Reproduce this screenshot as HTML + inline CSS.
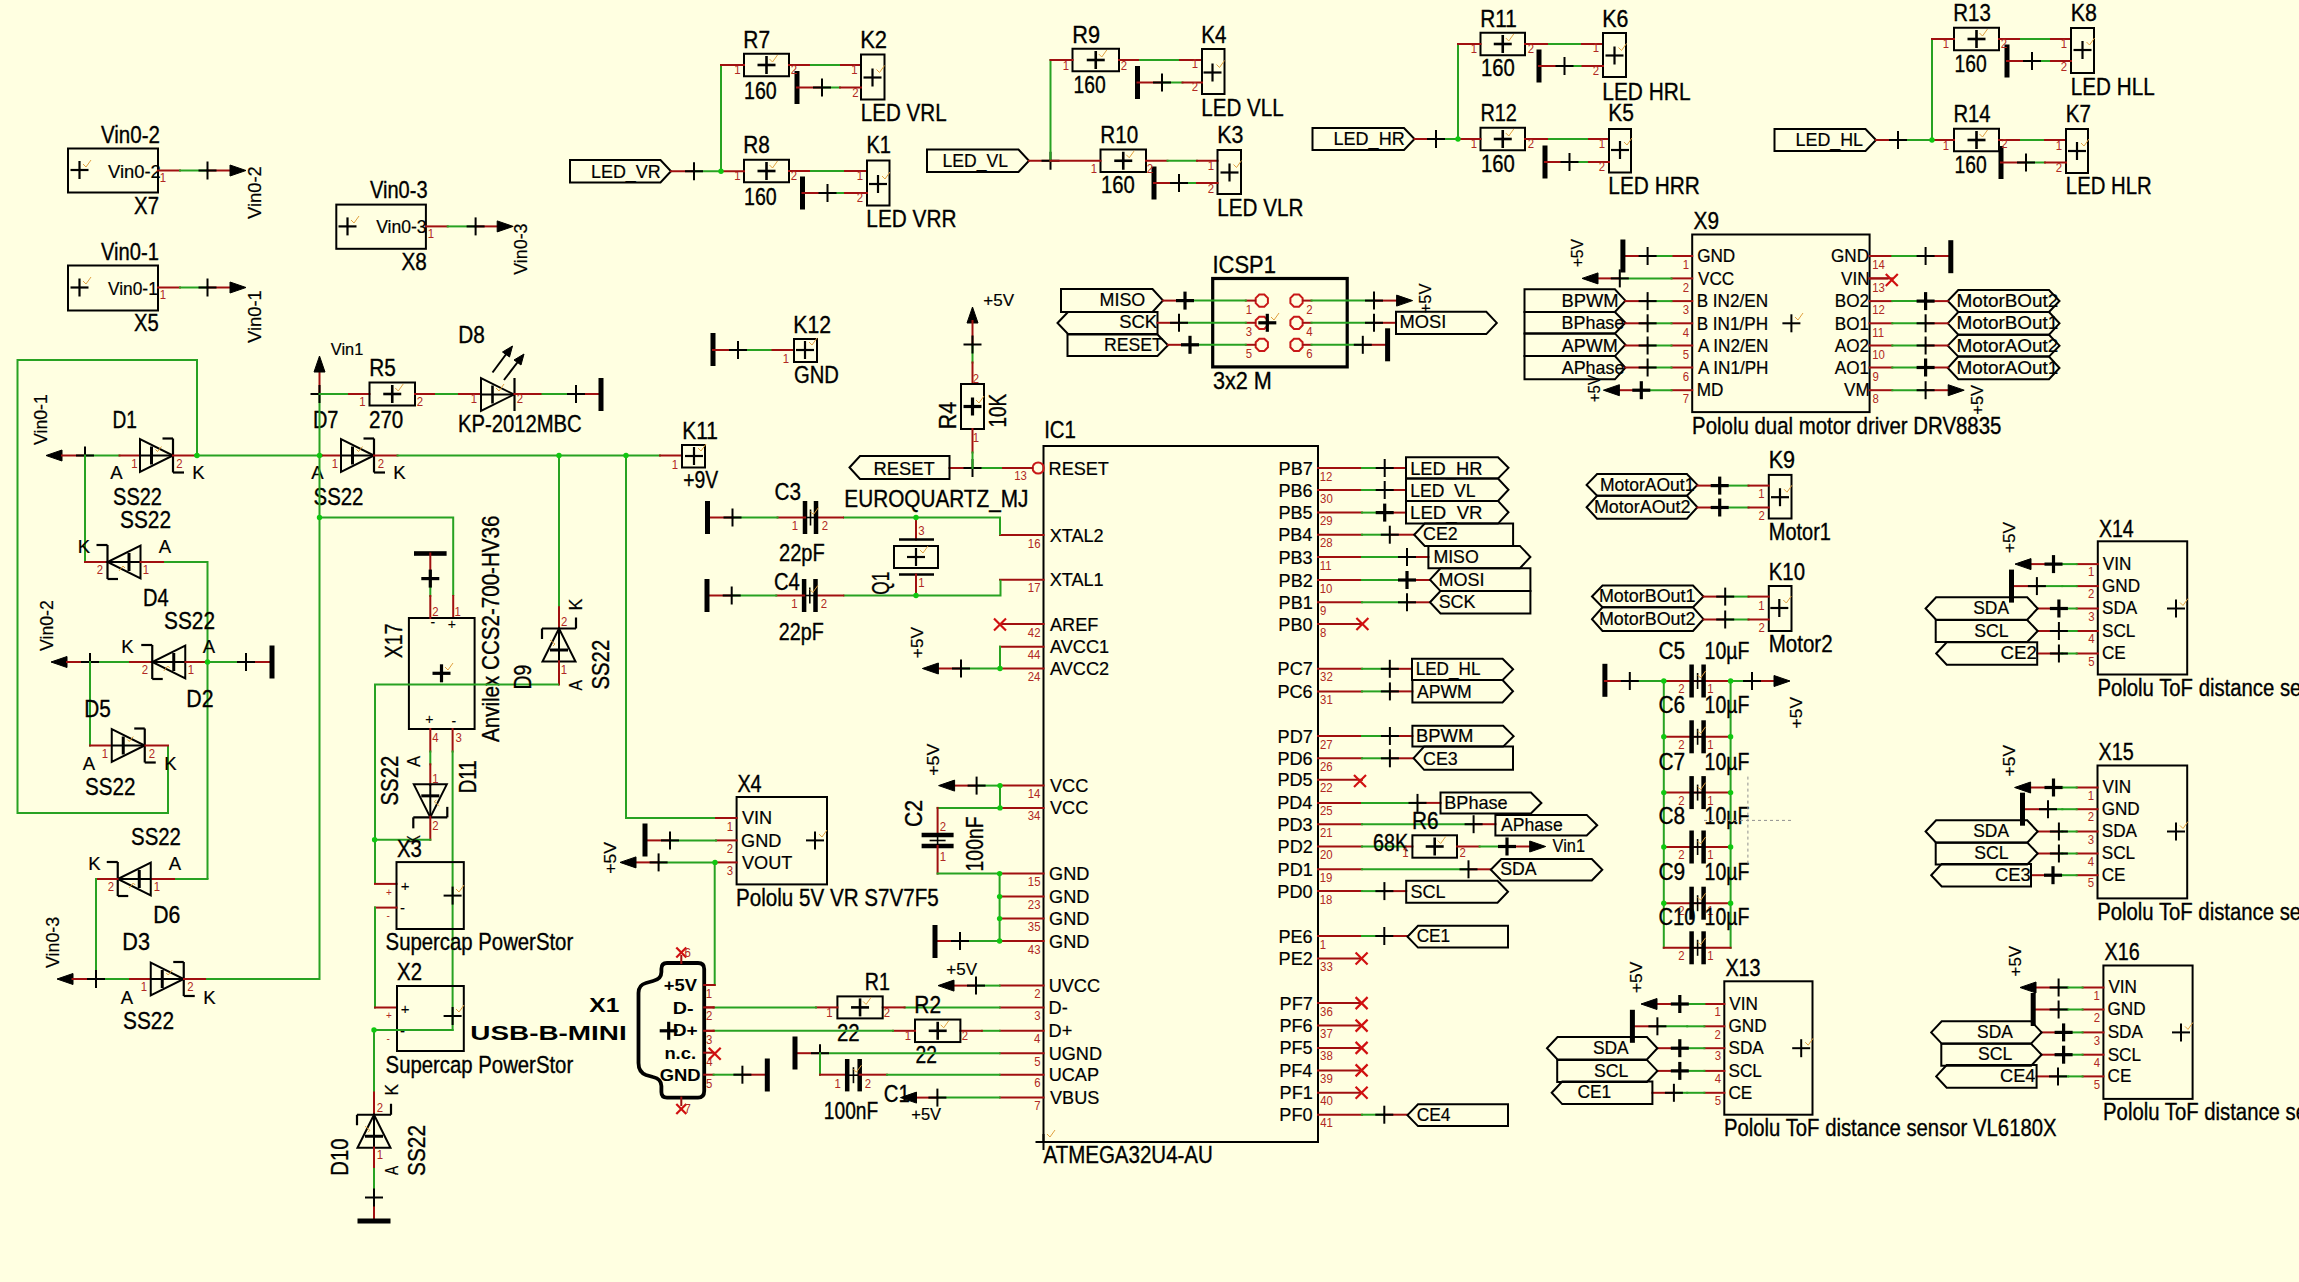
<!DOCTYPE html>
<html><head><meta charset="utf-8"><style>
html,body{margin:0;padding:0;background:#FFFFE1;}
svg{display:block;font-family:"Liberation Sans",sans-serif;}
</style></head><body>
<svg width="2299" height="1282" viewBox="0 0 2299 1282">
<rect x="0" y="0" width="2299" height="1282" fill="#FFFFE1"/>
<rect x="68" y="148.5" width="90" height="44" stroke="#000" stroke-width="2" fill="none"/>
<line x1="70.5" y1="170" x2="88.5" y2="170" stroke="#000" stroke-width="2.2" stroke-linecap="butt"/>
<line x1="79.5" y1="161" x2="79.5" y2="179" stroke="#000" stroke-width="2.2" stroke-linecap="butt"/>
<polyline points="83,164 86,167 91,160" stroke="#E0A040" stroke-width="1" fill="none" stroke-linejoin="miter"/>
<text transform="translate(101,143) scale(0.8737,1)" font-size="23.5" fill="#000" stroke="#000" stroke-width="0.35">Vin0-2</text>
<text transform="translate(108,177.5) scale(1.0226,1)" font-size="18" fill="#000" stroke="#000" stroke-width="0.2">Vin0-2</text>
<text transform="translate(134.09,214) scale(0.8658,1)" font-size="23.5" fill="#000" stroke="#000" stroke-width="0.35">X7</text>
<line x1="158" y1="170.5" x2="180" y2="170.5" stroke="#A01010" stroke-width="2" stroke-linecap="square"/>
<line x1="180" y1="170.5" x2="207.5" y2="170.5" stroke="#28A222" stroke-width="2" stroke-linecap="square"/>
<line x1="207.5" y1="170.5" x2="231" y2="170.5" stroke="#A01010" stroke-width="2" stroke-linecap="square"/>
<line x1="198.5" y1="170.5" x2="216.5" y2="170.5" stroke="#000" stroke-width="2" stroke-linecap="butt"/>
<line x1="207.5" y1="161.5" x2="207.5" y2="179.5" stroke="#000" stroke-width="2" stroke-linecap="butt"/>
<polygon points="246,170.5 230,165 230,176" stroke="#000" stroke-width="1" fill="#000" stroke-linejoin="miter"/>
<text transform="translate(159.67,182.2) scale(0.9500,1)" font-size="12" fill="#B02822">1</text>
<text transform="translate(261,219) rotate(-90) scale(1.0226,1)" font-size="18" fill="#000" stroke="#000" stroke-width="0.2">Vin0-2</text>
<rect x="68" y="265.5" width="90" height="45" stroke="#000" stroke-width="2" fill="none"/>
<line x1="70.5" y1="287.5" x2="88.5" y2="287.5" stroke="#000" stroke-width="2.2" stroke-linecap="butt"/>
<line x1="79.5" y1="278.5" x2="79.5" y2="296.5" stroke="#000" stroke-width="2.2" stroke-linecap="butt"/>
<polyline points="83,281 86,284 91,277" stroke="#E0A040" stroke-width="1" fill="none" stroke-linejoin="miter"/>
<text transform="translate(101,260) scale(0.8586,1)" font-size="23.5" fill="#000" stroke="#000" stroke-width="0.35">Vin0-1</text>
<text transform="translate(108,294.5) scale(0.9636,1)" font-size="18" fill="#000" stroke="#000" stroke-width="0.2">Vin0-1</text>
<text transform="translate(134.09,331) scale(0.8621,1)" font-size="23.5" fill="#000" stroke="#000" stroke-width="0.35">X5</text>
<line x1="158" y1="287.5" x2="180" y2="287.5" stroke="#A01010" stroke-width="2" stroke-linecap="square"/>
<line x1="180" y1="287.5" x2="207.5" y2="287.5" stroke="#28A222" stroke-width="2" stroke-linecap="square"/>
<line x1="207.5" y1="287.5" x2="231" y2="287.5" stroke="#A01010" stroke-width="2" stroke-linecap="square"/>
<line x1="198.5" y1="287.5" x2="216.5" y2="287.5" stroke="#000" stroke-width="2" stroke-linecap="butt"/>
<line x1="207.5" y1="278.5" x2="207.5" y2="296.5" stroke="#000" stroke-width="2" stroke-linecap="butt"/>
<polygon points="246,287.5 230,282 230,293" stroke="#000" stroke-width="1" fill="#000" stroke-linejoin="miter"/>
<text transform="translate(159.67,299.2) scale(0.9500,1)" font-size="12" fill="#B02822">1</text>
<text transform="translate(261,343) rotate(-90) scale(1.0226,1)" font-size="18" fill="#000" stroke="#000" stroke-width="0.2">Vin0-1</text>
<rect x="336.3" y="204.6" width="89.6" height="44.2" stroke="#000" stroke-width="2" fill="none"/>
<line x1="338.5" y1="226.4" x2="356.5" y2="226.4" stroke="#000" stroke-width="2.2" stroke-linecap="butt"/>
<line x1="347.5" y1="217.4" x2="347.5" y2="235.4" stroke="#000" stroke-width="2.2" stroke-linecap="butt"/>
<polyline points="351,220 354,223 359,216" stroke="#E0A040" stroke-width="1" fill="none" stroke-linejoin="miter"/>
<text transform="translate(370,198.3) scale(0.8526,1)" font-size="23.5" fill="#000" stroke="#000" stroke-width="0.35">Vin0-3</text>
<text transform="translate(376.2,233.2) scale(0.9757,1)" font-size="18" fill="#000" stroke="#000" stroke-width="0.2">Vin0-3</text>
<text transform="translate(401.49,269.8) scale(0.8804,1)" font-size="23.5" fill="#000" stroke="#000" stroke-width="0.35">X8</text>
<line x1="426" y1="226.4" x2="447.7" y2="226.4" stroke="#A01010" stroke-width="2" stroke-linecap="square"/>
<line x1="447.7" y1="226.4" x2="475.6" y2="226.4" stroke="#28A222" stroke-width="2" stroke-linecap="square"/>
<line x1="475.6" y1="226.4" x2="498" y2="226.4" stroke="#A01010" stroke-width="2" stroke-linecap="square"/>
<line x1="466.6" y1="226.4" x2="484.6" y2="226.4" stroke="#000" stroke-width="2" stroke-linecap="butt"/>
<line x1="475.6" y1="217.4" x2="475.6" y2="235.4" stroke="#000" stroke-width="2" stroke-linecap="butt"/>
<polygon points="513.2,226.4 497.2,220.9 497.2,231.9" stroke="#000" stroke-width="1" fill="#000" stroke-linejoin="miter"/>
<text transform="translate(427.67,238.2) scale(0.9500,1)" font-size="12" fill="#B02822">1</text>
<text transform="translate(526.9,274.7) rotate(-90) scale(0.9914,1)" font-size="18" fill="#000" stroke="#000" stroke-width="0.2">Vin0-3</text>
<polyline points="168,745.5 168,813 17.5,813 17.5,360 197,360 197,455.5" stroke="#28A222" stroke-width="2" fill="none" stroke-linejoin="miter"/>
<polygon points="46,455.5 62,450 62,461" stroke="#000" stroke-width="1" fill="#000" stroke-linejoin="miter"/>
<line x1="62" y1="455.5" x2="85" y2="455.5" stroke="#A01010" stroke-width="2" stroke-linecap="square"/>
<line x1="85" y1="455.5" x2="119.5" y2="455.5" stroke="#28A222" stroke-width="2" stroke-linecap="square"/>
<line x1="119.5" y1="455.5" x2="140" y2="455.5" stroke="#A01010" stroke-width="2" stroke-linecap="square"/>
<g transform="translate(156.5,455.5) rotate(0)"><polygon points="-16.5,-16.5 -16.5,16.5 16.5,0" fill="none" stroke="#000" stroke-width="2" stroke-linejoin="miter"/><line x1="16.5" y1="-17.0" x2="16.5" y2="17.0" stroke="#000" stroke-width="2.2"/><polyline points="6.0,-17.0 16.5,-17.0" stroke="#000" stroke-width="2.2" fill="none"/><polyline points="16.5,17.0 27.5,17.0" stroke="#000" stroke-width="2.2" fill="none"/><line x1="-16.5" y1="0" x2="16.5" y2="0" stroke="#000" stroke-width="2"/><line x1="-5" y1="-9" x2="-5" y2="9" stroke="#000" stroke-width="3"/><polyline points="-1,-6 1,-4 5,-9" stroke="#E0A040" stroke-width="1" fill="none"/></g>
<line x1="173" y1="455.5" x2="195" y2="455.5" stroke="#A01010" stroke-width="2" stroke-linecap="square"/>
<line x1="195" y1="455.5" x2="322" y2="455.5" stroke="#28A222" stroke-width="2" stroke-linecap="square"/>
<line x1="322" y1="455.5" x2="341" y2="455.5" stroke="#A01010" stroke-width="2" stroke-linecap="square"/>
<g transform="translate(357.5,455.5) rotate(0)"><polygon points="-16.5,-16.5 -16.5,16.5 16.5,0" fill="none" stroke="#000" stroke-width="2" stroke-linejoin="miter"/><line x1="16.5" y1="-17.0" x2="16.5" y2="17.0" stroke="#000" stroke-width="2.2"/><polyline points="6.0,-17.0 16.5,-17.0" stroke="#000" stroke-width="2.2" fill="none"/><polyline points="16.5,17.0 27.5,17.0" stroke="#000" stroke-width="2.2" fill="none"/><line x1="-16.5" y1="0" x2="16.5" y2="0" stroke="#000" stroke-width="2"/><line x1="-5" y1="-9" x2="-5" y2="9" stroke="#000" stroke-width="3"/><polyline points="-1,-6 1,-4 5,-9" stroke="#E0A040" stroke-width="1" fill="none"/></g>
<line x1="374" y1="455.5" x2="397.5" y2="455.5" stroke="#A01010" stroke-width="2" stroke-linecap="square"/>
<line x1="397.5" y1="455.5" x2="660" y2="455.5" stroke="#28A222" stroke-width="2" stroke-linecap="square"/>
<line x1="660" y1="455.5" x2="682" y2="455.5" stroke="#A01010" stroke-width="2" stroke-linecap="square"/>
<line x1="76" y1="455.5" x2="94" y2="455.5" stroke="#000" stroke-width="2" stroke-linecap="butt"/>
<line x1="85" y1="446.5" x2="85" y2="464.5" stroke="#000" stroke-width="2" stroke-linecap="butt"/>
<text transform="translate(47,445) rotate(-90) scale(0.9833,1)" font-size="18" fill="#000" stroke="#000" stroke-width="0.2">Vin0-1</text>
<text transform="translate(112.47,427.5) scale(0.8141,1)" font-size="23.5" fill="#000" stroke="#000" stroke-width="0.35">D1</text>
<text transform="translate(113.1,505) scale(0.8493,1)" font-size="23.5" fill="#000" stroke="#000" stroke-width="0.35">SS22</text>
<text transform="translate(110.35,479) scale(1.0000,1)" font-size="18.5" fill="#000" stroke="#000" stroke-width="0.2">A</text>
<text transform="translate(192.16,478.5) scale(1.0000,1)" font-size="18.5" fill="#000" stroke="#000" stroke-width="0.2">K</text>
<text transform="translate(131.17,467.7) scale(0.9500,1)" font-size="12" fill="#B02822">1</text>
<text transform="translate(176.31,467.7) scale(0.9500,1)" font-size="12" fill="#B02822">2</text>
<text transform="translate(312.9,427.5) scale(0.8511,1)" font-size="23.5" fill="#000" stroke="#000" stroke-width="0.35">D7</text>
<text transform="translate(313.58,505) scale(0.8673,1)" font-size="23.5" fill="#000" stroke="#000" stroke-width="0.35">SS22</text>
<text transform="translate(311.35,479) scale(1.0000,1)" font-size="18.5" fill="#000" stroke="#000" stroke-width="0.2">A</text>
<text transform="translate(393.15,478.5) scale(1.0000,1)" font-size="18.5" fill="#000" stroke="#000" stroke-width="0.2">K</text>
<text transform="translate(331.67,467.7) scale(0.9500,1)" font-size="12" fill="#B02822">1</text>
<text transform="translate(377.81,467.7) scale(0.9500,1)" font-size="12" fill="#B02822">2</text>
<line x1="85" y1="455.5" x2="85" y2="562" stroke="#28A222" stroke-width="2" stroke-linecap="square"/>
<line x1="85" y1="562" x2="107.5" y2="562" stroke="#A01010" stroke-width="2" stroke-linecap="square"/>
<g transform="translate(124,562) rotate(180)"><polygon points="-16.5,-16.5 -16.5,16.5 16.5,0" fill="none" stroke="#000" stroke-width="2" stroke-linejoin="miter"/><line x1="16.5" y1="-17.0" x2="16.5" y2="17.0" stroke="#000" stroke-width="2.2"/><polyline points="6.0,-17.0 16.5,-17.0" stroke="#000" stroke-width="2.2" fill="none"/><polyline points="16.5,17.0 27.5,17.0" stroke="#000" stroke-width="2.2" fill="none"/><line x1="-16.5" y1="0" x2="16.5" y2="0" stroke="#000" stroke-width="2"/><line x1="-5" y1="-9" x2="-5" y2="9" stroke="#000" stroke-width="3"/><polyline points="-1,-6 1,-4 5,-9" stroke="#E0A040" stroke-width="1" fill="none"/></g>
<line x1="140.5" y1="562" x2="164" y2="562" stroke="#A01010" stroke-width="2" stroke-linecap="square"/>
<polyline points="164,562 207.5,562 207.5,879" stroke="#28A222" stroke-width="2" fill="none" stroke-linejoin="miter"/>
<text transform="translate(120.06,527.5) scale(0.8854,1)" font-size="23.5" fill="#000" stroke="#000" stroke-width="0.35">SS22</text>
<text transform="translate(77.66,552.5) scale(1.0000,1)" font-size="18.5" fill="#000" stroke="#000" stroke-width="0.2">K</text>
<text transform="translate(158.85,552.5) scale(1.0000,1)" font-size="18.5" fill="#000" stroke="#000" stroke-width="0.2">A</text>
<text transform="translate(142.89,606) scale(0.8547,1)" font-size="23.5" fill="#000" stroke="#000" stroke-width="0.35">D4</text>
<text transform="translate(164.06,629) scale(0.8854,1)" font-size="23.5" fill="#000" stroke="#000" stroke-width="0.35">SS22</text>
<text transform="translate(96.81,573.7) scale(0.9500,1)" font-size="12" fill="#B02822">2</text>
<text transform="translate(142.67,573.7) scale(0.9500,1)" font-size="12" fill="#B02822">1</text>
<polygon points="51,662 67,656.5 67,667.5" stroke="#000" stroke-width="1" fill="#000" stroke-linejoin="miter"/>
<line x1="67" y1="662" x2="90" y2="662" stroke="#A01010" stroke-width="2" stroke-linecap="square"/>
<line x1="90" y1="662" x2="130" y2="662" stroke="#28A222" stroke-width="2" stroke-linecap="square"/>
<line x1="130" y1="662" x2="152" y2="662" stroke="#A01010" stroke-width="2" stroke-linecap="square"/>
<g transform="translate(168.75,662) rotate(180)"><polygon points="-16.5,-16.5 -16.5,16.5 16.5,0" fill="none" stroke="#000" stroke-width="2" stroke-linejoin="miter"/><line x1="16.5" y1="-17.0" x2="16.5" y2="17.0" stroke="#000" stroke-width="2.2"/><polyline points="6.0,-17.0 16.5,-17.0" stroke="#000" stroke-width="2.2" fill="none"/><polyline points="16.5,17.0 27.5,17.0" stroke="#000" stroke-width="2.2" fill="none"/><line x1="-16.5" y1="0" x2="16.5" y2="0" stroke="#000" stroke-width="2"/><line x1="-5" y1="-9" x2="-5" y2="9" stroke="#000" stroke-width="3"/><polyline points="-1,-6 1,-4 5,-9" stroke="#E0A040" stroke-width="1" fill="none"/></g>
<line x1="185.5" y1="662" x2="207.5" y2="662" stroke="#A01010" stroke-width="2" stroke-linecap="square"/>
<line x1="207.5" y1="662" x2="246" y2="662" stroke="#28A222" stroke-width="2" stroke-linecap="square"/>
<line x1="246" y1="662" x2="270" y2="662" stroke="#A01010" stroke-width="2" stroke-linecap="square"/>
<line x1="81" y1="662" x2="99" y2="662" stroke="#000" stroke-width="2" stroke-linecap="butt"/>
<line x1="90" y1="653" x2="90" y2="671" stroke="#000" stroke-width="2" stroke-linecap="butt"/>
<line x1="237" y1="662" x2="255" y2="662" stroke="#000" stroke-width="2" stroke-linecap="butt"/>
<line x1="246" y1="653" x2="246" y2="671" stroke="#000" stroke-width="2" stroke-linecap="butt"/>
<rect x="269.5" y="645.5" width="5" height="33" fill="#000"/>
<text transform="translate(52.5,651) rotate(-90) scale(0.9833,1)" font-size="18" fill="#000" stroke="#000" stroke-width="0.2">Vin0-2</text>
<text transform="translate(121.16,652.5) scale(1.0000,1)" font-size="18.5" fill="#000" stroke="#000" stroke-width="0.2">K</text>
<text transform="translate(202.85,652.5) scale(1.0000,1)" font-size="18.5" fill="#000" stroke="#000" stroke-width="0.2">A</text>
<text transform="translate(186.3,707) scale(0.9066,1)" font-size="23.5" fill="#000" stroke="#000" stroke-width="0.35">D2</text>
<text transform="translate(141.81,673.7) scale(0.9500,1)" font-size="12" fill="#B02822">2</text>
<text transform="translate(187.67,673.7) scale(0.9500,1)" font-size="12" fill="#B02822">1</text>
<line x1="90" y1="662" x2="90" y2="745.5" stroke="#28A222" stroke-width="2" stroke-linecap="square"/>
<line x1="90" y1="745.5" x2="111" y2="745.5" stroke="#A01010" stroke-width="2" stroke-linecap="square"/>
<g transform="translate(128.25,745.5) rotate(0)"><polygon points="-16.5,-16.5 -16.5,16.5 16.5,0" fill="none" stroke="#000" stroke-width="2" stroke-linejoin="miter"/><line x1="16.5" y1="-17.0" x2="16.5" y2="17.0" stroke="#000" stroke-width="2.2"/><polyline points="6.0,-17.0 16.5,-17.0" stroke="#000" stroke-width="2.2" fill="none"/><polyline points="16.5,17.0 27.5,17.0" stroke="#000" stroke-width="2.2" fill="none"/><line x1="-16.5" y1="0" x2="16.5" y2="0" stroke="#000" stroke-width="2"/><line x1="-5" y1="-9" x2="-5" y2="9" stroke="#000" stroke-width="3"/><polyline points="-1,-6 1,-4 5,-9" stroke="#E0A040" stroke-width="1" fill="none"/></g>
<line x1="145.5" y1="745.5" x2="168" y2="745.5" stroke="#A01010" stroke-width="2" stroke-linecap="square"/>
<text transform="translate(84.34,717) scale(0.8842,1)" font-size="23.5" fill="#000" stroke="#000" stroke-width="0.35">D5</text>
<text transform="translate(82.85,769.5) scale(1.0000,1)" font-size="18.5" fill="#000" stroke="#000" stroke-width="0.2">A</text>
<text transform="translate(164.16,769.5) scale(1.0000,1)" font-size="18.5" fill="#000" stroke="#000" stroke-width="0.2">K</text>
<text transform="translate(85.07,795) scale(0.8764,1)" font-size="23.5" fill="#000" stroke="#000" stroke-width="0.35">SS22</text>
<text transform="translate(101.67,757.7) scale(0.9500,1)" font-size="12" fill="#B02822">1</text>
<text transform="translate(148.81,757.7) scale(0.9500,1)" font-size="12" fill="#B02822">2</text>
<line x1="207.5" y1="879" x2="174" y2="879" stroke="#28A222" stroke-width="2" stroke-linecap="square"/>
<line x1="174" y1="879" x2="151" y2="879" stroke="#A01010" stroke-width="2" stroke-linecap="square"/>
<g transform="translate(134.25,879) rotate(180)"><polygon points="-16.5,-16.5 -16.5,16.5 16.5,0" fill="none" stroke="#000" stroke-width="2" stroke-linejoin="miter"/><line x1="16.5" y1="-17.0" x2="16.5" y2="17.0" stroke="#000" stroke-width="2.2"/><polyline points="6.0,-17.0 16.5,-17.0" stroke="#000" stroke-width="2.2" fill="none"/><polyline points="16.5,17.0 27.5,17.0" stroke="#000" stroke-width="2.2" fill="none"/><line x1="-16.5" y1="0" x2="16.5" y2="0" stroke="#000" stroke-width="2"/><line x1="-5" y1="-9" x2="-5" y2="9" stroke="#000" stroke-width="3"/><polyline points="-1,-6 1,-4 5,-9" stroke="#E0A040" stroke-width="1" fill="none"/></g>
<line x1="117.5" y1="879" x2="96" y2="879" stroke="#A01010" stroke-width="2" stroke-linecap="square"/>
<line x1="96" y1="879" x2="96" y2="979" stroke="#28A222" stroke-width="2" stroke-linecap="square"/>
<text transform="translate(131.08,845) scale(0.8673,1)" font-size="23.5" fill="#000" stroke="#000" stroke-width="0.35">SS22</text>
<text transform="translate(88.16,869.5) scale(1.0000,1)" font-size="18.5" fill="#000" stroke="#000" stroke-width="0.2">K</text>
<text transform="translate(168.85,869.5) scale(1.0000,1)" font-size="18.5" fill="#000" stroke="#000" stroke-width="0.2">A</text>
<text transform="translate(153.3,923) scale(0.9026,1)" font-size="23.5" fill="#000" stroke="#000" stroke-width="0.35">D6</text>
<text transform="translate(107.81,890.7) scale(0.9500,1)" font-size="12" fill="#B02822">2</text>
<text transform="translate(153.67,890.7) scale(0.9500,1)" font-size="12" fill="#B02822">1</text>
<polygon points="57,979 73,973.5 73,984.5" stroke="#000" stroke-width="1" fill="#000" stroke-linejoin="miter"/>
<line x1="72.5" y1="979" x2="96" y2="979" stroke="#A01010" stroke-width="2" stroke-linecap="square"/>
<line x1="96" y1="979" x2="130" y2="979" stroke="#28A222" stroke-width="2" stroke-linecap="square"/>
<line x1="130" y1="979" x2="150.5" y2="979" stroke="#A01010" stroke-width="2" stroke-linecap="square"/>
<g transform="translate(167.25,979) rotate(0)"><polygon points="-16.5,-16.5 -16.5,16.5 16.5,0" fill="none" stroke="#000" stroke-width="2" stroke-linejoin="miter"/><line x1="16.5" y1="-17.0" x2="16.5" y2="17.0" stroke="#000" stroke-width="2.2"/><polyline points="6.0,-17.0 16.5,-17.0" stroke="#000" stroke-width="2.2" fill="none"/><polyline points="16.5,17.0 27.5,17.0" stroke="#000" stroke-width="2.2" fill="none"/><line x1="-16.5" y1="0" x2="16.5" y2="0" stroke="#000" stroke-width="2"/><line x1="-5" y1="-9" x2="-5" y2="9" stroke="#000" stroke-width="3"/><polyline points="-1,-6 1,-4 5,-9" stroke="#E0A040" stroke-width="1" fill="none"/></g>
<line x1="184" y1="979" x2="206" y2="979" stroke="#A01010" stroke-width="2" stroke-linecap="square"/>
<polyline points="206,979 319.5,979 319.5,394" stroke="#28A222" stroke-width="2" fill="none" stroke-linejoin="miter"/>
<line x1="87" y1="979" x2="105" y2="979" stroke="#000" stroke-width="2" stroke-linecap="butt"/>
<line x1="96" y1="970" x2="96" y2="988" stroke="#000" stroke-width="2" stroke-linecap="butt"/>
<text transform="translate(59,968) rotate(-90) scale(0.9914,1)" font-size="18" fill="#000" stroke="#000" stroke-width="0.2">Vin0-3</text>
<text transform="translate(122.27,950) scale(0.9211,1)" font-size="23.5" fill="#000" stroke="#000" stroke-width="0.35">D3</text>
<text transform="translate(120.85,1004) scale(1.0000,1)" font-size="18.5" fill="#000" stroke="#000" stroke-width="0.2">A</text>
<text transform="translate(203.16,1004) scale(1.0000,1)" font-size="18.5" fill="#000" stroke="#000" stroke-width="0.2">K</text>
<text transform="translate(123.06,1029) scale(0.8854,1)" font-size="23.5" fill="#000" stroke="#000" stroke-width="0.35">SS22</text>
<text transform="translate(140.67,991.2) scale(0.9500,1)" font-size="12" fill="#B02822">1</text>
<text transform="translate(187.31,991.2) scale(0.9500,1)" font-size="12" fill="#B02822">2</text>
<line x1="319.5" y1="394" x2="319.5" y2="371" stroke="#A01010" stroke-width="2" stroke-linecap="square"/>
<polygon points="319.5,356 314,372 325,372" stroke="#000" stroke-width="1" fill="#000" stroke-linejoin="miter"/>
<line x1="310.5" y1="394" x2="328.5" y2="394" stroke="#000" stroke-width="2" stroke-linecap="butt"/>
<line x1="319.5" y1="385" x2="319.5" y2="403" stroke="#000" stroke-width="2" stroke-linecap="butt"/>
<text transform="translate(330.75,355) scale(0.9944,1)" font-size="16.5" fill="#000" stroke="#000" stroke-width="0.2">Vin1</text>
<line x1="319.5" y1="394" x2="349" y2="394" stroke="#28A222" stroke-width="2" stroke-linecap="square"/>
<line x1="349" y1="394" x2="369.5" y2="394" stroke="#A01010" stroke-width="2" stroke-linecap="square"/>
<rect x="369.5" y="382.5" width="45.5" height="23" stroke="#000" stroke-width="2" fill="none"/>
<line x1="383.25" y1="394" x2="401.25" y2="394" stroke="#000" stroke-width="2.6" stroke-linecap="butt"/>
<line x1="392.25" y1="385" x2="392.25" y2="403" stroke="#000" stroke-width="2.6" stroke-linecap="butt"/>
<polyline points="395.25,388 398.25,391 403.25,384" stroke="#E0A040" stroke-width="1" fill="none" stroke-linejoin="miter"/>
<line x1="415" y1="394" x2="436" y2="394" stroke="#A01010" stroke-width="2" stroke-linecap="square"/>
<line x1="436" y1="394" x2="459" y2="394" stroke="#28A222" stroke-width="2" stroke-linecap="square"/>
<line x1="459" y1="394" x2="481" y2="394" stroke="#A01010" stroke-width="2" stroke-linecap="square"/>
<text transform="translate(369.34,376) scale(0.8842,1)" font-size="23.5" fill="#000" stroke="#000" stroke-width="0.35">R5</text>
<text transform="translate(368.97,427.5) scale(0.8753,1)" font-size="23.5" fill="#000" stroke="#000" stroke-width="0.35">270</text>
<text transform="translate(359.17,406.2) scale(0.9500,1)" font-size="12" fill="#B02822">1</text>
<text transform="translate(416.81,406.2) scale(0.9500,1)" font-size="12" fill="#B02822">2</text>
<polygon points="481,378 481,411 514,394.5" stroke="#000" stroke-width="2" fill="none" stroke-linejoin="miter"/>
<line x1="514.5" y1="378" x2="514.5" y2="411" stroke="#000" stroke-width="2.2" stroke-linecap="butt"/>
<line x1="481" y1="394.5" x2="514" y2="394.5" stroke="#000" stroke-width="2" stroke-linecap="butt"/>
<line x1="492.5" y1="385.5" x2="492.5" y2="403.5" stroke="#000" stroke-width="2.6" stroke-linecap="butt"/>
<polyline points="496,388 499,391 504,384" stroke="#E0A040" stroke-width="1" fill="none" stroke-linejoin="miter"/>
<line x1="492.5" y1="372.5" x2="507" y2="353" stroke="#000" stroke-width="2" stroke-linecap="butt"/>
<polygon points="512.5,346 502.5,352 509.5,357" stroke="#000" stroke-width="1" fill="#000" stroke-linejoin="miter"/>
<line x1="504" y1="380" x2="518.5" y2="361" stroke="#000" stroke-width="2" stroke-linecap="butt"/>
<polygon points="524,354 514,360 521,365" stroke="#000" stroke-width="1" fill="#000" stroke-linejoin="miter"/>
<line x1="514.5" y1="394" x2="542.5" y2="394" stroke="#A01010" stroke-width="2" stroke-linecap="square"/>
<line x1="542.5" y1="394" x2="576" y2="394" stroke="#28A222" stroke-width="2" stroke-linecap="square"/>
<line x1="576" y1="394" x2="599" y2="394" stroke="#A01010" stroke-width="2" stroke-linecap="square"/>
<line x1="567" y1="394" x2="585" y2="394" stroke="#000" stroke-width="2" stroke-linecap="butt"/>
<line x1="576" y1="385" x2="576" y2="403" stroke="#000" stroke-width="2" stroke-linecap="butt"/>
<rect x="598.5" y="378" width="5" height="33" fill="#000"/>
<text transform="translate(458.34,343) scale(0.8842,1)" font-size="23.5" fill="#000" stroke="#000" stroke-width="0.35">D8</text>
<text transform="translate(457.88,432) scale(0.8624,1)" font-size="23.5" fill="#000" stroke="#000" stroke-width="0.35">KP-2012MBC</text>
<text transform="translate(470.67,402.7) scale(0.9500,1)" font-size="12" fill="#B02822">1</text>
<text transform="translate(516.81,402.7) scale(0.9500,1)" font-size="12" fill="#B02822">2</text>
<polyline points="319.5,517.5 453.2,517.5 453.2,596" stroke="#28A222" stroke-width="2" fill="none" stroke-linejoin="miter"/>
<line x1="453.2" y1="596" x2="453.2" y2="618" stroke="#A01010" stroke-width="2" stroke-linecap="square"/>
<polygon points="570,160 660.5,160 671,171.25 660.5,182.5 570,182.5" stroke="#000" stroke-width="2" fill="none" stroke-linejoin="miter"/>
<text transform="translate(591.07,178) scale(0.9947,1)" font-size="18" fill="#000" stroke="#000" stroke-width="0.2">LED_VR</text>
<line x1="671" y1="171.25" x2="694" y2="171.25" stroke="#A01010" stroke-width="2" stroke-linecap="square"/>
<line x1="694" y1="171.25" x2="721" y2="171.25" stroke="#28A222" stroke-width="2" stroke-linecap="square"/>
<line x1="685" y1="171.25" x2="703" y2="171.25" stroke="#000" stroke-width="2" stroke-linecap="butt"/>
<line x1="694" y1="162.25" x2="694" y2="180.25" stroke="#000" stroke-width="2" stroke-linecap="butt"/>
<rect x="744" y="53.75" width="45" height="22.5" stroke="#000" stroke-width="2" fill="none"/>
<line x1="757.5" y1="65" x2="775.5" y2="65" stroke="#000" stroke-width="2.6" stroke-linecap="butt"/>
<line x1="766.5" y1="56" x2="766.5" y2="74" stroke="#000" stroke-width="2.6" stroke-linecap="butt"/>
<polyline points="769.5,59 772.5,62 777.5,55" stroke="#E0A040" stroke-width="1" fill="none" stroke-linejoin="miter"/>
<line x1="789" y1="65" x2="811" y2="65" stroke="#A01010" stroke-width="2" stroke-linecap="square"/>
<line x1="811" y1="65" x2="841" y2="65" stroke="#28A222" stroke-width="2" stroke-linecap="square"/>
<line x1="841" y1="65" x2="861" y2="65" stroke="#A01010" stroke-width="2" stroke-linecap="square"/>
<rect x="861" y="54.5" width="23.5" height="45" stroke="#000" stroke-width="2" fill="none"/>
<line x1="863.5" y1="77.5" x2="881.5" y2="77.5" stroke="#000" stroke-width="2.2" stroke-linecap="butt"/>
<line x1="872.5" y1="68.5" x2="872.5" y2="86.5" stroke="#000" stroke-width="2.2" stroke-linecap="butt"/>
<polyline points="876.5,69.5 879.5,72.5 884.5,65.5" stroke="#E0A040" stroke-width="1" fill="none" stroke-linejoin="miter"/>
<rect x="794.5" y="71" width="5" height="33" fill="#000"/>
<line x1="797" y1="87.5" x2="822" y2="87.5" stroke="#A01010" stroke-width="2" stroke-linecap="square"/>
<line x1="822" y1="87.5" x2="840" y2="87.5" stroke="#28A222" stroke-width="2" stroke-linecap="square"/>
<line x1="840" y1="87.5" x2="861" y2="87.5" stroke="#A01010" stroke-width="2" stroke-linecap="square"/>
<line x1="813" y1="87.5" x2="831" y2="87.5" stroke="#000" stroke-width="2" stroke-linecap="butt"/>
<line x1="822" y1="78.5" x2="822" y2="96.5" stroke="#000" stroke-width="2" stroke-linecap="butt"/>
<text transform="translate(743.33,47.5) scale(0.8881,1)" font-size="23.5" fill="#000" stroke="#000" stroke-width="0.35">R7</text>
<text transform="translate(744.03,99) scale(0.8346,1)" font-size="23.5" fill="#000" stroke="#000" stroke-width="0.35">160</text>
<text transform="translate(860.25,47.5) scale(0.9327,1)" font-size="23.5" fill="#000" stroke="#000" stroke-width="0.35">K2</text>
<text transform="translate(860.85,121) scale(0.8762,1)" font-size="23.5" fill="#000" stroke="#000" stroke-width="0.35">LED VRL</text>
<text transform="translate(734.17,74.2) scale(0.9500,1)" font-size="12" fill="#B02822">1</text>
<text transform="translate(790.81,74.2) scale(0.9500,1)" font-size="12" fill="#B02822">2</text>
<text transform="translate(851.17,74.2) scale(0.9500,1)" font-size="12" fill="#B02822">1</text>
<text transform="translate(852.31,96.7) scale(0.9500,1)" font-size="12" fill="#B02822">2</text>
<rect x="744" y="159.75" width="45" height="22.5" stroke="#000" stroke-width="2" fill="none"/>
<line x1="757.5" y1="171" x2="775.5" y2="171" stroke="#000" stroke-width="2.6" stroke-linecap="butt"/>
<line x1="766.5" y1="162" x2="766.5" y2="180" stroke="#000" stroke-width="2.6" stroke-linecap="butt"/>
<polyline points="769.5,165 772.5,168 777.5,161" stroke="#E0A040" stroke-width="1" fill="none" stroke-linejoin="miter"/>
<line x1="789" y1="171" x2="811" y2="171" stroke="#A01010" stroke-width="2" stroke-linecap="square"/>
<line x1="811" y1="171" x2="845" y2="171" stroke="#28A222" stroke-width="2" stroke-linecap="square"/>
<line x1="845" y1="171" x2="867" y2="171" stroke="#A01010" stroke-width="2" stroke-linecap="square"/>
<rect x="867" y="160.5" width="22.5" height="45" stroke="#000" stroke-width="2" fill="none"/>
<line x1="869" y1="184" x2="887" y2="184" stroke="#000" stroke-width="2.2" stroke-linecap="butt"/>
<line x1="878" y1="175" x2="878" y2="193" stroke="#000" stroke-width="2.2" stroke-linecap="butt"/>
<polyline points="882,176 885,179 890,172" stroke="#E0A040" stroke-width="1" fill="none" stroke-linejoin="miter"/>
<rect x="800" y="176.5" width="5" height="33" fill="#000"/>
<line x1="802.5" y1="193" x2="827.5" y2="193" stroke="#A01010" stroke-width="2" stroke-linecap="square"/>
<line x1="827.5" y1="193" x2="845" y2="193" stroke="#28A222" stroke-width="2" stroke-linecap="square"/>
<line x1="845" y1="193" x2="867" y2="193" stroke="#A01010" stroke-width="2" stroke-linecap="square"/>
<line x1="818.5" y1="193" x2="836.5" y2="193" stroke="#000" stroke-width="2" stroke-linecap="butt"/>
<line x1="827.5" y1="184" x2="827.5" y2="202" stroke="#000" stroke-width="2" stroke-linecap="butt"/>
<text transform="translate(743.34,153) scale(0.8842,1)" font-size="23.5" fill="#000" stroke="#000" stroke-width="0.35">R8</text>
<text transform="translate(744.03,205) scale(0.8346,1)" font-size="23.5" fill="#000" stroke="#000" stroke-width="0.35">160</text>
<text transform="translate(866.39,153) scale(0.8549,1)" font-size="23.5" fill="#000" stroke="#000" stroke-width="0.35">K1</text>
<text transform="translate(866.34,227) scale(0.8844,1)" font-size="23.5" fill="#000" stroke="#000" stroke-width="0.35">LED VRR</text>
<text transform="translate(734.17,180.2) scale(0.9500,1)" font-size="12" fill="#B02822">1</text>
<text transform="translate(790.81,180.2) scale(0.9500,1)" font-size="12" fill="#B02822">2</text>
<text transform="translate(856.67,180.2) scale(0.9500,1)" font-size="12" fill="#B02822">1</text>
<text transform="translate(856.81,202.2) scale(0.9500,1)" font-size="12" fill="#B02822">2</text>
<line x1="721" y1="171.25" x2="721" y2="65" stroke="#28A222" stroke-width="2" stroke-linecap="square"/>
<line x1="721" y1="65" x2="744" y2="65" stroke="#A01010" stroke-width="2" stroke-linecap="square"/>
<line x1="721" y1="171.25" x2="744" y2="171.25" stroke="#A01010" stroke-width="2" stroke-linecap="square"/>
<polygon points="927,149.5 1018.5,149.5 1029,160.75 1018.5,172 927,172" stroke="#000" stroke-width="2" fill="none" stroke-linejoin="miter"/>
<text transform="translate(942.59,167) scale(0.9759,1)" font-size="18" fill="#000" stroke="#000" stroke-width="0.2">LED_VL</text>
<line x1="1029" y1="160.75" x2="1050.5" y2="160.75" stroke="#A01010" stroke-width="2" stroke-linecap="square"/>
<line x1="1050.5" y1="160.75" x2="1050.5" y2="160.75" stroke="#28A222" stroke-width="2" stroke-linecap="square"/>
<line x1="1041.5" y1="160.75" x2="1059.5" y2="160.75" stroke="#000" stroke-width="2" stroke-linecap="butt"/>
<line x1="1050.5" y1="151.75" x2="1050.5" y2="169.75" stroke="#000" stroke-width="2" stroke-linecap="butt"/>
<rect x="1072.5" y="48.75" width="46.5" height="22.5" stroke="#000" stroke-width="2" fill="none"/>
<line x1="1086.75" y1="60" x2="1104.75" y2="60" stroke="#000" stroke-width="2.6" stroke-linecap="butt"/>
<line x1="1095.75" y1="51" x2="1095.75" y2="69" stroke="#000" stroke-width="2.6" stroke-linecap="butt"/>
<polyline points="1098.75,54 1101.75,57 1106.75,50" stroke="#E0A040" stroke-width="1" fill="none" stroke-linejoin="miter"/>
<line x1="1119" y1="60" x2="1140" y2="60" stroke="#A01010" stroke-width="2" stroke-linecap="square"/>
<line x1="1140" y1="60" x2="1180" y2="60" stroke="#28A222" stroke-width="2" stroke-linecap="square"/>
<line x1="1180" y1="60" x2="1202" y2="60" stroke="#A01010" stroke-width="2" stroke-linecap="square"/>
<rect x="1202" y="49" width="22.5" height="45" stroke="#000" stroke-width="2" fill="none"/>
<line x1="1203.5" y1="72.5" x2="1221.5" y2="72.5" stroke="#000" stroke-width="2.2" stroke-linecap="butt"/>
<line x1="1212.5" y1="63.5" x2="1212.5" y2="81.5" stroke="#000" stroke-width="2.2" stroke-linecap="butt"/>
<polyline points="1216.5,64.5 1219.5,67.5 1224.5,60.5" stroke="#E0A040" stroke-width="1" fill="none" stroke-linejoin="miter"/>
<rect x="1135" y="66" width="5" height="33" fill="#000"/>
<line x1="1137.5" y1="82.5" x2="1162" y2="82.5" stroke="#A01010" stroke-width="2" stroke-linecap="square"/>
<line x1="1162" y1="82.5" x2="1182.5" y2="82.5" stroke="#28A222" stroke-width="2" stroke-linecap="square"/>
<line x1="1182.5" y1="82.5" x2="1202" y2="82.5" stroke="#A01010" stroke-width="2" stroke-linecap="square"/>
<line x1="1153" y1="82.5" x2="1171" y2="82.5" stroke="#000" stroke-width="2" stroke-linecap="butt"/>
<line x1="1162" y1="73.5" x2="1162" y2="91.5" stroke="#000" stroke-width="2" stroke-linecap="butt"/>
<text transform="translate(1072.26,42.5) scale(0.9251,1)" font-size="23.5" fill="#000" stroke="#000" stroke-width="0.35">R9</text>
<text transform="translate(1073.55,93) scale(0.8210,1)" font-size="23.5" fill="#000" stroke="#000" stroke-width="0.35">160</text>
<text transform="translate(1201.35,42.5) scale(0.8778,1)" font-size="23.5" fill="#000" stroke="#000" stroke-width="0.35">K4</text>
<text transform="translate(1201.35,115.5) scale(0.8751,1)" font-size="23.5" fill="#000" stroke="#000" stroke-width="0.35">LED VLL</text>
<text transform="translate(1062.67,69.7) scale(0.9500,1)" font-size="12" fill="#B02822">1</text>
<text transform="translate(1120.81,69.7) scale(0.9500,1)" font-size="12" fill="#B02822">2</text>
<text transform="translate(1191.67,68.2) scale(0.9500,1)" font-size="12" fill="#B02822">1</text>
<text transform="translate(1191.81,91.2) scale(0.9500,1)" font-size="12" fill="#B02822">2</text>
<rect x="1100.5" y="149.5" width="45.5" height="22.5" stroke="#000" stroke-width="2" fill="none"/>
<line x1="1114.25" y1="160.75" x2="1132.25" y2="160.75" stroke="#000" stroke-width="2.6" stroke-linecap="butt"/>
<line x1="1123.25" y1="151.75" x2="1123.25" y2="169.75" stroke="#000" stroke-width="2.6" stroke-linecap="butt"/>
<polyline points="1126.25,154.75 1129.25,157.75 1134.25,150.75" stroke="#E0A040" stroke-width="1" fill="none" stroke-linejoin="miter"/>
<line x1="1146" y1="160.75" x2="1167.5" y2="160.75" stroke="#A01010" stroke-width="2" stroke-linecap="square"/>
<line x1="1167.5" y1="160.75" x2="1197" y2="160.75" stroke="#28A222" stroke-width="2" stroke-linecap="square"/>
<line x1="1197" y1="160.75" x2="1217.5" y2="160.75" stroke="#A01010" stroke-width="2" stroke-linecap="square"/>
<rect x="1217.5" y="150" width="23.5" height="44" stroke="#000" stroke-width="2" fill="none"/>
<line x1="1220.5" y1="172.5" x2="1238.5" y2="172.5" stroke="#000" stroke-width="2.2" stroke-linecap="butt"/>
<line x1="1229.5" y1="163.5" x2="1229.5" y2="181.5" stroke="#000" stroke-width="2.2" stroke-linecap="butt"/>
<polyline points="1233.5,164.5 1236.5,167.5 1241.5,160.5" stroke="#E0A040" stroke-width="1" fill="none" stroke-linejoin="miter"/>
<rect x="1151.5" y="166.5" width="5" height="33" fill="#000"/>
<line x1="1154" y1="183" x2="1179" y2="183" stroke="#A01010" stroke-width="2" stroke-linecap="square"/>
<line x1="1179" y1="183" x2="1197" y2="183" stroke="#28A222" stroke-width="2" stroke-linecap="square"/>
<line x1="1197" y1="183" x2="1217.5" y2="183" stroke="#A01010" stroke-width="2" stroke-linecap="square"/>
<line x1="1170" y1="183" x2="1188" y2="183" stroke="#000" stroke-width="2" stroke-linecap="butt"/>
<line x1="1179" y1="174" x2="1179" y2="192" stroke="#000" stroke-width="2" stroke-linecap="butt"/>
<text transform="translate(1100.35,143) scale(0.8783,1)" font-size="23.5" fill="#000" stroke="#000" stroke-width="0.35">R10</text>
<text transform="translate(1100.98,193) scale(0.8620,1)" font-size="23.5" fill="#000" stroke="#000" stroke-width="0.35">160</text>
<text transform="translate(1217.29,143) scale(0.9091,1)" font-size="23.5" fill="#000" stroke="#000" stroke-width="0.35">K3</text>
<text transform="translate(1217.35,216) scale(0.8784,1)" font-size="23.5" fill="#000" stroke="#000" stroke-width="0.35">LED VLR</text>
<text transform="translate(1090.67,172.7) scale(0.9500,1)" font-size="12" fill="#B02822">1</text>
<text transform="translate(1146.81,172.7) scale(0.9500,1)" font-size="12" fill="#B02822">2</text>
<text transform="translate(1207.67,170.2) scale(0.9500,1)" font-size="12" fill="#B02822">1</text>
<text transform="translate(1207.81,193.2) scale(0.9500,1)" font-size="12" fill="#B02822">2</text>
<line x1="1050.5" y1="160.75" x2="1050.5" y2="60" stroke="#28A222" stroke-width="2" stroke-linecap="square"/>
<line x1="1050.5" y1="60" x2="1072.5" y2="60" stroke="#A01010" stroke-width="2" stroke-linecap="square"/>
<line x1="1050.5" y1="160.75" x2="1100.5" y2="160.75" stroke="#A01010" stroke-width="2" stroke-linecap="square"/>
<polygon points="1312.5,128 1404,128 1414.5,139 1404,150 1312.5,150" stroke="#000" stroke-width="2" fill="none" stroke-linejoin="miter"/>
<text transform="translate(1333.56,145) scale(1.0022,1)" font-size="18" fill="#000" stroke="#000" stroke-width="0.2">LED_HR</text>
<line x1="1414.5" y1="139" x2="1436" y2="139" stroke="#A01010" stroke-width="2" stroke-linecap="square"/>
<line x1="1436" y1="139" x2="1458" y2="139" stroke="#28A222" stroke-width="2" stroke-linecap="square"/>
<line x1="1427" y1="139" x2="1445" y2="139" stroke="#000" stroke-width="2" stroke-linecap="butt"/>
<line x1="1436" y1="130" x2="1436" y2="148" stroke="#000" stroke-width="2" stroke-linecap="butt"/>
<rect x="1480.5" y="32.75" width="44.5" height="22.5" stroke="#000" stroke-width="2" fill="none"/>
<line x1="1493.75" y1="44" x2="1511.75" y2="44" stroke="#000" stroke-width="2.6" stroke-linecap="butt"/>
<line x1="1502.75" y1="35" x2="1502.75" y2="53" stroke="#000" stroke-width="2.6" stroke-linecap="butt"/>
<polyline points="1505.75,38 1508.75,41 1513.75,34" stroke="#E0A040" stroke-width="1" fill="none" stroke-linejoin="miter"/>
<line x1="1525" y1="44" x2="1549" y2="44" stroke="#A01010" stroke-width="2" stroke-linecap="square"/>
<line x1="1549" y1="44" x2="1582" y2="44" stroke="#28A222" stroke-width="2" stroke-linecap="square"/>
<line x1="1582" y1="44" x2="1603" y2="44" stroke="#A01010" stroke-width="2" stroke-linecap="square"/>
<rect x="1603" y="33" width="23" height="44" stroke="#000" stroke-width="2" fill="none"/>
<line x1="1605.5" y1="55.5" x2="1623.5" y2="55.5" stroke="#000" stroke-width="2.2" stroke-linecap="butt"/>
<line x1="1614.5" y1="46.5" x2="1614.5" y2="64.5" stroke="#000" stroke-width="2.2" stroke-linecap="butt"/>
<polyline points="1618.5,47.5 1621.5,50.5 1626.5,43.5" stroke="#E0A040" stroke-width="1" fill="none" stroke-linejoin="miter"/>
<rect x="1536.5" y="49.5" width="5" height="33" fill="#000"/>
<line x1="1539" y1="66" x2="1564.5" y2="66" stroke="#A01010" stroke-width="2" stroke-linecap="square"/>
<line x1="1564.5" y1="66" x2="1582.5" y2="66" stroke="#28A222" stroke-width="2" stroke-linecap="square"/>
<line x1="1582.5" y1="66" x2="1603" y2="66" stroke="#A01010" stroke-width="2" stroke-linecap="square"/>
<line x1="1555.5" y1="66" x2="1573.5" y2="66" stroke="#000" stroke-width="2" stroke-linecap="butt"/>
<line x1="1564.5" y1="57" x2="1564.5" y2="75" stroke="#000" stroke-width="2" stroke-linecap="butt"/>
<text transform="translate(1480.34,27) scale(0.8849,1)" font-size="23.5" fill="#000" stroke="#000" stroke-width="0.35">R11</text>
<text transform="translate(1480.98,75.5) scale(0.8620,1)" font-size="23.5" fill="#000" stroke="#000" stroke-width="0.35">160</text>
<text transform="translate(1602.29,27) scale(0.9091,1)" font-size="23.5" fill="#000" stroke="#000" stroke-width="0.35">K6</text>
<text transform="translate(1602.33,100) scale(0.8893,1)" font-size="23.5" fill="#000" stroke="#000" stroke-width="0.35">LED HRL</text>
<text transform="translate(1470.67,53.2) scale(0.9500,1)" font-size="12" fill="#B02822">1</text>
<text transform="translate(1527.81,53.2) scale(0.9500,1)" font-size="12" fill="#B02822">2</text>
<text transform="translate(1592.67,51.7) scale(0.9500,1)" font-size="12" fill="#B02822">1</text>
<text transform="translate(1592.81,75.2) scale(0.9500,1)" font-size="12" fill="#B02822">2</text>
<rect x="1480.5" y="127.75" width="44.5" height="22.5" stroke="#000" stroke-width="2" fill="none"/>
<line x1="1493.75" y1="139" x2="1511.75" y2="139" stroke="#000" stroke-width="2.6" stroke-linecap="butt"/>
<line x1="1502.75" y1="130" x2="1502.75" y2="148" stroke="#000" stroke-width="2.6" stroke-linecap="butt"/>
<polyline points="1505.75,133 1508.75,136 1513.75,129" stroke="#E0A040" stroke-width="1" fill="none" stroke-linejoin="miter"/>
<line x1="1525" y1="139" x2="1549" y2="139" stroke="#A01010" stroke-width="2" stroke-linecap="square"/>
<line x1="1549" y1="139" x2="1589" y2="139" stroke="#28A222" stroke-width="2" stroke-linecap="square"/>
<line x1="1589" y1="139" x2="1609" y2="139" stroke="#A01010" stroke-width="2" stroke-linecap="square"/>
<rect x="1609" y="129" width="22" height="43.5" stroke="#000" stroke-width="2" fill="none"/>
<line x1="1611" y1="150" x2="1629" y2="150" stroke="#000" stroke-width="2.2" stroke-linecap="butt"/>
<line x1="1620" y1="141" x2="1620" y2="159" stroke="#000" stroke-width="2.2" stroke-linecap="butt"/>
<polyline points="1624,142 1627,145 1632,138" stroke="#E0A040" stroke-width="1" fill="none" stroke-linejoin="miter"/>
<rect x="1542.5" y="145.5" width="5" height="33" fill="#000"/>
<line x1="1545" y1="162" x2="1569.5" y2="162" stroke="#A01010" stroke-width="2" stroke-linecap="square"/>
<line x1="1569.5" y1="162" x2="1589" y2="162" stroke="#28A222" stroke-width="2" stroke-linecap="square"/>
<line x1="1589" y1="162" x2="1609" y2="162" stroke="#A01010" stroke-width="2" stroke-linecap="square"/>
<line x1="1560.5" y1="162" x2="1578.5" y2="162" stroke="#000" stroke-width="2" stroke-linecap="butt"/>
<line x1="1569.5" y1="153" x2="1569.5" y2="171" stroke="#000" stroke-width="2" stroke-linecap="butt"/>
<text transform="translate(1480.41,121) scale(0.8461,1)" font-size="23.5" fill="#000" stroke="#000" stroke-width="0.35">R12</text>
<text transform="translate(1480.98,172) scale(0.8620,1)" font-size="23.5" fill="#000" stroke="#000" stroke-width="0.35">160</text>
<text transform="translate(1608.33,121) scale(0.8897,1)" font-size="23.5" fill="#000" stroke="#000" stroke-width="0.35">K5</text>
<text transform="translate(1608.33,194) scale(0.8869,1)" font-size="23.5" fill="#000" stroke="#000" stroke-width="0.35">LED HRR</text>
<text transform="translate(1470.67,148.2) scale(0.9500,1)" font-size="12" fill="#B02822">1</text>
<text transform="translate(1527.81,148.2) scale(0.9500,1)" font-size="12" fill="#B02822">2</text>
<text transform="translate(1598.67,148.2) scale(0.9500,1)" font-size="12" fill="#B02822">1</text>
<text transform="translate(1598.81,170.7) scale(0.9500,1)" font-size="12" fill="#B02822">2</text>
<line x1="1458" y1="139" x2="1458" y2="44" stroke="#28A222" stroke-width="2" stroke-linecap="square"/>
<line x1="1458" y1="44" x2="1480.5" y2="44" stroke="#A01010" stroke-width="2" stroke-linecap="square"/>
<line x1="1458" y1="139" x2="1480.5" y2="139" stroke="#A01010" stroke-width="2" stroke-linecap="square"/>
<polygon points="1774.5,129 1865.5,129 1876,140 1865.5,151 1774.5,151" stroke="#000" stroke-width="2" fill="none" stroke-linejoin="miter"/>
<text transform="translate(1795.57,146) scale(0.9915,1)" font-size="18" fill="#000" stroke="#000" stroke-width="0.2">LED_HL</text>
<line x1="1876" y1="140" x2="1898" y2="140" stroke="#A01010" stroke-width="2" stroke-linecap="square"/>
<line x1="1898" y1="140" x2="1932" y2="140" stroke="#28A222" stroke-width="2" stroke-linecap="square"/>
<line x1="1889" y1="140" x2="1907" y2="140" stroke="#000" stroke-width="2" stroke-linecap="butt"/>
<line x1="1898" y1="131" x2="1898" y2="149" stroke="#000" stroke-width="2" stroke-linecap="butt"/>
<rect x="1954" y="27.75" width="45" height="22.5" stroke="#000" stroke-width="2" fill="none"/>
<line x1="1967.5" y1="39" x2="1985.5" y2="39" stroke="#000" stroke-width="2.6" stroke-linecap="butt"/>
<line x1="1976.5" y1="30" x2="1976.5" y2="48" stroke="#000" stroke-width="2.6" stroke-linecap="butt"/>
<polyline points="1979.5,33 1982.5,36 1987.5,29" stroke="#E0A040" stroke-width="1" fill="none" stroke-linejoin="miter"/>
<line x1="1999" y1="39" x2="2021" y2="39" stroke="#A01010" stroke-width="2" stroke-linecap="square"/>
<line x1="2021" y1="39" x2="2051" y2="39" stroke="#28A222" stroke-width="2" stroke-linecap="square"/>
<line x1="2051" y1="39" x2="2071" y2="39" stroke="#A01010" stroke-width="2" stroke-linecap="square"/>
<rect x="2071" y="28" width="23" height="45" stroke="#000" stroke-width="2" fill="none"/>
<line x1="2073.5" y1="50" x2="2091.5" y2="50" stroke="#000" stroke-width="2.2" stroke-linecap="butt"/>
<line x1="2082.5" y1="41" x2="2082.5" y2="59" stroke="#000" stroke-width="2.2" stroke-linecap="butt"/>
<polyline points="2086.5,42 2089.5,45 2094.5,38" stroke="#E0A040" stroke-width="1" fill="none" stroke-linejoin="miter"/>
<rect x="2004.5" y="44.5" width="5" height="33" fill="#000"/>
<line x1="2007" y1="61" x2="2032" y2="61" stroke="#A01010" stroke-width="2" stroke-linecap="square"/>
<line x1="2032" y1="61" x2="2051" y2="61" stroke="#28A222" stroke-width="2" stroke-linecap="square"/>
<line x1="2051" y1="61" x2="2071" y2="61" stroke="#A01010" stroke-width="2" stroke-linecap="square"/>
<line x1="2023" y1="61" x2="2041" y2="61" stroke="#000" stroke-width="2" stroke-linecap="butt"/>
<line x1="2032" y1="52" x2="2032" y2="70" stroke="#000" stroke-width="2" stroke-linecap="butt"/>
<text transform="translate(1953.37,21) scale(0.8684,1)" font-size="23.5" fill="#000" stroke="#000" stroke-width="0.35">R13</text>
<text transform="translate(1954.55,72) scale(0.8210,1)" font-size="23.5" fill="#000" stroke="#000" stroke-width="0.35">160</text>
<text transform="translate(2070.79,21) scale(0.9091,1)" font-size="23.5" fill="#000" stroke="#000" stroke-width="0.35">K8</text>
<text transform="translate(2070.85,94.5) scale(0.8791,1)" font-size="23.5" fill="#000" stroke="#000" stroke-width="0.35">LED HLL</text>
<text transform="translate(1942.67,48.2) scale(0.9500,1)" font-size="12" fill="#B02822">1</text>
<text transform="translate(2000.81,48.2) scale(0.9500,1)" font-size="12" fill="#B02822">2</text>
<text transform="translate(2060.67,48.2) scale(0.9500,1)" font-size="12" fill="#B02822">1</text>
<text transform="translate(2060.81,70.7) scale(0.9500,1)" font-size="12" fill="#B02822">2</text>
<rect x="1954" y="128.75" width="45" height="22.5" stroke="#000" stroke-width="2" fill="none"/>
<line x1="1967.5" y1="140" x2="1985.5" y2="140" stroke="#000" stroke-width="2.6" stroke-linecap="butt"/>
<line x1="1976.5" y1="131" x2="1976.5" y2="149" stroke="#000" stroke-width="2.6" stroke-linecap="butt"/>
<polyline points="1979.5,134 1982.5,137 1987.5,130" stroke="#E0A040" stroke-width="1" fill="none" stroke-linejoin="miter"/>
<line x1="1999" y1="140" x2="2021" y2="140" stroke="#A01010" stroke-width="2" stroke-linecap="square"/>
<line x1="2021" y1="140" x2="2045" y2="140" stroke="#28A222" stroke-width="2" stroke-linecap="square"/>
<line x1="2045" y1="140" x2="2066" y2="140" stroke="#A01010" stroke-width="2" stroke-linecap="square"/>
<rect x="2066" y="129" width="22" height="44" stroke="#000" stroke-width="2" fill="none"/>
<line x1="2068" y1="151" x2="2086" y2="151" stroke="#000" stroke-width="2.2" stroke-linecap="butt"/>
<line x1="2077" y1="142" x2="2077" y2="160" stroke="#000" stroke-width="2.2" stroke-linecap="butt"/>
<polyline points="2081,143 2084,146 2089,139" stroke="#E0A040" stroke-width="1" fill="none" stroke-linejoin="miter"/>
<rect x="1998.5" y="146" width="5" height="33" fill="#000"/>
<line x1="2001" y1="162.5" x2="2026" y2="162.5" stroke="#A01010" stroke-width="2" stroke-linecap="square"/>
<line x1="2026" y1="162.5" x2="2045" y2="162.5" stroke="#28A222" stroke-width="2" stroke-linecap="square"/>
<line x1="2045" y1="162.5" x2="2066" y2="162.5" stroke="#A01010" stroke-width="2" stroke-linecap="square"/>
<line x1="2017" y1="162.5" x2="2035" y2="162.5" stroke="#000" stroke-width="2" stroke-linecap="butt"/>
<line x1="2026" y1="153.5" x2="2026" y2="171.5" stroke="#000" stroke-width="2" stroke-linecap="butt"/>
<text transform="translate(1953.38,122) scale(0.8609,1)" font-size="23.5" fill="#000" stroke="#000" stroke-width="0.35">R14</text>
<text transform="translate(1954.55,172.5) scale(0.8210,1)" font-size="23.5" fill="#000" stroke="#000" stroke-width="0.35">160</text>
<text transform="translate(2065.86,122) scale(0.8744,1)" font-size="23.5" fill="#000" stroke="#000" stroke-width="0.35">K7</text>
<text transform="translate(2065.87,194) scale(0.8666,1)" font-size="23.5" fill="#000" stroke="#000" stroke-width="0.35">LED HLR</text>
<text transform="translate(1942.67,149.7) scale(0.9500,1)" font-size="12" fill="#B02822">1</text>
<text transform="translate(2001.31,148.2) scale(0.9500,1)" font-size="12" fill="#B02822">2</text>
<text transform="translate(2055.67,149.7) scale(0.9500,1)" font-size="12" fill="#B02822">1</text>
<text transform="translate(2055.81,171.7) scale(0.9500,1)" font-size="12" fill="#B02822">2</text>
<line x1="1932" y1="140" x2="1932" y2="39" stroke="#28A222" stroke-width="2" stroke-linecap="square"/>
<line x1="1932" y1="39" x2="1954" y2="39" stroke="#A01010" stroke-width="2" stroke-linecap="square"/>
<line x1="1932" y1="140" x2="1954" y2="140" stroke="#A01010" stroke-width="2" stroke-linecap="square"/>
<text transform="translate(1212.52,272.5) scale(0.9345,1)" font-size="23.5" fill="#000" stroke="#000" stroke-width="0.35">ICSP1</text>
<rect x="1212.7" y="278.5" width="134.5" height="88.4" stroke="#000" stroke-width="3.2" fill="none"/>
<polygon points="1267.9,303.13 1264.33,306.7 1259.27,306.7 1255.7,303.13 1255.7,298.07 1259.27,294.5 1264.33,294.5 1267.9,298.07" stroke="#C81818" stroke-width="2" fill="none" stroke-linejoin="miter"/>
<polygon points="1267.9,325.33 1264.33,328.9 1259.27,328.9 1255.7,325.33 1255.7,320.27 1259.27,316.7 1264.33,316.7 1267.9,320.27" stroke="#C81818" stroke-width="2" fill="none" stroke-linejoin="miter"/>
<polygon points="1267.9,347.33 1264.33,350.9 1259.27,350.9 1255.7,347.33 1255.7,342.27 1259.27,338.7 1264.33,338.7 1267.9,342.27" stroke="#C81818" stroke-width="2" fill="none" stroke-linejoin="miter"/>
<polygon points="1302.6,303.13 1299.03,306.7 1293.97,306.7 1290.4,303.13 1290.4,298.07 1293.97,294.5 1299.03,294.5 1302.6,298.07" stroke="#C81818" stroke-width="2" fill="none" stroke-linejoin="miter"/>
<polygon points="1302.6,325.33 1299.03,328.9 1293.97,328.9 1290.4,325.33 1290.4,320.27 1293.97,316.7 1299.03,316.7 1302.6,320.27" stroke="#C81818" stroke-width="2" fill="none" stroke-linejoin="miter"/>
<polygon points="1302.6,347.33 1299.03,350.9 1293.97,350.9 1290.4,347.33 1290.4,342.27 1293.97,338.7 1299.03,338.7 1302.6,342.27" stroke="#C81818" stroke-width="2" fill="none" stroke-linejoin="miter"/>
<line x1="1245.8" y1="300.6" x2="1255" y2="300.6" stroke="#A01010" stroke-width="2" stroke-linecap="square"/>
<line x1="1303.3" y1="300.6" x2="1311.5" y2="300.6" stroke="#A01010" stroke-width="2" stroke-linecap="square"/>
<text transform="translate(1245.67,313.8) scale(0.9500,1)" font-size="12" fill="#B02822">1</text>
<text transform="translate(1306.31,313.8) scale(0.9500,1)" font-size="12" fill="#B02822">2</text>
<line x1="1245.8" y1="322.8" x2="1255" y2="322.8" stroke="#A01010" stroke-width="2" stroke-linecap="square"/>
<line x1="1303.3" y1="322.8" x2="1311.5" y2="322.8" stroke="#A01010" stroke-width="2" stroke-linecap="square"/>
<text transform="translate(1245.87,336) scale(0.9500,1)" font-size="12" fill="#B02822">3</text>
<text transform="translate(1306.37,336) scale(0.9500,1)" font-size="12" fill="#B02822">4</text>
<line x1="1245.8" y1="344.8" x2="1255" y2="344.8" stroke="#A01010" stroke-width="2" stroke-linecap="square"/>
<line x1="1303.3" y1="344.8" x2="1311.5" y2="344.8" stroke="#A01010" stroke-width="2" stroke-linecap="square"/>
<text transform="translate(1245.84,358) scale(0.9500,1)" font-size="12" fill="#B02822">5</text>
<text transform="translate(1306.28,358) scale(0.9500,1)" font-size="12" fill="#B02822">6</text>
<line x1="1258.3" y1="322.8" x2="1276.3" y2="322.8" stroke="#000" stroke-width="3.2" stroke-linecap="butt"/>
<line x1="1267.3" y1="313.8" x2="1267.3" y2="331.8" stroke="#000" stroke-width="3.2" stroke-linecap="butt"/>
<polyline points="1271,317 1274,320 1279,313" stroke="#E0A040" stroke-width="1" fill="none" stroke-linejoin="miter"/>
<polygon points="1061,289 1152.5,289 1163,300.5 1152.5,312 1061,312" stroke="#000" stroke-width="2" fill="none" stroke-linejoin="miter"/>
<text transform="translate(1099.57,306) scale(0.9945,1)" font-size="18" fill="#000" stroke="#000" stroke-width="0.2">MISO</text>
<line x1="1163" y1="300.6" x2="1185" y2="300.6" stroke="#A01010" stroke-width="2" stroke-linecap="square"/>
<line x1="1185" y1="300.6" x2="1245.8" y2="300.6" stroke="#28A222" stroke-width="2" stroke-linecap="square"/>
<line x1="1176" y1="300.6" x2="1194" y2="300.6" stroke="#000" stroke-width="3.2" stroke-linecap="butt"/>
<line x1="1185" y1="291.6" x2="1185" y2="309.6" stroke="#000" stroke-width="3.2" stroke-linecap="butt"/>
<polygon points="1057.5,323 1068,312 1157.5,312 1157.5,334 1068,334" stroke="#000" stroke-width="2" fill="none" stroke-linejoin="miter"/>
<text transform="translate(1119.17,328) scale(1.0252,1)" font-size="18" fill="#000" stroke="#000" stroke-width="0.2">SCK</text>
<line x1="1157.5" y1="322.8" x2="1179" y2="322.8" stroke="#A01010" stroke-width="2" stroke-linecap="square"/>
<line x1="1179" y1="322.8" x2="1245.8" y2="322.8" stroke="#28A222" stroke-width="2" stroke-linecap="square"/>
<line x1="1170" y1="322.8" x2="1188" y2="322.8" stroke="#000" stroke-width="2" stroke-linecap="butt"/>
<line x1="1179" y1="313.8" x2="1179" y2="331.8" stroke="#000" stroke-width="2" stroke-linecap="butt"/>
<polygon points="1067.5,334.5 1157.5,334.5 1168,345.25 1157.5,356 1067.5,356" stroke="#000" stroke-width="2" fill="none" stroke-linejoin="miter"/>
<text transform="translate(1104.09,351) scale(0.9789,1)" font-size="18" fill="#000" stroke="#000" stroke-width="0.2">RESET</text>
<line x1="1168" y1="344.8" x2="1190" y2="344.8" stroke="#A01010" stroke-width="2" stroke-linecap="square"/>
<line x1="1190" y1="344.8" x2="1245.8" y2="344.8" stroke="#28A222" stroke-width="2" stroke-linecap="square"/>
<line x1="1181" y1="344.8" x2="1199" y2="344.8" stroke="#000" stroke-width="3.2" stroke-linecap="butt"/>
<line x1="1190" y1="335.8" x2="1190" y2="353.8" stroke="#000" stroke-width="3.2" stroke-linecap="butt"/>
<line x1="1311.5" y1="300.6" x2="1374" y2="300.6" stroke="#28A222" stroke-width="2" stroke-linecap="square"/>
<line x1="1374" y1="300.6" x2="1397" y2="300.6" stroke="#A01010" stroke-width="2" stroke-linecap="square"/>
<line x1="1365" y1="300.6" x2="1383" y2="300.6" stroke="#000" stroke-width="2" stroke-linecap="butt"/>
<line x1="1374" y1="291.6" x2="1374" y2="309.6" stroke="#000" stroke-width="2" stroke-linecap="butt"/>
<polygon points="1412.6,300.6 1396.6,295.1 1396.6,306.1" stroke="#000" stroke-width="1" fill="#000" stroke-linejoin="miter"/>
<text transform="translate(1431,313.35) rotate(-90) scale(0.9759,1)" font-size="17" fill="#000" stroke="#000" stroke-width="0.2">+5V</text>
<line x1="1311.5" y1="322.8" x2="1374" y2="322.8" stroke="#28A222" stroke-width="2" stroke-linecap="square"/>
<line x1="1374" y1="322.8" x2="1396" y2="322.8" stroke="#A01010" stroke-width="2" stroke-linecap="square"/>
<line x1="1365" y1="322.8" x2="1383" y2="322.8" stroke="#000" stroke-width="2" stroke-linecap="butt"/>
<line x1="1374" y1="313.8" x2="1374" y2="331.8" stroke="#000" stroke-width="2" stroke-linecap="butt"/>
<polygon points="1396,311.7 1486.3,311.7 1496.8,322.9 1486.3,334.1 1396,334.1" stroke="#000" stroke-width="2" fill="none" stroke-linejoin="miter"/>
<text transform="translate(1399.43,328.3) scale(1.0181,1)" font-size="18" fill="#000" stroke="#000" stroke-width="0.2">MOSI</text>
<line x1="1311.5" y1="344.8" x2="1362.8" y2="344.8" stroke="#28A222" stroke-width="2" stroke-linecap="square"/>
<line x1="1362.8" y1="344.8" x2="1386" y2="344.8" stroke="#A01010" stroke-width="2" stroke-linecap="square"/>
<line x1="1353.8" y1="344.8" x2="1371.8" y2="344.8" stroke="#000" stroke-width="2" stroke-linecap="butt"/>
<line x1="1362.8" y1="335.8" x2="1362.8" y2="353.8" stroke="#000" stroke-width="2" stroke-linecap="butt"/>
<rect x="1385.1" y="328.3" width="5" height="33" fill="#000"/>
<text transform="translate(1212.94,389) scale(0.9212,1)" font-size="23.5" fill="#000" stroke="#000" stroke-width="0.35">3x2 M</text>
<text transform="translate(1693.58,229) scale(0.8842,1)" font-size="23.5" fill="#000" stroke="#000" stroke-width="0.35">X9</text>
<rect x="1692.2" y="234.5" width="177.4" height="177.6" stroke="#000" stroke-width="2" fill="none"/>
<text transform="translate(1697.14,262.2) scale(0.9800,1)" font-size="17.5" fill="#000" stroke="#000" stroke-width="0.2">GND</text>
<text transform="translate(1831,262.2) scale(0.9800,1)" font-size="17.5" fill="#000" stroke="#000" stroke-width="0.2">GND</text>
<line x1="1692.2" y1="256" x2="1671.5" y2="256" stroke="#A01010" stroke-width="2" stroke-linecap="square"/>
<line x1="1869.6" y1="256" x2="1892.3" y2="256" stroke="#A01010" stroke-width="2" stroke-linecap="square"/>
<text transform="translate(1682.67,269.2) scale(0.9500,1)" font-size="12" fill="#B02822">1</text>
<text transform="translate(1872.14,269.2) scale(0.9500,1)" font-size="12" fill="#B02822">14</text>
<text transform="translate(1698,284.6) scale(0.9800,1)" font-size="17.5" fill="#000" stroke="#000" stroke-width="0.2">VCC</text>
<text transform="translate(1841.03,284.6) scale(0.9800,1)" font-size="17.5" fill="#000" stroke="#000" stroke-width="0.2">VIN</text>
<line x1="1692.2" y1="278.4" x2="1671.5" y2="278.4" stroke="#A01010" stroke-width="2" stroke-linecap="square"/>
<line x1="1869.6" y1="278.4" x2="1892.3" y2="278.4" stroke="#A01010" stroke-width="2" stroke-linecap="square"/>
<text transform="translate(1682.81,291.6) scale(0.9500,1)" font-size="12" fill="#B02822">2</text>
<text transform="translate(1872.14,291.6) scale(0.9500,1)" font-size="12" fill="#B02822">13</text>
<text transform="translate(1696.63,307.3) scale(0.9800,1)" font-size="17.5" fill="#000" stroke="#000" stroke-width="0.2">B IN2/EN</text>
<text transform="translate(1834.77,307.3) scale(0.9800,1)" font-size="17.5" fill="#000" stroke="#000" stroke-width="0.2">BO2</text>
<line x1="1692.2" y1="301.1" x2="1671.5" y2="301.1" stroke="#A01010" stroke-width="2" stroke-linecap="square"/>
<line x1="1869.6" y1="301.1" x2="1892.3" y2="301.1" stroke="#A01010" stroke-width="2" stroke-linecap="square"/>
<text transform="translate(1682.87,314.3) scale(0.9500,1)" font-size="12" fill="#B02822">3</text>
<text transform="translate(1872.14,314.3) scale(0.9500,1)" font-size="12" fill="#B02822">12</text>
<text transform="translate(1696.63,329.5) scale(0.9800,1)" font-size="17.5" fill="#000" stroke="#000" stroke-width="0.2">B IN1/PH</text>
<text transform="translate(1834.77,329.5) scale(0.9800,1)" font-size="17.5" fill="#000" stroke="#000" stroke-width="0.2">BO1</text>
<line x1="1692.2" y1="323.3" x2="1671.5" y2="323.3" stroke="#A01010" stroke-width="2" stroke-linecap="square"/>
<line x1="1869.6" y1="323.3" x2="1892.3" y2="323.3" stroke="#A01010" stroke-width="2" stroke-linecap="square"/>
<text transform="translate(1682.87,336.5) scale(0.9500,1)" font-size="12" fill="#B02822">4</text>
<text transform="translate(1872.14,336.5) scale(0.9500,1)" font-size="12" fill="#B02822">11</text>
<text transform="translate(1698,351.7) scale(0.9800,1)" font-size="17.5" fill="#000" stroke="#000" stroke-width="0.2">A IN2/EN</text>
<text transform="translate(1834.77,351.7) scale(0.9800,1)" font-size="17.5" fill="#000" stroke="#000" stroke-width="0.2">AO2</text>
<line x1="1692.2" y1="345.5" x2="1671.5" y2="345.5" stroke="#A01010" stroke-width="2" stroke-linecap="square"/>
<line x1="1869.6" y1="345.5" x2="1892.3" y2="345.5" stroke="#A01010" stroke-width="2" stroke-linecap="square"/>
<text transform="translate(1682.84,358.7) scale(0.9500,1)" font-size="12" fill="#B02822">5</text>
<text transform="translate(1872.14,358.7) scale(0.9500,1)" font-size="12" fill="#B02822">10</text>
<text transform="translate(1698,373.7) scale(0.9800,1)" font-size="17.5" fill="#000" stroke="#000" stroke-width="0.2">A IN1/PH</text>
<text transform="translate(1834.77,373.7) scale(0.9800,1)" font-size="17.5" fill="#000" stroke="#000" stroke-width="0.2">AO1</text>
<line x1="1692.2" y1="367.5" x2="1671.5" y2="367.5" stroke="#A01010" stroke-width="2" stroke-linecap="square"/>
<line x1="1869.6" y1="367.5" x2="1892.3" y2="367.5" stroke="#A01010" stroke-width="2" stroke-linecap="square"/>
<text transform="translate(1682.78,380.7) scale(0.9500,1)" font-size="12" fill="#B02822">6</text>
<text transform="translate(1872.49,380.7) scale(0.9500,1)" font-size="12" fill="#B02822">9</text>
<text transform="translate(1696.63,396.4) scale(0.9800,1)" font-size="17.5" fill="#000" stroke="#000" stroke-width="0.2">MD</text>
<text transform="translate(1843.95,396.4) scale(0.9800,1)" font-size="17.5" fill="#000" stroke="#000" stroke-width="0.2">VM</text>
<line x1="1692.2" y1="390.2" x2="1671.5" y2="390.2" stroke="#A01010" stroke-width="2" stroke-linecap="square"/>
<line x1="1869.6" y1="390.2" x2="1892.3" y2="390.2" stroke="#A01010" stroke-width="2" stroke-linecap="square"/>
<text transform="translate(1682.81,403.4) scale(0.9500,1)" font-size="12" fill="#B02822">7</text>
<text transform="translate(1872.54,403.4) scale(0.9500,1)" font-size="12" fill="#B02822">8</text>
<line x1="1671.5" y1="256" x2="1647.6" y2="256" stroke="#28A222" stroke-width="2" stroke-linecap="square"/>
<line x1="1647.6" y1="256" x2="1623" y2="256" stroke="#A01010" stroke-width="2" stroke-linecap="square"/>
<line x1="1638.6" y1="256" x2="1656.6" y2="256" stroke="#000" stroke-width="2" stroke-linecap="butt"/>
<line x1="1647.6" y1="247" x2="1647.6" y2="265" stroke="#000" stroke-width="2" stroke-linecap="butt"/>
<rect x="1620.4" y="239.5" width="5" height="33" fill="#000"/>
<line x1="1671.5" y1="278.4" x2="1619.8" y2="278.4" stroke="#28A222" stroke-width="2" stroke-linecap="square"/>
<line x1="1619.8" y1="278.4" x2="1597" y2="278.4" stroke="#A01010" stroke-width="2" stroke-linecap="square"/>
<line x1="1610.8" y1="278.4" x2="1628.8" y2="278.4" stroke="#000" stroke-width="2" stroke-linecap="butt"/>
<line x1="1619.8" y1="269.4" x2="1619.8" y2="287.4" stroke="#000" stroke-width="2" stroke-linecap="butt"/>
<polygon points="1582,278.4 1598,272.9 1598,283.9" stroke="#000" stroke-width="1" fill="#000" stroke-linejoin="miter"/>
<text transform="translate(1583,267.31) rotate(-90) scale(0.9225,1)" font-size="17" fill="#000" stroke="#000" stroke-width="0.2">+5V</text>
<polygon points="1524.5,289.3 1614.9,289.3 1625.4,300.65 1614.9,312 1524.5,312" stroke="#000" stroke-width="2" fill="none" stroke-linejoin="miter"/>
<text transform="translate(1561.53,307.1) scale(1.0209,1)" font-size="18" fill="#000" stroke="#000" stroke-width="0.2">BPWM</text>
<line x1="1671.5" y1="301.1" x2="1647.6" y2="301.1" stroke="#28A222" stroke-width="2" stroke-linecap="square"/>
<line x1="1647.6" y1="301.1" x2="1625.4" y2="301.1" stroke="#A01010" stroke-width="2" stroke-linecap="square"/>
<line x1="1638.6" y1="301.1" x2="1656.6" y2="301.1" stroke="#000" stroke-width="2" stroke-linecap="butt"/>
<line x1="1647.6" y1="292.1" x2="1647.6" y2="310.1" stroke="#000" stroke-width="2" stroke-linecap="butt"/>
<polygon points="1524.5,312 1614.9,312 1625.4,322.7 1614.9,333.4 1524.5,333.4" stroke="#000" stroke-width="2" fill="none" stroke-linejoin="miter"/>
<text transform="translate(1561.57,329.3) scale(0.9961,1)" font-size="18" fill="#000" stroke="#000" stroke-width="0.2">BPhase</text>
<line x1="1671.5" y1="323.3" x2="1647.6" y2="323.3" stroke="#28A222" stroke-width="2" stroke-linecap="square"/>
<line x1="1647.6" y1="323.3" x2="1625.4" y2="323.3" stroke="#A01010" stroke-width="2" stroke-linecap="square"/>
<line x1="1638.6" y1="323.3" x2="1656.6" y2="323.3" stroke="#000" stroke-width="2" stroke-linecap="butt"/>
<line x1="1647.6" y1="314.3" x2="1647.6" y2="332.3" stroke="#000" stroke-width="2" stroke-linecap="butt"/>
<polygon points="1524.5,333.4 1614.9,333.4 1625.4,344.75 1614.9,356.1 1524.5,356.1" stroke="#000" stroke-width="2" fill="none" stroke-linejoin="miter"/>
<text transform="translate(1561.8,351.5) scale(1.0013,1)" font-size="18" fill="#000" stroke="#000" stroke-width="0.2">APWM</text>
<line x1="1671.5" y1="345.5" x2="1647.6" y2="345.5" stroke="#28A222" stroke-width="2" stroke-linecap="square"/>
<line x1="1647.6" y1="345.5" x2="1625.4" y2="345.5" stroke="#A01010" stroke-width="2" stroke-linecap="square"/>
<line x1="1638.6" y1="345.5" x2="1656.6" y2="345.5" stroke="#000" stroke-width="2" stroke-linecap="butt"/>
<line x1="1647.6" y1="336.5" x2="1647.6" y2="354.5" stroke="#000" stroke-width="2" stroke-linecap="butt"/>
<polygon points="1524.5,356.1 1614.9,356.1 1625.4,367.7 1614.9,379.3 1524.5,379.3" stroke="#000" stroke-width="2" fill="none" stroke-linejoin="miter"/>
<text transform="translate(1561.8,373.5) scale(0.9923,1)" font-size="18" fill="#000" stroke="#000" stroke-width="0.2">APhase</text>
<line x1="1671.5" y1="367.5" x2="1647.6" y2="367.5" stroke="#28A222" stroke-width="2" stroke-linecap="square"/>
<line x1="1647.6" y1="367.5" x2="1625.4" y2="367.5" stroke="#A01010" stroke-width="2" stroke-linecap="square"/>
<line x1="1638.6" y1="367.5" x2="1656.6" y2="367.5" stroke="#000" stroke-width="2" stroke-linecap="butt"/>
<line x1="1647.6" y1="358.5" x2="1647.6" y2="376.5" stroke="#000" stroke-width="2" stroke-linecap="butt"/>
<line x1="1671.5" y1="390.2" x2="1641.3" y2="390.2" stroke="#28A222" stroke-width="2" stroke-linecap="square"/>
<line x1="1641.3" y1="390.2" x2="1618.6" y2="390.2" stroke="#A01010" stroke-width="2" stroke-linecap="square"/>
<line x1="1632.3" y1="390.2" x2="1650.3" y2="390.2" stroke="#000" stroke-width="3.2" stroke-linecap="butt"/>
<line x1="1641.3" y1="381.2" x2="1641.3" y2="399.2" stroke="#000" stroke-width="3.2" stroke-linecap="butt"/>
<polygon points="1603.4,390.2 1619.4,384.7 1619.4,395.7" stroke="#000" stroke-width="1" fill="#000" stroke-linejoin="miter"/>
<text transform="translate(1599.6,402.18) rotate(-90) scale(0.8857,1)" font-size="17" fill="#000" stroke="#000" stroke-width="0.2">+5V</text>
<line x1="1892.3" y1="256" x2="1925.6" y2="256" stroke="#28A222" stroke-width="2" stroke-linecap="square"/>
<line x1="1925.6" y1="256" x2="1950.8" y2="256" stroke="#A01010" stroke-width="2" stroke-linecap="square"/>
<line x1="1916.6" y1="256" x2="1934.6" y2="256" stroke="#000" stroke-width="2" stroke-linecap="butt"/>
<line x1="1925.6" y1="247" x2="1925.6" y2="265" stroke="#000" stroke-width="2" stroke-linecap="butt"/>
<rect x="1948.3" y="240.2" width="5" height="33" fill="#000"/>
<line x1="1869.6" y1="278.4" x2="1887" y2="278.4" stroke="#A01010" stroke-width="2" stroke-linecap="square"/>
<line x1="1885.8" y1="274" x2="1897.8" y2="286" stroke="#D01010" stroke-width="2.2" stroke-linecap="butt"/>
<line x1="1885.8" y1="286" x2="1897.8" y2="274" stroke="#D01010" stroke-width="2.2" stroke-linecap="butt"/>
<polygon points="1947.8,301 1958.3,290 2049,290 2059.5,301 2049,312 1958.3,312" stroke="#000" stroke-width="2" fill="none" stroke-linejoin="miter"/>
<text transform="translate(1956.39,307.1) scale(1.0510,1)" font-size="18" fill="#000" stroke="#000" stroke-width="0.2">MotorBOut2</text>
<line x1="1892.3" y1="301.1" x2="1925.6" y2="301.1" stroke="#28A222" stroke-width="2" stroke-linecap="square"/>
<line x1="1925.6" y1="301.1" x2="1947.8" y2="301.1" stroke="#A01010" stroke-width="2" stroke-linecap="square"/>
<line x1="1916.6" y1="301.1" x2="1934.6" y2="301.1" stroke="#000" stroke-width="3.2" stroke-linecap="butt"/>
<line x1="1925.6" y1="292.1" x2="1925.6" y2="310.1" stroke="#000" stroke-width="3.2" stroke-linecap="butt"/>
<polygon points="1947.8,323.35 1958.3,312 2049,312 2059.5,323.35 2049,334.7 1958.3,334.7" stroke="#000" stroke-width="2" fill="none" stroke-linejoin="miter"/>
<text transform="translate(1956.39,329.3) scale(1.0510,1)" font-size="18" fill="#000" stroke="#000" stroke-width="0.2">MotorBOut1</text>
<line x1="1892.3" y1="323.3" x2="1925.6" y2="323.3" stroke="#28A222" stroke-width="2" stroke-linecap="square"/>
<line x1="1925.6" y1="323.3" x2="1947.8" y2="323.3" stroke="#A01010" stroke-width="2" stroke-linecap="square"/>
<line x1="1916.6" y1="323.3" x2="1934.6" y2="323.3" stroke="#000" stroke-width="2" stroke-linecap="butt"/>
<line x1="1925.6" y1="314.3" x2="1925.6" y2="332.3" stroke="#000" stroke-width="2" stroke-linecap="butt"/>
<polygon points="1947.8,345.65 1958.3,334.7 2049,334.7 2059.5,345.65 2049,356.6 1958.3,356.6" stroke="#000" stroke-width="2" fill="none" stroke-linejoin="miter"/>
<text transform="translate(1956.39,351.5) scale(1.0510,1)" font-size="18" fill="#000" stroke="#000" stroke-width="0.2">MotorAOut2</text>
<line x1="1892.3" y1="345.5" x2="1925.6" y2="345.5" stroke="#28A222" stroke-width="2" stroke-linecap="square"/>
<line x1="1925.6" y1="345.5" x2="1947.8" y2="345.5" stroke="#A01010" stroke-width="2" stroke-linecap="square"/>
<line x1="1916.6" y1="345.5" x2="1934.6" y2="345.5" stroke="#000" stroke-width="2" stroke-linecap="butt"/>
<line x1="1925.6" y1="336.5" x2="1925.6" y2="354.5" stroke="#000" stroke-width="2" stroke-linecap="butt"/>
<polygon points="1947.8,367.95 1958.3,356.6 2049,356.6 2059.5,367.95 2049,379.3 1958.3,379.3" stroke="#000" stroke-width="2" fill="none" stroke-linejoin="miter"/>
<text transform="translate(1956.39,373.5) scale(1.0510,1)" font-size="18" fill="#000" stroke="#000" stroke-width="0.2">MotorAOut1</text>
<line x1="1892.3" y1="367.5" x2="1925.6" y2="367.5" stroke="#28A222" stroke-width="2" stroke-linecap="square"/>
<line x1="1925.6" y1="367.5" x2="1947.8" y2="367.5" stroke="#A01010" stroke-width="2" stroke-linecap="square"/>
<line x1="1916.6" y1="367.5" x2="1934.6" y2="367.5" stroke="#000" stroke-width="3.2" stroke-linecap="butt"/>
<line x1="1925.6" y1="358.5" x2="1925.6" y2="376.5" stroke="#000" stroke-width="3.2" stroke-linecap="butt"/>
<line x1="1892.3" y1="390.2" x2="1925.6" y2="390.2" stroke="#28A222" stroke-width="2" stroke-linecap="square"/>
<line x1="1925.6" y1="390.2" x2="1949" y2="390.2" stroke="#A01010" stroke-width="2" stroke-linecap="square"/>
<line x1="1916.6" y1="390.2" x2="1934.6" y2="390.2" stroke="#000" stroke-width="2" stroke-linecap="butt"/>
<line x1="1925.6" y1="381.2" x2="1925.6" y2="399.2" stroke="#000" stroke-width="2" stroke-linecap="butt"/>
<polygon points="1964.2,390.2 1948.2,384.7 1948.2,395.7" stroke="#000" stroke-width="1" fill="#000" stroke-linejoin="miter"/>
<text transform="translate(1983,414.74) rotate(-90) scale(0.9693,1)" font-size="17" fill="#000" stroke="#000" stroke-width="0.2">+5V</text>
<line x1="1782.4" y1="323.3" x2="1800.4" y2="323.3" stroke="#000" stroke-width="2" stroke-linecap="butt"/>
<line x1="1791.4" y1="314.3" x2="1791.4" y2="332.3" stroke="#000" stroke-width="2" stroke-linecap="butt"/>
<polyline points="1795,317 1798,320 1803,313" stroke="#E0A040" stroke-width="1" fill="none" stroke-linejoin="miter"/>
<text transform="translate(1692.07,434.2) scale(0.8692,1)" font-size="23.5" fill="#000" stroke="#000" stroke-width="0.35">Pololu dual motor driver DRV8835</text>
<rect x="1768.8" y="474.9" width="22.7" height="43.6" stroke="#000" stroke-width="2" fill="none"/>
<line x1="1771" y1="497.2" x2="1789" y2="497.2" stroke="#000" stroke-width="2.2" stroke-linecap="butt"/>
<line x1="1780" y1="488.2" x2="1780" y2="506.2" stroke="#000" stroke-width="2.2" stroke-linecap="butt"/>
<polyline points="1784,489.2 1787,492.2 1792,485.2" stroke="#E0A040" stroke-width="1" fill="none" stroke-linejoin="miter"/>
<text transform="translate(1768.68,468) scale(0.9171,1)" font-size="23.5" fill="#000" stroke="#000" stroke-width="0.35">K9</text>
<text transform="translate(1768.8,539.8) scale(0.8496,1)" font-size="23.5" fill="#000" stroke="#000" stroke-width="0.35">Motor1</text>
<polygon points="1586.6,484.9 1597.1,474 1686.9,474 1697.4,484.9 1686.9,495.8 1597.1,495.8" stroke="#000" stroke-width="2" fill="none" stroke-linejoin="miter"/>
<text transform="translate(1600,490.9) scale(0.9739,1)" font-size="18" fill="#000" stroke="#000" stroke-width="0.2">MotorAOut1</text>
<polygon points="1586.6,507.25 1597.1,495.8 1686.9,495.8 1697.4,507.25 1686.9,518.7 1597.1,518.7" stroke="#000" stroke-width="2" fill="none" stroke-linejoin="miter"/>
<text transform="translate(1593.97,513.25) scale(0.9950,1)" font-size="18" fill="#000" stroke="#000" stroke-width="0.2">MotorAOut2</text>
<line x1="1697.4" y1="485.6" x2="1719.7" y2="485.6" stroke="#A01010" stroke-width="2" stroke-linecap="square"/>
<line x1="1719.7" y1="485.6" x2="1748.5" y2="485.6" stroke="#28A222" stroke-width="2" stroke-linecap="square"/>
<line x1="1748.5" y1="485.6" x2="1768.8" y2="485.6" stroke="#A01010" stroke-width="2" stroke-linecap="square"/>
<line x1="1710.7" y1="485.6" x2="1728.7" y2="485.6" stroke="#000" stroke-width="3.2" stroke-linecap="butt"/>
<line x1="1719.7" y1="476.6" x2="1719.7" y2="494.6" stroke="#000" stroke-width="3.2" stroke-linecap="butt"/>
<line x1="1697.4" y1="507.5" x2="1719.7" y2="507.5" stroke="#A01010" stroke-width="2" stroke-linecap="square"/>
<line x1="1719.7" y1="507.5" x2="1748.5" y2="507.5" stroke="#28A222" stroke-width="2" stroke-linecap="square"/>
<line x1="1748.5" y1="507.5" x2="1768.8" y2="507.5" stroke="#A01010" stroke-width="2" stroke-linecap="square"/>
<line x1="1710.7" y1="507.5" x2="1728.7" y2="507.5" stroke="#000" stroke-width="3.2" stroke-linecap="butt"/>
<line x1="1719.7" y1="498.5" x2="1719.7" y2="516.5" stroke="#000" stroke-width="3.2" stroke-linecap="butt"/>
<text transform="translate(1758.37,498) scale(0.9500,1)" font-size="12" fill="#B02822">1</text>
<text transform="translate(1758.51,520.2) scale(0.9500,1)" font-size="12" fill="#B02822">2</text>
<rect x="1768.8" y="586" width="22.7" height="45" stroke="#000" stroke-width="2" fill="none"/>
<line x1="1770.3" y1="608" x2="1788.3" y2="608" stroke="#000" stroke-width="2.2" stroke-linecap="butt"/>
<line x1="1779.3" y1="599" x2="1779.3" y2="617" stroke="#000" stroke-width="2.2" stroke-linecap="butt"/>
<polyline points="1783.3,600 1786.3,603 1791.3,596" stroke="#E0A040" stroke-width="1" fill="none" stroke-linejoin="miter"/>
<text transform="translate(1768.77,580) scale(0.8664,1)" font-size="23.5" fill="#000" stroke="#000" stroke-width="0.35">K10</text>
<text transform="translate(1768.76,652) scale(0.8739,1)" font-size="23.5" fill="#000" stroke="#000" stroke-width="0.35">Motor2</text>
<polygon points="1592,596.45 1602.5,585.6 1693,585.6 1703.5,596.45 1693,607.3 1602.5,607.3" stroke="#000" stroke-width="2" fill="none" stroke-linejoin="miter"/>
<text transform="translate(1598.97,602.45) scale(0.9950,1)" font-size="18" fill="#000" stroke="#000" stroke-width="0.2">MotorBOut1</text>
<polygon points="1592,619.15 1602.5,607.3 1693,607.3 1703.5,619.15 1693,631 1602.5,631" stroke="#000" stroke-width="2" fill="none" stroke-linejoin="miter"/>
<text transform="translate(1598.97,625.15) scale(0.9950,1)" font-size="18" fill="#000" stroke="#000" stroke-width="0.2">MotorBOut2</text>
<line x1="1703.5" y1="596.6" x2="1725.2" y2="596.6" stroke="#A01010" stroke-width="2" stroke-linecap="square"/>
<line x1="1725.2" y1="596.6" x2="1748.5" y2="596.6" stroke="#28A222" stroke-width="2" stroke-linecap="square"/>
<line x1="1748.5" y1="596.6" x2="1768.8" y2="596.6" stroke="#A01010" stroke-width="2" stroke-linecap="square"/>
<line x1="1716.2" y1="596.6" x2="1734.2" y2="596.6" stroke="#000" stroke-width="2" stroke-linecap="butt"/>
<line x1="1725.2" y1="587.6" x2="1725.2" y2="605.6" stroke="#000" stroke-width="2" stroke-linecap="butt"/>
<line x1="1703.5" y1="619.5" x2="1725.2" y2="619.5" stroke="#A01010" stroke-width="2" stroke-linecap="square"/>
<line x1="1725.2" y1="619.5" x2="1748.5" y2="619.5" stroke="#28A222" stroke-width="2" stroke-linecap="square"/>
<line x1="1748.5" y1="619.5" x2="1768.8" y2="619.5" stroke="#A01010" stroke-width="2" stroke-linecap="square"/>
<line x1="1716.2" y1="619.5" x2="1734.2" y2="619.5" stroke="#000" stroke-width="2" stroke-linecap="butt"/>
<line x1="1725.2" y1="610.5" x2="1725.2" y2="628.5" stroke="#000" stroke-width="2" stroke-linecap="butt"/>
<text transform="translate(1758.37,609.5) scale(0.9500,1)" font-size="12" fill="#B02822">1</text>
<text transform="translate(1758.51,631.8) scale(0.9500,1)" font-size="12" fill="#B02822">2</text>
<rect x="1602.4" y="663.8" width="5" height="33" fill="#000"/>
<line x1="1605" y1="681" x2="1629.8" y2="681" stroke="#A01010" stroke-width="2" stroke-linecap="square"/>
<line x1="1629.8" y1="681" x2="1663.3" y2="681" stroke="#28A222" stroke-width="2" stroke-linecap="square"/>
<line x1="1663.3" y1="681" x2="1730.2" y2="681" stroke="#A01010" stroke-width="2" stroke-linecap="square"/>
<line x1="1730.2" y1="681" x2="1752" y2="681" stroke="#28A222" stroke-width="2" stroke-linecap="square"/>
<line x1="1752" y1="681" x2="1774" y2="681" stroke="#A01010" stroke-width="2" stroke-linecap="square"/>
<line x1="1620.8" y1="681" x2="1638.8" y2="681" stroke="#000" stroke-width="2" stroke-linecap="butt"/>
<line x1="1629.8" y1="672" x2="1629.8" y2="690" stroke="#000" stroke-width="2" stroke-linecap="butt"/>
<line x1="1743" y1="681" x2="1761" y2="681" stroke="#000" stroke-width="2" stroke-linecap="butt"/>
<line x1="1752" y1="672" x2="1752" y2="690" stroke="#000" stroke-width="2" stroke-linecap="butt"/>
<polygon points="1790,681 1774,675.5 1774,686.5" stroke="#000" stroke-width="1" fill="#000" stroke-linejoin="miter"/>
<text transform="translate(1802,728.38) rotate(-90) scale(1.0227,1)" font-size="17" fill="#000" stroke="#000" stroke-width="0.2">+5V</text>
<line x1="1663.8" y1="681" x2="1663.8" y2="947.8" stroke="#28A222" stroke-width="2" stroke-linecap="square"/>
<line x1="1730.6" y1="681" x2="1730.6" y2="947.8" stroke="#28A222" stroke-width="2" stroke-linecap="square"/>
<rect x="1689.35" y="664.5" width="4.5" height="33" fill="#000"/>
<rect x="1701.35" y="664.5" width="4.5" height="33" fill="#000"/>
<line x1="1697.6" y1="673" x2="1697.6" y2="689" stroke="#000" stroke-width="1.6" stroke-linecap="butt"/>
<line x1="1691.6" y1="681" x2="1703.6" y2="681" stroke="#000" stroke-width="1.6" stroke-linecap="butt"/>
<polyline points="1697.6,675 1700.6,678 1705.6,671" stroke="#E0A040" stroke-width="1" fill="none" stroke-linejoin="miter"/>
<text transform="translate(1678.31,693.2) scale(0.9500,1)" font-size="12" fill="#B02822">2</text>
<text transform="translate(1707.37,693.2) scale(0.9500,1)" font-size="12" fill="#B02822">1</text>
<text transform="translate(1658.46,658.7) scale(0.8870,1)" font-size="23.5" fill="#000" stroke="#000" stroke-width="0.35">C5</text>
<text transform="translate(1704.54,658.7) scale(0.8297,1)" font-size="23.5" fill="#000" stroke="#000" stroke-width="0.35">10µF</text>
<line x1="1663.8" y1="736.8" x2="1730.6" y2="736.8" stroke="#A01010" stroke-width="2" stroke-linecap="square"/>
<rect x="1689.35" y="720.3" width="4.5" height="33" fill="#000"/>
<rect x="1701.35" y="720.3" width="4.5" height="33" fill="#000"/>
<line x1="1697.6" y1="728.8" x2="1697.6" y2="744.8" stroke="#000" stroke-width="1.6" stroke-linecap="butt"/>
<line x1="1691.6" y1="736.8" x2="1703.6" y2="736.8" stroke="#000" stroke-width="1.6" stroke-linecap="butt"/>
<polyline points="1697.6,730.8 1700.6,733.8 1705.6,726.8" stroke="#E0A040" stroke-width="1" fill="none" stroke-linejoin="miter"/>
<text transform="translate(1678.31,749) scale(0.9500,1)" font-size="12" fill="#B02822">2</text>
<text transform="translate(1707.37,749) scale(0.9500,1)" font-size="12" fill="#B02822">1</text>
<text transform="translate(1658.46,713) scale(0.8870,1)" font-size="23.5" fill="#000" stroke="#000" stroke-width="0.35">C6</text>
<text transform="translate(1704.54,713) scale(0.8297,1)" font-size="23.5" fill="#000" stroke="#000" stroke-width="0.35">10µF</text>
<line x1="1663.8" y1="792.6" x2="1730.6" y2="792.6" stroke="#A01010" stroke-width="2" stroke-linecap="square"/>
<rect x="1689.35" y="776.1" width="4.5" height="33" fill="#000"/>
<rect x="1701.35" y="776.1" width="4.5" height="33" fill="#000"/>
<line x1="1697.6" y1="784.6" x2="1697.6" y2="800.6" stroke="#000" stroke-width="1.6" stroke-linecap="butt"/>
<line x1="1691.6" y1="792.6" x2="1703.6" y2="792.6" stroke="#000" stroke-width="1.6" stroke-linecap="butt"/>
<polyline points="1697.6,786.6 1700.6,789.6 1705.6,782.6" stroke="#E0A040" stroke-width="1" fill="none" stroke-linejoin="miter"/>
<text transform="translate(1678.31,804.8) scale(0.9500,1)" font-size="12" fill="#B02822">2</text>
<text transform="translate(1707.37,804.8) scale(0.9500,1)" font-size="12" fill="#B02822">1</text>
<text transform="translate(1658.45,770) scale(0.8907,1)" font-size="23.5" fill="#000" stroke="#000" stroke-width="0.35">C7</text>
<text transform="translate(1704.54,770) scale(0.8297,1)" font-size="23.5" fill="#000" stroke="#000" stroke-width="0.35">10µF</text>
<line x1="1663.8" y1="847" x2="1730.6" y2="847" stroke="#A01010" stroke-width="2" stroke-linecap="square"/>
<rect x="1689.35" y="830.5" width="4.5" height="33" fill="#000"/>
<rect x="1701.35" y="830.5" width="4.5" height="33" fill="#000"/>
<line x1="1697.6" y1="839" x2="1697.6" y2="855" stroke="#000" stroke-width="1.6" stroke-linecap="butt"/>
<line x1="1691.6" y1="847" x2="1703.6" y2="847" stroke="#000" stroke-width="1.6" stroke-linecap="butt"/>
<polyline points="1697.6,841 1700.6,844 1705.6,837" stroke="#E0A040" stroke-width="1" fill="none" stroke-linejoin="miter"/>
<text transform="translate(1678.31,859.2) scale(0.9500,1)" font-size="12" fill="#B02822">2</text>
<text transform="translate(1707.37,859.2) scale(0.9500,1)" font-size="12" fill="#B02822">1</text>
<text transform="translate(1658.46,824.4) scale(0.8870,1)" font-size="23.5" fill="#000" stroke="#000" stroke-width="0.35">C8</text>
<text transform="translate(1704.54,824.4) scale(0.8297,1)" font-size="23.5" fill="#000" stroke="#000" stroke-width="0.35">10µF</text>
<line x1="1663.8" y1="903.2" x2="1730.6" y2="903.2" stroke="#A01010" stroke-width="2" stroke-linecap="square"/>
<rect x="1689.35" y="886.7" width="4.5" height="33" fill="#000"/>
<rect x="1701.35" y="886.7" width="4.5" height="33" fill="#000"/>
<line x1="1697.6" y1="895.2" x2="1697.6" y2="911.2" stroke="#000" stroke-width="1.6" stroke-linecap="butt"/>
<line x1="1691.6" y1="903.2" x2="1703.6" y2="903.2" stroke="#000" stroke-width="1.6" stroke-linecap="butt"/>
<polyline points="1697.6,897.2 1700.6,900.2 1705.6,893.2" stroke="#E0A040" stroke-width="1" fill="none" stroke-linejoin="miter"/>
<text transform="translate(1678.31,915.4) scale(0.9500,1)" font-size="12" fill="#B02822">2</text>
<text transform="translate(1707.37,915.4) scale(0.9500,1)" font-size="12" fill="#B02822">1</text>
<text transform="translate(1658.45,880.1) scale(0.8907,1)" font-size="23.5" fill="#000" stroke="#000" stroke-width="0.35">C9</text>
<text transform="translate(1704.54,880.1) scale(0.8297,1)" font-size="23.5" fill="#000" stroke="#000" stroke-width="0.35">10µF</text>
<line x1="1663.8" y1="947.8" x2="1730.6" y2="947.8" stroke="#A01010" stroke-width="2" stroke-linecap="square"/>
<rect x="1689.35" y="931.3" width="4.5" height="33" fill="#000"/>
<rect x="1701.35" y="931.3" width="4.5" height="33" fill="#000"/>
<line x1="1697.6" y1="939.8" x2="1697.6" y2="955.8" stroke="#000" stroke-width="1.6" stroke-linecap="butt"/>
<line x1="1691.6" y1="947.8" x2="1703.6" y2="947.8" stroke="#000" stroke-width="1.6" stroke-linecap="butt"/>
<polyline points="1697.6,941.8 1700.6,944.8 1705.6,937.8" stroke="#E0A040" stroke-width="1" fill="none" stroke-linejoin="miter"/>
<text transform="translate(1678.31,960) scale(0.9500,1)" font-size="12" fill="#B02822">2</text>
<text transform="translate(1707.37,960) scale(0.9500,1)" font-size="12" fill="#B02822">1</text>
<text transform="translate(1658.49,925.2) scale(0.8584,1)" font-size="23.5" fill="#000" stroke="#000" stroke-width="0.35">C10</text>
<text transform="translate(1704.54,925.2) scale(0.8297,1)" font-size="23.5" fill="#000" stroke="#000" stroke-width="0.35">10µF</text>
<line x1="1747.9" y1="776.6" x2="1747.9" y2="865.5" stroke="#909090" stroke-width="1" stroke-dasharray="3,3"/>
<line x1="1704" y1="820.4" x2="1791.6" y2="820.4" stroke="#909090" stroke-width="1" stroke-dasharray="3,3"/>
<text transform="translate(2098.91,536.7) scale(0.8339,1)" font-size="23.5" fill="#000" stroke="#000" stroke-width="0.35">X14</text>
<rect x="2097.8" y="541.3" width="89.4" height="133.2" stroke="#000" stroke-width="2" fill="none"/>
<text transform="translate(2102.8,569.9) scale(0.9800,1)" font-size="17.5" fill="#000" stroke="#000" stroke-width="0.2">VIN</text>
<line x1="2097.8" y1="564.1" x2="2076.7" y2="564.1" stroke="#A01010" stroke-width="2" stroke-linecap="square"/>
<line x1="2076.7" y1="564.1" x2="2062.3" y2="564.1" stroke="#28A222" stroke-width="2" stroke-linecap="square"/>
<text transform="translate(2087.97,576.3) scale(0.9500,1)" font-size="12" fill="#B02822">1</text>
<text transform="translate(2101.94,591.9) scale(0.9800,1)" font-size="17.5" fill="#000" stroke="#000" stroke-width="0.2">GND</text>
<line x1="2097.8" y1="586.1" x2="2076.7" y2="586.1" stroke="#A01010" stroke-width="2" stroke-linecap="square"/>
<line x1="2076.7" y1="586.1" x2="2062.3" y2="586.1" stroke="#28A222" stroke-width="2" stroke-linecap="square"/>
<text transform="translate(2088.11,598.3) scale(0.9500,1)" font-size="12" fill="#B02822">2</text>
<text transform="translate(2102.03,614.3) scale(0.9800,1)" font-size="17.5" fill="#000" stroke="#000" stroke-width="0.2">SDA</text>
<line x1="2097.8" y1="608.5" x2="2076.7" y2="608.5" stroke="#A01010" stroke-width="2" stroke-linecap="square"/>
<line x1="2076.7" y1="608.5" x2="2062.3" y2="608.5" stroke="#28A222" stroke-width="2" stroke-linecap="square"/>
<text transform="translate(2088.17,620.7) scale(0.9500,1)" font-size="12" fill="#B02822">3</text>
<text transform="translate(2102.03,636.8) scale(0.9800,1)" font-size="17.5" fill="#000" stroke="#000" stroke-width="0.2">SCL</text>
<line x1="2097.8" y1="631" x2="2076.7" y2="631" stroke="#A01010" stroke-width="2" stroke-linecap="square"/>
<line x1="2076.7" y1="631" x2="2062.3" y2="631" stroke="#28A222" stroke-width="2" stroke-linecap="square"/>
<text transform="translate(2088.16,643.2) scale(0.9500,1)" font-size="12" fill="#B02822">4</text>
<text transform="translate(2101.94,659.3) scale(0.9800,1)" font-size="17.5" fill="#000" stroke="#000" stroke-width="0.2">CE</text>
<line x1="2097.8" y1="653.5" x2="2076.7" y2="653.5" stroke="#A01010" stroke-width="2" stroke-linecap="square"/>
<line x1="2076.7" y1="653.5" x2="2062.3" y2="653.5" stroke="#28A222" stroke-width="2" stroke-linecap="square"/>
<text transform="translate(2088.14,665.7) scale(0.9500,1)" font-size="12" fill="#B02822">5</text>
<line x1="2062.3" y1="564.1" x2="2053.5" y2="564.1" stroke="#28A222" stroke-width="2" stroke-linecap="square"/>
<line x1="2053.5" y1="564.1" x2="2031" y2="564.1" stroke="#A01010" stroke-width="2" stroke-linecap="square"/>
<line x1="2044.5" y1="564.1" x2="2062.5" y2="564.1" stroke="#000" stroke-width="3.2" stroke-linecap="butt"/>
<line x1="2053.5" y1="555.1" x2="2053.5" y2="573.1" stroke="#000" stroke-width="3.2" stroke-linecap="butt"/>
<polygon points="2015,564.1 2031,558.6 2031,569.6" stroke="#000" stroke-width="1" fill="#000" stroke-linejoin="miter"/>
<text transform="translate(2015,553.07) rotate(-90) scale(1.0127,1)" font-size="17" fill="#000" stroke="#000" stroke-width="0.2">+5V</text>
<line x1="2062.3" y1="586.1" x2="2036.9" y2="586.1" stroke="#28A222" stroke-width="2" stroke-linecap="square"/>
<line x1="2036.9" y1="586.1" x2="2011.5" y2="586.1" stroke="#A01010" stroke-width="2" stroke-linecap="square"/>
<line x1="2027.9" y1="586.1" x2="2045.9" y2="586.1" stroke="#000" stroke-width="2" stroke-linecap="butt"/>
<line x1="2036.9" y1="577.1" x2="2036.9" y2="595.1" stroke="#000" stroke-width="2" stroke-linecap="butt"/>
<rect x="2009" y="569.6" width="5" height="33" fill="#000"/>
<line x1="2062.3" y1="608.5" x2="2058.9" y2="608.5" stroke="#28A222" stroke-width="2" stroke-linecap="square"/>
<line x1="2058.9" y1="608.5" x2="2037.7" y2="608.5" stroke="#A01010" stroke-width="2" stroke-linecap="square"/>
<line x1="2049.9" y1="608.5" x2="2067.9" y2="608.5" stroke="#000" stroke-width="3.2" stroke-linecap="butt"/>
<line x1="2058.9" y1="599.5" x2="2058.9" y2="617.5" stroke="#000" stroke-width="3.2" stroke-linecap="butt"/>
<polygon points="1925.6,608.5 1936.1,597.3 2027.2,597.3 2037.7,608.5 2027.2,619.7 1936.1,619.7" stroke="#000" stroke-width="2" fill="none" stroke-linejoin="miter"/>
<text transform="translate(1973.22,614.1) scale(0.9674,1)" font-size="18" fill="#000" stroke="#000" stroke-width="0.2">SDA</text>
<line x1="2062.3" y1="631" x2="2058.9" y2="631" stroke="#28A222" stroke-width="2" stroke-linecap="square"/>
<line x1="2058.9" y1="631" x2="2037.7" y2="631" stroke="#A01010" stroke-width="2" stroke-linecap="square"/>
<line x1="2049.9" y1="631" x2="2067.9" y2="631" stroke="#000" stroke-width="2" stroke-linecap="butt"/>
<line x1="2058.9" y1="622" x2="2058.9" y2="640" stroke="#000" stroke-width="2" stroke-linecap="butt"/>
<polygon points="1935.7,620 2027.2,620 2037.7,631 2027.2,642 1935.7,642" stroke="#000" stroke-width="2" fill="none" stroke-linejoin="miter"/>
<text transform="translate(1974.21,636.6) scale(0.9804,1)" font-size="18" fill="#000" stroke="#000" stroke-width="0.2">SCL</text>
<line x1="2062.3" y1="653.5" x2="2058.9" y2="653.5" stroke="#28A222" stroke-width="2" stroke-linecap="square"/>
<line x1="2058.9" y1="653.5" x2="2037.2" y2="653.5" stroke="#A01010" stroke-width="2" stroke-linecap="square"/>
<line x1="2049.9" y1="653.5" x2="2067.9" y2="653.5" stroke="#000" stroke-width="2" stroke-linecap="butt"/>
<line x1="2058.9" y1="644.5" x2="2058.9" y2="662.5" stroke="#000" stroke-width="2" stroke-linecap="butt"/>
<polygon points="1936.2,653.5 1946.7,642.2 2037.2,642.2 2037.2,664.8 1946.7,664.8" stroke="#000" stroke-width="2" fill="none" stroke-linejoin="miter"/>
<text transform="translate(2000.46,659.1) scale(1.0390,1)" font-size="18" fill="#000" stroke="#000" stroke-width="0.2">CE2</text>
<line x1="2167" y1="608.5" x2="2185" y2="608.5" stroke="#000" stroke-width="2" stroke-linecap="butt"/>
<line x1="2176" y1="599.5" x2="2176" y2="617.5" stroke="#000" stroke-width="2" stroke-linecap="butt"/>
<polyline points="2180,602.5 2183,605.5 2188,598.5" stroke="#E0A040" stroke-width="1" fill="none" stroke-linejoin="miter"/>
<text transform="translate(2097.47,696.1) scale(0.8644,1)" font-size="23.5" fill="#000" stroke="#000" stroke-width="0.35">Pololu ToF distance sensor VL6180X</text>
<text transform="translate(2098.6,760.1) scale(0.8412,1)" font-size="23.5" fill="#000" stroke="#000" stroke-width="0.35">X15</text>
<rect x="2097.5" y="765.5" width="89.7" height="132.9" stroke="#000" stroke-width="2" fill="none"/>
<text transform="translate(2102.5,793.3) scale(0.9800,1)" font-size="17.5" fill="#000" stroke="#000" stroke-width="0.2">VIN</text>
<line x1="2097.5" y1="787.5" x2="2076.7" y2="787.5" stroke="#A01010" stroke-width="2" stroke-linecap="square"/>
<line x1="2076.7" y1="787.5" x2="2062.3" y2="787.5" stroke="#28A222" stroke-width="2" stroke-linecap="square"/>
<text transform="translate(2087.67,799.7) scale(0.9500,1)" font-size="12" fill="#B02822">1</text>
<text transform="translate(2101.64,815) scale(0.9800,1)" font-size="17.5" fill="#000" stroke="#000" stroke-width="0.2">GND</text>
<line x1="2097.5" y1="809.2" x2="2076.7" y2="809.2" stroke="#A01010" stroke-width="2" stroke-linecap="square"/>
<line x1="2076.7" y1="809.2" x2="2062.3" y2="809.2" stroke="#28A222" stroke-width="2" stroke-linecap="square"/>
<text transform="translate(2087.81,821.4) scale(0.9500,1)" font-size="12" fill="#B02822">2</text>
<text transform="translate(2101.73,837.3) scale(0.9800,1)" font-size="17.5" fill="#000" stroke="#000" stroke-width="0.2">SDA</text>
<line x1="2097.5" y1="831.5" x2="2076.7" y2="831.5" stroke="#A01010" stroke-width="2" stroke-linecap="square"/>
<line x1="2076.7" y1="831.5" x2="2062.3" y2="831.5" stroke="#28A222" stroke-width="2" stroke-linecap="square"/>
<text transform="translate(2087.87,843.7) scale(0.9500,1)" font-size="12" fill="#B02822">3</text>
<text transform="translate(2101.73,859.3) scale(0.9800,1)" font-size="17.5" fill="#000" stroke="#000" stroke-width="0.2">SCL</text>
<line x1="2097.5" y1="853.5" x2="2076.7" y2="853.5" stroke="#A01010" stroke-width="2" stroke-linecap="square"/>
<line x1="2076.7" y1="853.5" x2="2062.3" y2="853.5" stroke="#28A222" stroke-width="2" stroke-linecap="square"/>
<text transform="translate(2087.86,865.7) scale(0.9500,1)" font-size="12" fill="#B02822">4</text>
<text transform="translate(2101.64,881) scale(0.9800,1)" font-size="17.5" fill="#000" stroke="#000" stroke-width="0.2">CE</text>
<line x1="2097.5" y1="875.2" x2="2076.7" y2="875.2" stroke="#A01010" stroke-width="2" stroke-linecap="square"/>
<line x1="2076.7" y1="875.2" x2="2062.3" y2="875.2" stroke="#28A222" stroke-width="2" stroke-linecap="square"/>
<text transform="translate(2087.84,887.4) scale(0.9500,1)" font-size="12" fill="#B02822">5</text>
<line x1="2062.3" y1="787.5" x2="2053.5" y2="787.5" stroke="#28A222" stroke-width="2" stroke-linecap="square"/>
<line x1="2053.5" y1="787.5" x2="2030.5" y2="787.5" stroke="#A01010" stroke-width="2" stroke-linecap="square"/>
<line x1="2044.5" y1="787.5" x2="2062.5" y2="787.5" stroke="#000" stroke-width="3.2" stroke-linecap="butt"/>
<line x1="2053.5" y1="778.5" x2="2053.5" y2="796.5" stroke="#000" stroke-width="3.2" stroke-linecap="butt"/>
<polygon points="2014.6,787.5 2030.6,782 2030.6,793" stroke="#000" stroke-width="1" fill="#000" stroke-linejoin="miter"/>
<text transform="translate(2015,776.48) rotate(-90) scale(1.0261,1)" font-size="17" fill="#000" stroke="#000" stroke-width="0.2">+5V</text>
<line x1="2062.3" y1="809.2" x2="2048" y2="809.2" stroke="#28A222" stroke-width="2" stroke-linecap="square"/>
<line x1="2048" y1="809.2" x2="2022.5" y2="809.2" stroke="#A01010" stroke-width="2" stroke-linecap="square"/>
<line x1="2039" y1="809.2" x2="2057" y2="809.2" stroke="#000" stroke-width="2" stroke-linecap="butt"/>
<line x1="2048" y1="800.2" x2="2048" y2="818.2" stroke="#000" stroke-width="2" stroke-linecap="butt"/>
<rect x="2020" y="792.7" width="5" height="33" fill="#000"/>
<line x1="2062.3" y1="831.5" x2="2058.9" y2="831.5" stroke="#28A222" stroke-width="2" stroke-linecap="square"/>
<line x1="2058.9" y1="831.5" x2="2037.7" y2="831.5" stroke="#A01010" stroke-width="2" stroke-linecap="square"/>
<line x1="2049.9" y1="831.5" x2="2067.9" y2="831.5" stroke="#000" stroke-width="2" stroke-linecap="butt"/>
<line x1="2058.9" y1="822.5" x2="2058.9" y2="840.5" stroke="#000" stroke-width="2" stroke-linecap="butt"/>
<polygon points="1925.6,831.5 1936.1,820.3 2027.2,820.3 2037.7,831.5 2027.2,842.7 1936.1,842.7" stroke="#000" stroke-width="2" fill="none" stroke-linejoin="miter"/>
<text transform="translate(1973.22,837.1) scale(0.9674,1)" font-size="18" fill="#000" stroke="#000" stroke-width="0.2">SDA</text>
<line x1="2062.3" y1="853.5" x2="2058.9" y2="853.5" stroke="#28A222" stroke-width="2" stroke-linecap="square"/>
<line x1="2058.9" y1="853.5" x2="2037.7" y2="853.5" stroke="#A01010" stroke-width="2" stroke-linecap="square"/>
<line x1="2049.9" y1="853.5" x2="2067.9" y2="853.5" stroke="#000" stroke-width="2" stroke-linecap="butt"/>
<line x1="2058.9" y1="844.5" x2="2058.9" y2="862.5" stroke="#000" stroke-width="2" stroke-linecap="butt"/>
<polygon points="1935.7,842.5 2027.2,842.5 2037.7,853.5 2027.2,864.5 1935.7,864.5" stroke="#000" stroke-width="2" fill="none" stroke-linejoin="miter"/>
<text transform="translate(1974.21,859.1) scale(0.9804,1)" font-size="18" fill="#000" stroke="#000" stroke-width="0.2">SCL</text>
<line x1="2062.3" y1="875.2" x2="2053" y2="875.2" stroke="#28A222" stroke-width="2" stroke-linecap="square"/>
<line x1="2053" y1="875.2" x2="2031" y2="875.2" stroke="#A01010" stroke-width="2" stroke-linecap="square"/>
<line x1="2044" y1="875.2" x2="2062" y2="875.2" stroke="#000" stroke-width="3.2" stroke-linecap="butt"/>
<line x1="2053" y1="866.2" x2="2053" y2="884.2" stroke="#000" stroke-width="3.2" stroke-linecap="butt"/>
<polygon points="1931.2,875.2 1941.7,863.9 2031,863.9 2031,886.5 1941.7,886.5" stroke="#000" stroke-width="2" fill="none" stroke-linejoin="miter"/>
<text transform="translate(1995.08,880.8) scale(1.0183,1)" font-size="18" fill="#000" stroke="#000" stroke-width="0.2">CE3</text>
<line x1="2167" y1="831.5" x2="2185" y2="831.5" stroke="#000" stroke-width="2" stroke-linecap="butt"/>
<line x1="2176" y1="822.5" x2="2176" y2="840.5" stroke="#000" stroke-width="2" stroke-linecap="butt"/>
<polyline points="2180,825.5 2183,828.5 2188,821.5" stroke="#E0A040" stroke-width="1" fill="none" stroke-linejoin="miter"/>
<text transform="translate(2097.17,919.5) scale(0.8644,1)" font-size="23.5" fill="#000" stroke="#000" stroke-width="0.35">Pololu ToF distance sensor VL6180X</text>
<text transform="translate(2104.5,960.1) scale(0.8412,1)" font-size="23.5" fill="#000" stroke="#000" stroke-width="0.35">X16</text>
<rect x="2103.4" y="965.5" width="89.2" height="133.4" stroke="#000" stroke-width="2" fill="none"/>
<text transform="translate(2108.4,993.3) scale(0.9800,1)" font-size="17.5" fill="#000" stroke="#000" stroke-width="0.2">VIN</text>
<line x1="2103.4" y1="987.5" x2="2082.6" y2="987.5" stroke="#A01010" stroke-width="2" stroke-linecap="square"/>
<line x1="2082.6" y1="987.5" x2="2068.2" y2="987.5" stroke="#28A222" stroke-width="2" stroke-linecap="square"/>
<text transform="translate(2093.57,999.7) scale(0.9500,1)" font-size="12" fill="#B02822">1</text>
<text transform="translate(2107.54,1015.3) scale(0.9800,1)" font-size="17.5" fill="#000" stroke="#000" stroke-width="0.2">GND</text>
<line x1="2103.4" y1="1009.5" x2="2082.6" y2="1009.5" stroke="#A01010" stroke-width="2" stroke-linecap="square"/>
<line x1="2082.6" y1="1009.5" x2="2068.2" y2="1009.5" stroke="#28A222" stroke-width="2" stroke-linecap="square"/>
<text transform="translate(2093.71,1021.7) scale(0.9500,1)" font-size="12" fill="#B02822">2</text>
<text transform="translate(2107.63,1038.2) scale(0.9800,1)" font-size="17.5" fill="#000" stroke="#000" stroke-width="0.2">SDA</text>
<line x1="2103.4" y1="1032.4" x2="2082.6" y2="1032.4" stroke="#A01010" stroke-width="2" stroke-linecap="square"/>
<line x1="2082.6" y1="1032.4" x2="2068.2" y2="1032.4" stroke="#28A222" stroke-width="2" stroke-linecap="square"/>
<text transform="translate(2093.77,1044.6) scale(0.9500,1)" font-size="12" fill="#B02822">3</text>
<text transform="translate(2107.63,1060.5) scale(0.9800,1)" font-size="17.5" fill="#000" stroke="#000" stroke-width="0.2">SCL</text>
<line x1="2103.4" y1="1054.7" x2="2082.6" y2="1054.7" stroke="#A01010" stroke-width="2" stroke-linecap="square"/>
<line x1="2082.6" y1="1054.7" x2="2068.2" y2="1054.7" stroke="#28A222" stroke-width="2" stroke-linecap="square"/>
<text transform="translate(2093.76,1066.9) scale(0.9500,1)" font-size="12" fill="#B02822">4</text>
<text transform="translate(2107.54,1082.2) scale(0.9800,1)" font-size="17.5" fill="#000" stroke="#000" stroke-width="0.2">CE</text>
<line x1="2103.4" y1="1076.4" x2="2082.6" y2="1076.4" stroke="#A01010" stroke-width="2" stroke-linecap="square"/>
<line x1="2082.6" y1="1076.4" x2="2068.2" y2="1076.4" stroke="#28A222" stroke-width="2" stroke-linecap="square"/>
<text transform="translate(2093.74,1088.6) scale(0.9500,1)" font-size="12" fill="#B02822">5</text>
<line x1="2068.2" y1="987.5" x2="2058.6" y2="987.5" stroke="#28A222" stroke-width="2" stroke-linecap="square"/>
<line x1="2058.6" y1="987.5" x2="2036" y2="987.5" stroke="#A01010" stroke-width="2" stroke-linecap="square"/>
<line x1="2049.6" y1="987.5" x2="2067.6" y2="987.5" stroke="#000" stroke-width="2" stroke-linecap="butt"/>
<line x1="2058.6" y1="978.5" x2="2058.6" y2="996.5" stroke="#000" stroke-width="2" stroke-linecap="butt"/>
<polygon points="2020,987.5 2036,982 2036,993" stroke="#000" stroke-width="1" fill="#000" stroke-linejoin="miter"/>
<text transform="translate(2021,976.46) rotate(-90) scale(0.9926,1)" font-size="17" fill="#000" stroke="#000" stroke-width="0.2">+5V</text>
<line x1="2068.2" y1="1009.5" x2="2058.6" y2="1009.5" stroke="#28A222" stroke-width="2" stroke-linecap="square"/>
<line x1="2058.6" y1="1009.5" x2="2033.2" y2="1009.5" stroke="#A01010" stroke-width="2" stroke-linecap="square"/>
<line x1="2049.6" y1="1009.5" x2="2067.6" y2="1009.5" stroke="#000" stroke-width="2" stroke-linecap="butt"/>
<line x1="2058.6" y1="1000.5" x2="2058.6" y2="1018.5" stroke="#000" stroke-width="2" stroke-linecap="butt"/>
<rect x="2030.7" y="993" width="5" height="33" fill="#000"/>
<line x1="2068.2" y1="1032.4" x2="2063.6" y2="1032.4" stroke="#28A222" stroke-width="2" stroke-linecap="square"/>
<line x1="2063.6" y1="1032.4" x2="2041.6" y2="1032.4" stroke="#A01010" stroke-width="2" stroke-linecap="square"/>
<line x1="2054.6" y1="1032.4" x2="2072.6" y2="1032.4" stroke="#000" stroke-width="3.2" stroke-linecap="butt"/>
<line x1="2063.6" y1="1023.4" x2="2063.6" y2="1041.4" stroke="#000" stroke-width="3.2" stroke-linecap="butt"/>
<polygon points="1931.2,1032.4 1941.7,1021.2 2031.1,1021.2 2041.6,1032.4 2031.1,1043.6 1941.7,1043.6" stroke="#000" stroke-width="2" fill="none" stroke-linejoin="miter"/>
<text transform="translate(1977.12,1038) scale(0.9674,1)" font-size="18" fill="#000" stroke="#000" stroke-width="0.2">SDA</text>
<line x1="2068.2" y1="1054.7" x2="2063.6" y2="1054.7" stroke="#28A222" stroke-width="2" stroke-linecap="square"/>
<line x1="2063.6" y1="1054.7" x2="2041.6" y2="1054.7" stroke="#A01010" stroke-width="2" stroke-linecap="square"/>
<line x1="2054.6" y1="1054.7" x2="2072.6" y2="1054.7" stroke="#000" stroke-width="3.2" stroke-linecap="butt"/>
<line x1="2063.6" y1="1045.7" x2="2063.6" y2="1063.7" stroke="#000" stroke-width="3.2" stroke-linecap="butt"/>
<polygon points="1941.3,1043.7 2031.1,1043.7 2041.6,1054.7 2031.1,1065.7 1941.3,1065.7" stroke="#000" stroke-width="2" fill="none" stroke-linejoin="miter"/>
<text transform="translate(1978.11,1060.3) scale(0.9804,1)" font-size="18" fill="#000" stroke="#000" stroke-width="0.2">SCL</text>
<line x1="2068.2" y1="1076.4" x2="2058" y2="1076.4" stroke="#28A222" stroke-width="2" stroke-linecap="square"/>
<line x1="2058" y1="1076.4" x2="2036.6" y2="1076.4" stroke="#A01010" stroke-width="2" stroke-linecap="square"/>
<line x1="2049" y1="1076.4" x2="2067" y2="1076.4" stroke="#000" stroke-width="2" stroke-linecap="butt"/>
<line x1="2058" y1="1067.4" x2="2058" y2="1085.4" stroke="#000" stroke-width="2" stroke-linecap="butt"/>
<polygon points="1936.2,1076.4 1946.7,1065.1 2036.6,1065.1 2036.6,1087.7 1946.7,1087.7" stroke="#000" stroke-width="2" fill="none" stroke-linejoin="miter"/>
<text transform="translate(2000.09,1082) scale(1.0101,1)" font-size="18" fill="#000" stroke="#000" stroke-width="0.2">CE4</text>
<line x1="2172" y1="1032.4" x2="2190" y2="1032.4" stroke="#000" stroke-width="2" stroke-linecap="butt"/>
<line x1="2181" y1="1023.4" x2="2181" y2="1041.4" stroke="#000" stroke-width="2" stroke-linecap="butt"/>
<polyline points="2185,1026.4 2188,1029.4 2193,1022.4" stroke="#E0A040" stroke-width="1" fill="none" stroke-linejoin="miter"/>
<text transform="translate(2103.07,1119.5) scale(0.8644,1)" font-size="23.5" fill="#000" stroke="#000" stroke-width="0.35">Pololu ToF distance sensor VL6180X</text>
<text transform="translate(1725.4,976.3) scale(0.8412,1)" font-size="23.5" fill="#000" stroke="#000" stroke-width="0.35">X13</text>
<rect x="1724.3" y="981.3" width="88.2" height="133.4" stroke="#000" stroke-width="2" fill="none"/>
<text transform="translate(1729.3,1009.8) scale(0.9800,1)" font-size="17.5" fill="#000" stroke="#000" stroke-width="0.2">VIN</text>
<line x1="1724.3" y1="1004" x2="1704.4" y2="1004" stroke="#A01010" stroke-width="2" stroke-linecap="square"/>
<line x1="1704.4" y1="1004" x2="1687.2" y2="1004" stroke="#28A222" stroke-width="2" stroke-linecap="square"/>
<text transform="translate(1714.47,1016.2) scale(0.9500,1)" font-size="12" fill="#B02822">1</text>
<text transform="translate(1728.44,1032.1) scale(0.9800,1)" font-size="17.5" fill="#000" stroke="#000" stroke-width="0.2">GND</text>
<line x1="1724.3" y1="1026.3" x2="1704.4" y2="1026.3" stroke="#A01010" stroke-width="2" stroke-linecap="square"/>
<line x1="1704.4" y1="1026.3" x2="1687.2" y2="1026.3" stroke="#28A222" stroke-width="2" stroke-linecap="square"/>
<text transform="translate(1714.61,1038.5) scale(0.9500,1)" font-size="12" fill="#B02822">2</text>
<text transform="translate(1728.53,1054) scale(0.9800,1)" font-size="17.5" fill="#000" stroke="#000" stroke-width="0.2">SDA</text>
<line x1="1724.3" y1="1048.2" x2="1704.4" y2="1048.2" stroke="#A01010" stroke-width="2" stroke-linecap="square"/>
<line x1="1704.4" y1="1048.2" x2="1687.2" y2="1048.2" stroke="#28A222" stroke-width="2" stroke-linecap="square"/>
<text transform="translate(1714.66,1060.4) scale(0.9500,1)" font-size="12" fill="#B02822">3</text>
<text transform="translate(1728.53,1076.7) scale(0.9800,1)" font-size="17.5" fill="#000" stroke="#000" stroke-width="0.2">SCL</text>
<line x1="1724.3" y1="1070.9" x2="1704.4" y2="1070.9" stroke="#A01010" stroke-width="2" stroke-linecap="square"/>
<line x1="1704.4" y1="1070.9" x2="1687.2" y2="1070.9" stroke="#28A222" stroke-width="2" stroke-linecap="square"/>
<text transform="translate(1714.66,1083.1) scale(0.9500,1)" font-size="12" fill="#B02822">4</text>
<text transform="translate(1728.44,1098.6) scale(0.9800,1)" font-size="17.5" fill="#000" stroke="#000" stroke-width="0.2">CE</text>
<line x1="1724.3" y1="1092.8" x2="1704.4" y2="1092.8" stroke="#A01010" stroke-width="2" stroke-linecap="square"/>
<line x1="1704.4" y1="1092.8" x2="1687.2" y2="1092.8" stroke="#28A222" stroke-width="2" stroke-linecap="square"/>
<text transform="translate(1714.64,1105) scale(0.9500,1)" font-size="12" fill="#B02822">5</text>
<line x1="1687.2" y1="1004" x2="1679.8" y2="1004" stroke="#28A222" stroke-width="2" stroke-linecap="square"/>
<line x1="1679.8" y1="1004" x2="1657.4" y2="1004" stroke="#A01010" stroke-width="2" stroke-linecap="square"/>
<line x1="1670.8" y1="1004" x2="1688.8" y2="1004" stroke="#000" stroke-width="3.2" stroke-linecap="butt"/>
<line x1="1679.8" y1="995" x2="1679.8" y2="1013" stroke="#000" stroke-width="3.2" stroke-linecap="butt"/>
<polygon points="1641,1004 1657,998.5 1657,1009.5" stroke="#000" stroke-width="1" fill="#000" stroke-linejoin="miter"/>
<text transform="translate(1641.8,993.08) rotate(-90) scale(1.0227,1)" font-size="17" fill="#000" stroke="#000" stroke-width="0.2">+5V</text>
<line x1="1687.2" y1="1026.3" x2="1657.4" y2="1026.3" stroke="#28A222" stroke-width="2" stroke-linecap="square"/>
<line x1="1657.4" y1="1026.3" x2="1632.4" y2="1026.3" stroke="#A01010" stroke-width="2" stroke-linecap="square"/>
<line x1="1648.4" y1="1026.3" x2="1666.4" y2="1026.3" stroke="#000" stroke-width="2" stroke-linecap="butt"/>
<line x1="1657.4" y1="1017.3" x2="1657.4" y2="1035.3" stroke="#000" stroke-width="2" stroke-linecap="butt"/>
<rect x="1629.9" y="1009.8" width="5" height="33" fill="#000"/>
<line x1="1687.2" y1="1048.2" x2="1679.8" y2="1048.2" stroke="#28A222" stroke-width="2" stroke-linecap="square"/>
<line x1="1679.8" y1="1048.2" x2="1657.4" y2="1048.2" stroke="#A01010" stroke-width="2" stroke-linecap="square"/>
<line x1="1670.8" y1="1048.2" x2="1688.8" y2="1048.2" stroke="#000" stroke-width="3.2" stroke-linecap="butt"/>
<line x1="1679.8" y1="1039.2" x2="1679.8" y2="1057.2" stroke="#000" stroke-width="3.2" stroke-linecap="butt"/>
<polygon points="1547,1048.2 1557.5,1037 1646.9,1037 1657.4,1048.2 1646.9,1059.4 1557.5,1059.4" stroke="#000" stroke-width="2" fill="none" stroke-linejoin="miter"/>
<text transform="translate(1592.92,1053.8) scale(0.9674,1)" font-size="18" fill="#000" stroke="#000" stroke-width="0.2">SDA</text>
<line x1="1687.2" y1="1070.9" x2="1679.8" y2="1070.9" stroke="#28A222" stroke-width="2" stroke-linecap="square"/>
<line x1="1679.8" y1="1070.9" x2="1657.4" y2="1070.9" stroke="#A01010" stroke-width="2" stroke-linecap="square"/>
<line x1="1670.8" y1="1070.9" x2="1688.8" y2="1070.9" stroke="#000" stroke-width="3.2" stroke-linecap="butt"/>
<line x1="1679.8" y1="1061.9" x2="1679.8" y2="1079.9" stroke="#000" stroke-width="3.2" stroke-linecap="butt"/>
<polygon points="1557.2,1059.9 1646.9,1059.9 1657.4,1070.9 1646.9,1081.9 1557.2,1081.9" stroke="#000" stroke-width="2" fill="none" stroke-linejoin="miter"/>
<text transform="translate(1593.91,1076.5) scale(0.9804,1)" font-size="18" fill="#000" stroke="#000" stroke-width="0.2">SCL</text>
<line x1="1687.2" y1="1092.8" x2="1673.9" y2="1092.8" stroke="#28A222" stroke-width="2" stroke-linecap="square"/>
<line x1="1673.9" y1="1092.8" x2="1652.4" y2="1092.8" stroke="#A01010" stroke-width="2" stroke-linecap="square"/>
<line x1="1664.9" y1="1092.8" x2="1682.9" y2="1092.8" stroke="#000" stroke-width="2" stroke-linecap="butt"/>
<line x1="1673.9" y1="1083.8" x2="1673.9" y2="1101.8" stroke="#000" stroke-width="2" stroke-linecap="butt"/>
<polygon points="1551.7,1092.8 1562.2,1081.5 1652.4,1081.5 1652.4,1104.1 1562.2,1104.1" stroke="#000" stroke-width="2" fill="none" stroke-linejoin="miter"/>
<text transform="translate(1577.53,1098.4) scale(0.9640,1)" font-size="18" fill="#000" stroke="#000" stroke-width="0.2">CE1</text>
<line x1="1792.2" y1="1048.2" x2="1810.2" y2="1048.2" stroke="#000" stroke-width="2" stroke-linecap="butt"/>
<line x1="1801.2" y1="1039.2" x2="1801.2" y2="1057.2" stroke="#000" stroke-width="2" stroke-linecap="butt"/>
<polyline points="1805.2,1042.2 1808.2,1045.2 1813.2,1038.2" stroke="#E0A040" stroke-width="1" fill="none" stroke-linejoin="miter"/>
<text transform="translate(1723.97,1136) scale(0.8644,1)" font-size="23.5" fill="#000" stroke="#000" stroke-width="0.35">Pololu ToF distance sensor VL6180X</text>
<rect x="1043.5" y="446" width="274.5" height="696" stroke="#000" stroke-width="2" fill="none"/>
<text transform="translate(1044.16,438) scale(0.8690,1)" font-size="23.5" fill="#000" stroke="#000" stroke-width="0.35">IC1</text>
<text transform="translate(1043.5,1163.2) scale(0.8724,1)" font-size="23.5" fill="#000" stroke="#000" stroke-width="0.35">ATMEGA32U4-AU</text>
<line x1="1035.5" y1="1142" x2="1051.5" y2="1142" stroke="#000" stroke-width="2" stroke-linecap="butt"/>
<line x1="1043.5" y1="1134" x2="1043.5" y2="1150" stroke="#000" stroke-width="2" stroke-linecap="butt"/>
<polyline points="1047,1134 1050,1137 1055,1130" stroke="#E0A040" stroke-width="1" fill="none" stroke-linejoin="miter"/>
<text transform="translate(1048.55,474.5) scale(0.9800,1)" font-size="18.5" fill="#000" stroke="#000" stroke-width="0.2">RESET</text>
<text transform="translate(1014.14,480) scale(0.9500,1)" font-size="12" fill="#B02822">13</text>
<text transform="translate(1049.64,541.5) scale(0.9800,1)" font-size="18.5" fill="#000" stroke="#000" stroke-width="0.2">XTAL2</text>
<text transform="translate(1027.8,547.5) scale(0.9500,1)" font-size="12" fill="#B02822">16</text>
<line x1="1043.5" y1="535" x2="1000" y2="535" stroke="#A01010" stroke-width="2" stroke-linecap="square"/>
<text transform="translate(1049.64,586.2) scale(0.9800,1)" font-size="18.5" fill="#000" stroke="#000" stroke-width="0.2">XTAL1</text>
<text transform="translate(1027.86,592.2) scale(0.9500,1)" font-size="12" fill="#B02822">17</text>
<line x1="1043.5" y1="579.7" x2="1000" y2="579.7" stroke="#A01010" stroke-width="2" stroke-linecap="square"/>
<text transform="translate(1050,630.5) scale(0.9800,1)" font-size="18.5" fill="#000" stroke="#000" stroke-width="0.2">AREF</text>
<text transform="translate(1027.86,636.5) scale(0.9500,1)" font-size="12" fill="#B02822">42</text>
<line x1="1043.5" y1="624" x2="1000" y2="624" stroke="#A01010" stroke-width="2" stroke-linecap="square"/>
<text transform="translate(1050,653.3) scale(0.9800,1)" font-size="18.5" fill="#000" stroke="#000" stroke-width="0.2">AVCC1</text>
<text transform="translate(1027.63,659.3) scale(0.9500,1)" font-size="12" fill="#B02822">44</text>
<line x1="1043.5" y1="646.8" x2="1000" y2="646.8" stroke="#A01010" stroke-width="2" stroke-linecap="square"/>
<text transform="translate(1050,675) scale(0.9800,1)" font-size="18.5" fill="#000" stroke="#000" stroke-width="0.2">AVCC2</text>
<text transform="translate(1027.63,681) scale(0.9500,1)" font-size="12" fill="#B02822">24</text>
<line x1="1043.5" y1="668.5" x2="1000" y2="668.5" stroke="#A01010" stroke-width="2" stroke-linecap="square"/>
<text transform="translate(1050,792.1) scale(0.9800,1)" font-size="18.5" fill="#000" stroke="#000" stroke-width="0.2">VCC</text>
<text transform="translate(1027.63,798.1) scale(0.9500,1)" font-size="12" fill="#B02822">14</text>
<line x1="1043.5" y1="785.6" x2="1000" y2="785.6" stroke="#A01010" stroke-width="2" stroke-linecap="square"/>
<text transform="translate(1050,814.4) scale(0.9800,1)" font-size="18.5" fill="#000" stroke="#000" stroke-width="0.2">VCC</text>
<text transform="translate(1027.63,820.4) scale(0.9500,1)" font-size="12" fill="#B02822">34</text>
<line x1="1043.5" y1="807.9" x2="1000" y2="807.9" stroke="#A01010" stroke-width="2" stroke-linecap="square"/>
<text transform="translate(1049.09,880.1) scale(0.9800,1)" font-size="18.5" fill="#000" stroke="#000" stroke-width="0.2">GND</text>
<text transform="translate(1027.8,886.1) scale(0.9500,1)" font-size="12" fill="#B02822">15</text>
<line x1="1043.5" y1="873.6" x2="1000" y2="873.6" stroke="#A01010" stroke-width="2" stroke-linecap="square"/>
<text transform="translate(1049.09,903.1) scale(0.9800,1)" font-size="18.5" fill="#000" stroke="#000" stroke-width="0.2">GND</text>
<text transform="translate(1027.8,909.1) scale(0.9500,1)" font-size="12" fill="#B02822">23</text>
<line x1="1043.5" y1="896.6" x2="1000" y2="896.6" stroke="#A01010" stroke-width="2" stroke-linecap="square"/>
<text transform="translate(1049.09,925.1) scale(0.9800,1)" font-size="18.5" fill="#000" stroke="#000" stroke-width="0.2">GND</text>
<text transform="translate(1027.8,931.1) scale(0.9500,1)" font-size="12" fill="#B02822">35</text>
<line x1="1043.5" y1="918.6" x2="1000" y2="918.6" stroke="#A01010" stroke-width="2" stroke-linecap="square"/>
<text transform="translate(1049.09,947.5) scale(0.9800,1)" font-size="18.5" fill="#000" stroke="#000" stroke-width="0.2">GND</text>
<text transform="translate(1027.8,953.5) scale(0.9500,1)" font-size="12" fill="#B02822">43</text>
<line x1="1043.5" y1="941" x2="1000" y2="941" stroke="#A01010" stroke-width="2" stroke-linecap="square"/>
<text transform="translate(1048.64,992.1) scale(0.9800,1)" font-size="18.5" fill="#000" stroke="#000" stroke-width="0.2">UVCC</text>
<text transform="translate(1034.19,998.1) scale(0.9500,1)" font-size="12" fill="#B02822">2</text>
<line x1="1043.5" y1="985.6" x2="1000" y2="985.6" stroke="#A01010" stroke-width="2" stroke-linecap="square"/>
<text transform="translate(1048.55,1013.9) scale(0.9800,1)" font-size="18.5" fill="#000" stroke="#000" stroke-width="0.2">D-</text>
<text transform="translate(1034.13,1019.9) scale(0.9500,1)" font-size="12" fill="#B02822">3</text>
<line x1="1043.5" y1="1007.4" x2="1000" y2="1007.4" stroke="#A01010" stroke-width="2" stroke-linecap="square"/>
<text transform="translate(1048.55,1037.3) scale(0.9800,1)" font-size="18.5" fill="#000" stroke="#000" stroke-width="0.2">D+</text>
<text transform="translate(1033.96,1043.3) scale(0.9500,1)" font-size="12" fill="#B02822">4</text>
<line x1="1043.5" y1="1030.8" x2="1000" y2="1030.8" stroke="#A01010" stroke-width="2" stroke-linecap="square"/>
<text transform="translate(1048.64,1059.7) scale(0.9800,1)" font-size="18.5" fill="#000" stroke="#000" stroke-width="0.2">UGND</text>
<text transform="translate(1034.13,1065.7) scale(0.9500,1)" font-size="12" fill="#B02822">5</text>
<line x1="1043.5" y1="1053.2" x2="1000" y2="1053.2" stroke="#A01010" stroke-width="2" stroke-linecap="square"/>
<text transform="translate(1048.64,1081.2) scale(0.9800,1)" font-size="18.5" fill="#000" stroke="#000" stroke-width="0.2">UCAP</text>
<text transform="translate(1034.13,1087.2) scale(0.9500,1)" font-size="12" fill="#B02822">6</text>
<line x1="1043.5" y1="1074.7" x2="1000" y2="1074.7" stroke="#A01010" stroke-width="2" stroke-linecap="square"/>
<text transform="translate(1050,1104.1) scale(0.9800,1)" font-size="18.5" fill="#000" stroke="#000" stroke-width="0.2">VBUS</text>
<text transform="translate(1034.19,1110.1) scale(0.9500,1)" font-size="12" fill="#B02822">7</text>
<line x1="1043.5" y1="1097.6" x2="1000" y2="1097.6" stroke="#A01010" stroke-width="2" stroke-linecap="square"/>
<circle cx="1038.2" cy="468" r="5.6" fill="none" stroke="#C81818" stroke-width="2"/>
<line x1="1032.5" y1="468" x2="1001" y2="468" stroke="#A01010" stroke-width="2" stroke-linecap="square"/>
<line x1="1001" y1="468" x2="972.5" y2="468" stroke="#28A222" stroke-width="2" stroke-linecap="square"/>
<line x1="972.5" y1="468" x2="949.5" y2="468" stroke="#A01010" stroke-width="2" stroke-linecap="square"/>
<line x1="963.5" y1="468" x2="981.5" y2="468" stroke="#000" stroke-width="2" stroke-linecap="butt"/>
<line x1="972.5" y1="459" x2="972.5" y2="477" stroke="#000" stroke-width="2" stroke-linecap="butt"/>
<polygon points="849.5,467.5 860,456 949.5,456 949.5,479 860,479" stroke="#000" stroke-width="2" fill="none" stroke-linejoin="miter"/>
<text transform="translate(873.53,474.5) scale(1.0218,1)" font-size="18" fill="#000" stroke="#000" stroke-width="0.2">RESET</text>
<polygon points="972.5,307 967,323 978,323" stroke="#000" stroke-width="1" fill="#000" stroke-linejoin="miter"/>
<line x1="972.5" y1="321" x2="972.5" y2="344.5" stroke="#A01010" stroke-width="2" stroke-linecap="square"/>
<line x1="972.5" y1="344.5" x2="972.5" y2="362.5" stroke="#28A222" stroke-width="2" stroke-linecap="square"/>
<line x1="972.5" y1="362.5" x2="972.5" y2="384" stroke="#A01010" stroke-width="2" stroke-linecap="square"/>
<line x1="963.5" y1="344.5" x2="981.5" y2="344.5" stroke="#000" stroke-width="2" stroke-linecap="butt"/>
<line x1="972.5" y1="335.5" x2="972.5" y2="353.5" stroke="#000" stroke-width="2" stroke-linecap="butt"/>
<rect x="961" y="384" width="23" height="45" stroke="#000" stroke-width="2" fill="none"/>
<line x1="963.5" y1="406.5" x2="981.5" y2="406.5" stroke="#000" stroke-width="3.2" stroke-linecap="butt"/>
<line x1="972.5" y1="397.5" x2="972.5" y2="415.5" stroke="#000" stroke-width="3.2" stroke-linecap="butt"/>
<polyline points="976,400 979,403 984,396" stroke="#E0A040" stroke-width="1" fill="none" stroke-linejoin="miter"/>
<line x1="972.5" y1="429" x2="972.5" y2="452.5" stroke="#A01010" stroke-width="2" stroke-linecap="square"/>
<line x1="972.5" y1="452.5" x2="972.5" y2="468" stroke="#28A222" stroke-width="2" stroke-linecap="square"/>
<text transform="translate(983.23,306) scale(1.0027,1)" font-size="17" fill="#000" stroke="#000" stroke-width="0.2">+5V</text>
<text transform="translate(956,429.21) rotate(-90) scale(0.9093,1)" font-size="23.5" fill="#000" stroke="#000" stroke-width="0.35">R4</text>
<text transform="translate(1006,427.42) rotate(-90) scale(0.8034,1)" font-size="23.5" fill="#000" stroke="#000" stroke-width="0.35">10K</text>
<text transform="translate(972.81,383.2) scale(0.9500,1)" font-size="12" fill="#B02822">2</text>
<text transform="translate(972.67,441.7) scale(0.9500,1)" font-size="12" fill="#B02822">1</text>
<text transform="translate(844.34,507) scale(0.8833,1)" font-size="23.5" fill="#000" stroke="#000" stroke-width="0.35">EUROQUARTZ_MJ</text>
<polyline points="1000,535 1000,517.5 843,517.5" stroke="#28A222" stroke-width="2" fill="none" stroke-linejoin="miter"/>
<line x1="843" y1="517.5" x2="816" y2="517.5" stroke="#A01010" stroke-width="2" stroke-linecap="square"/>
<rect x="802.75" y="501" width="4.5" height="33" fill="#000"/>
<rect x="813.75" y="501" width="4.5" height="33" fill="#000"/>
<line x1="810.5" y1="509.5" x2="810.5" y2="525.5" stroke="#000" stroke-width="1.6" stroke-linecap="butt"/>
<line x1="805" y1="517.5" x2="816" y2="517.5" stroke="#000" stroke-width="1.6" stroke-linecap="butt"/>
<polyline points="810.5,511.5 813.5,514.5 818.5,507.5" stroke="#E0A040" stroke-width="1" fill="none" stroke-linejoin="miter"/>
<line x1="805" y1="517.5" x2="777.5" y2="517.5" stroke="#A01010" stroke-width="2" stroke-linecap="square"/>
<line x1="777.5" y1="517.5" x2="732.5" y2="517.5" stroke="#28A222" stroke-width="2" stroke-linecap="square"/>
<line x1="732.5" y1="517.5" x2="707.5" y2="517.5" stroke="#A01010" stroke-width="2" stroke-linecap="square"/>
<line x1="723.5" y1="517.5" x2="741.5" y2="517.5" stroke="#000" stroke-width="2" stroke-linecap="butt"/>
<line x1="732.5" y1="508.5" x2="732.5" y2="526.5" stroke="#000" stroke-width="2" stroke-linecap="butt"/>
<rect x="705" y="501" width="5" height="33" fill="#000"/>
<text transform="translate(774.47,499.5) scale(0.8798,1)" font-size="23.5" fill="#000" stroke="#000" stroke-width="0.35">C3</text>
<text transform="translate(779,561) scale(0.8530,1)" font-size="23.5" fill="#000" stroke="#000" stroke-width="0.35">22pF</text>
<text transform="translate(791.67,530.2) scale(0.9500,1)" font-size="12" fill="#B02822">1</text>
<text transform="translate(821.81,530.2) scale(0.9500,1)" font-size="12" fill="#B02822">2</text>
<polyline points="1000.5,579.7 1000.5,595.5 843.3,595.5" stroke="#28A222" stroke-width="2" fill="none" stroke-linejoin="miter"/>
<line x1="843.3" y1="595.5" x2="815.5" y2="595.5" stroke="#A01010" stroke-width="2" stroke-linecap="square"/>
<rect x="801.85" y="579" width="4.5" height="33" fill="#000"/>
<rect x="813.25" y="579" width="4.5" height="33" fill="#000"/>
<line x1="809.8" y1="587.5" x2="809.8" y2="603.5" stroke="#000" stroke-width="1.6" stroke-linecap="butt"/>
<line x1="804.1" y1="595.5" x2="815.5" y2="595.5" stroke="#000" stroke-width="1.6" stroke-linecap="butt"/>
<polyline points="809.8,589.5 812.8,592.5 817.8,585.5" stroke="#E0A040" stroke-width="1" fill="none" stroke-linejoin="miter"/>
<line x1="804.1" y1="595.5" x2="776.3" y2="595.5" stroke="#A01010" stroke-width="2" stroke-linecap="square"/>
<line x1="776.3" y1="595.5" x2="731.7" y2="595.5" stroke="#28A222" stroke-width="2" stroke-linecap="square"/>
<line x1="731.7" y1="595.5" x2="707" y2="595.5" stroke="#A01010" stroke-width="2" stroke-linecap="square"/>
<line x1="722.7" y1="595.5" x2="740.7" y2="595.5" stroke="#000" stroke-width="2" stroke-linecap="butt"/>
<line x1="731.7" y1="586.5" x2="731.7" y2="604.5" stroke="#000" stroke-width="2" stroke-linecap="butt"/>
<rect x="704.5" y="579" width="5" height="33" fill="#000"/>
<text transform="translate(773.99,590) scale(0.8617,1)" font-size="23.5" fill="#000" stroke="#000" stroke-width="0.35">C4</text>
<text transform="translate(778.82,639.5) scale(0.8375,1)" font-size="23.5" fill="#000" stroke="#000" stroke-width="0.35">22pF</text>
<text transform="translate(791.27,607.8) scale(0.9500,1)" font-size="12" fill="#B02822">1</text>
<text transform="translate(820.81,607.8) scale(0.9500,1)" font-size="12" fill="#B02822">2</text>
<line x1="916" y1="517.5" x2="916" y2="539.5" stroke="#A01010" stroke-width="2" stroke-linecap="square"/>
<line x1="899" y1="539.5" x2="934" y2="539.5" stroke="#000" stroke-width="2.4" stroke-linecap="butt"/>
<rect x="894" y="546" width="44" height="22" stroke="#000" stroke-width="2" fill="none"/>
<line x1="907" y1="557" x2="925" y2="557" stroke="#000" stroke-width="2.2" stroke-linecap="butt"/>
<line x1="916" y1="548" x2="916" y2="566" stroke="#000" stroke-width="2.2" stroke-linecap="butt"/>
<polyline points="920,550 923,553 928,546" stroke="#E0A040" stroke-width="1" fill="none" stroke-linejoin="miter"/>
<line x1="899" y1="574.5" x2="934" y2="574.5" stroke="#000" stroke-width="2.4" stroke-linecap="butt"/>
<line x1="916" y1="574.5" x2="916" y2="595.5" stroke="#A01010" stroke-width="2" stroke-linecap="square"/>
<text transform="translate(889,594.78) rotate(-90) scale(0.7349,1)" font-size="23.5" fill="#000" stroke="#000" stroke-width="0.35">Q1</text>
<text transform="translate(918.37,535.2) scale(0.9500,1)" font-size="12" fill="#B02822">3</text>
<text transform="translate(918.17,586.7) scale(0.9500,1)" font-size="12" fill="#B02822">1</text>
<line x1="994" y1="618.5" x2="1006" y2="630.5" stroke="#D01010" stroke-width="2.2" stroke-linecap="butt"/>
<line x1="994" y1="630.5" x2="1006" y2="618.5" stroke="#D01010" stroke-width="2.2" stroke-linecap="butt"/>
<line x1="1000" y1="646.8" x2="1000" y2="668.5" stroke="#28A222" stroke-width="2" stroke-linecap="square"/>
<line x1="1000" y1="668.5" x2="961" y2="668.5" stroke="#28A222" stroke-width="2" stroke-linecap="square"/>
<line x1="961" y1="668.5" x2="938" y2="668.5" stroke="#A01010" stroke-width="2" stroke-linecap="square"/>
<line x1="952" y1="668.5" x2="970" y2="668.5" stroke="#000" stroke-width="2" stroke-linecap="butt"/>
<line x1="961" y1="659.5" x2="961" y2="677.5" stroke="#000" stroke-width="2" stroke-linecap="butt"/>
<polygon points="922.4,668.5 938.4,663 938.4,674" stroke="#000" stroke-width="1" fill="#000" stroke-linejoin="miter"/>
<text transform="translate(923.4,658.18) rotate(-90) scale(1.0160,1)" font-size="17" fill="#000" stroke="#000" stroke-width="0.2">+5V</text>
<line x1="1000" y1="785.6" x2="976.6" y2="785.6" stroke="#28A222" stroke-width="2" stroke-linecap="square"/>
<line x1="976.6" y1="785.6" x2="954.9" y2="785.6" stroke="#A01010" stroke-width="2" stroke-linecap="square"/>
<line x1="967.6" y1="785.6" x2="985.6" y2="785.6" stroke="#000" stroke-width="2" stroke-linecap="butt"/>
<line x1="976.6" y1="776.6" x2="976.6" y2="794.6" stroke="#000" stroke-width="2" stroke-linecap="butt"/>
<polygon points="938.6,785.6 954.6,780.1 954.6,791.1" stroke="#000" stroke-width="1" fill="#000" stroke-linejoin="miter"/>
<text transform="translate(938.6,775.8) rotate(-90) scale(1.0495,1)" font-size="17" fill="#000" stroke="#000" stroke-width="0.2">+5V</text>
<line x1="1000" y1="785.6" x2="1000" y2="807.9" stroke="#28A222" stroke-width="2" stroke-linecap="square"/>
<line x1="1000" y1="807.9" x2="937.6" y2="807.9" stroke="#28A222" stroke-width="2" stroke-linecap="square"/>
<line x1="937.6" y1="807.9" x2="937.6" y2="835" stroke="#A01010" stroke-width="2" stroke-linecap="square"/>
<rect x="921.6" y="832.75" width="32" height="4.5" fill="#000"/>
<rect x="921.6" y="843.75" width="32" height="4.5" fill="#000"/>
<line x1="929.6" y1="840.5" x2="945.6" y2="840.5" stroke="#000" stroke-width="1.6" stroke-linecap="butt"/>
<line x1="937.6" y1="835" x2="937.6" y2="846" stroke="#000" stroke-width="1.6" stroke-linecap="butt"/>
<line x1="937.6" y1="846" x2="937.6" y2="873.6" stroke="#A01010" stroke-width="2" stroke-linecap="square"/>
<line x1="937.6" y1="873.6" x2="999.6" y2="873.6" stroke="#28A222" stroke-width="2" stroke-linecap="square"/>
<text transform="translate(922,827.06) rotate(-90) scale(0.9016,1)" font-size="23.5" fill="#000" stroke="#000" stroke-width="0.35">C2</text>
<text transform="translate(983,871.46) rotate(-90) scale(0.8276,1)" font-size="23.5" fill="#000" stroke="#000" stroke-width="0.35">100nF</text>
<text transform="translate(939.81,831.2) scale(0.9500,1)" font-size="12" fill="#B02822">2</text>
<text transform="translate(939.67,861.2) scale(0.9500,1)" font-size="12" fill="#B02822">1</text>
<line x1="999.6" y1="873.6" x2="999.6" y2="941" stroke="#28A222" stroke-width="2" stroke-linecap="square"/>
<line x1="999.6" y1="941" x2="960" y2="941" stroke="#28A222" stroke-width="2" stroke-linecap="square"/>
<line x1="960" y1="941" x2="935" y2="941" stroke="#A01010" stroke-width="2" stroke-linecap="square"/>
<line x1="951" y1="941" x2="969" y2="941" stroke="#000" stroke-width="2" stroke-linecap="butt"/>
<line x1="960" y1="932" x2="960" y2="950" stroke="#000" stroke-width="2" stroke-linecap="butt"/>
<rect x="932.5" y="925" width="5" height="33" fill="#000"/>
<line x1="999.6" y1="985.6" x2="976" y2="985.6" stroke="#28A222" stroke-width="2" stroke-linecap="square"/>
<line x1="976" y1="985.6" x2="953" y2="985.6" stroke="#A01010" stroke-width="2" stroke-linecap="square"/>
<line x1="967" y1="985.6" x2="985" y2="985.6" stroke="#000" stroke-width="2" stroke-linecap="butt"/>
<line x1="976" y1="976.6" x2="976" y2="994.6" stroke="#000" stroke-width="2" stroke-linecap="butt"/>
<polygon points="938,985.6 954,980.1 954,991.1" stroke="#000" stroke-width="1" fill="#000" stroke-linejoin="miter"/>
<text transform="translate(946.23,975) scale(1.0027,1)" font-size="17" fill="#000" stroke="#000" stroke-width="0.2">+5V</text>
<line x1="999.6" y1="1007.4" x2="904.6" y2="1007.4" stroke="#28A222" stroke-width="2" stroke-linecap="square"/>
<line x1="904.6" y1="1007.4" x2="882.7" y2="1007.4" stroke="#A01010" stroke-width="2" stroke-linecap="square"/>
<rect x="837.4" y="996.4" width="45.3" height="22" stroke="#000" stroke-width="2" fill="none"/>
<line x1="851.05" y1="1007.4" x2="869.05" y2="1007.4" stroke="#000" stroke-width="2.6" stroke-linecap="butt"/>
<line x1="860.05" y1="998.4" x2="860.05" y2="1016.4" stroke="#000" stroke-width="2.6" stroke-linecap="butt"/>
<polyline points="863.05,1001.4 866.05,1004.4 871.05,997.4" stroke="#E0A040" stroke-width="1" fill="none" stroke-linejoin="miter"/>
<line x1="837.4" y1="1007.4" x2="816" y2="1007.4" stroke="#A01010" stroke-width="2" stroke-linecap="square"/>
<line x1="816" y1="1007.4" x2="713.6" y2="1007.4" stroke="#28A222" stroke-width="2" stroke-linecap="square"/>
<line x1="713.6" y1="1007.4" x2="704.2" y2="1007.4" stroke="#A01010" stroke-width="2" stroke-linecap="square"/>
<text transform="translate(864.83,990) scale(0.8363,1)" font-size="23.5" fill="#000" stroke="#000" stroke-width="0.35">R1</text>
<text transform="translate(836.98,1041) scale(0.8678,1)" font-size="23.5" fill="#000" stroke="#000" stroke-width="0.35">22</text>
<text transform="translate(826.17,1016.7) scale(0.9500,1)" font-size="12" fill="#B02822">1</text>
<text transform="translate(883.71,1016.7) scale(0.9500,1)" font-size="12" fill="#B02822">2</text>
<line x1="999.6" y1="1030.8" x2="981.9" y2="1030.8" stroke="#28A222" stroke-width="2" stroke-linecap="square"/>
<line x1="981.9" y1="1030.8" x2="960.4" y2="1030.8" stroke="#A01010" stroke-width="2" stroke-linecap="square"/>
<rect x="915" y="1019.55" width="45.4" height="22.5" stroke="#000" stroke-width="2" fill="none"/>
<line x1="928.7" y1="1030.8" x2="946.7" y2="1030.8" stroke="#000" stroke-width="2.6" stroke-linecap="butt"/>
<line x1="937.7" y1="1021.8" x2="937.7" y2="1039.8" stroke="#000" stroke-width="2.6" stroke-linecap="butt"/>
<polyline points="940.7,1024.8 943.7,1027.8 948.7,1020.8" stroke="#E0A040" stroke-width="1" fill="none" stroke-linejoin="miter"/>
<line x1="915" y1="1030.8" x2="893" y2="1030.8" stroke="#A01010" stroke-width="2" stroke-linecap="square"/>
<line x1="893" y1="1030.8" x2="713.6" y2="1030.8" stroke="#28A222" stroke-width="2" stroke-linecap="square"/>
<line x1="713.6" y1="1030.8" x2="704.2" y2="1030.8" stroke="#A01010" stroke-width="2" stroke-linecap="square"/>
<text transform="translate(914.33,1013) scale(0.8881,1)" font-size="23.5" fill="#000" stroke="#000" stroke-width="0.35">R2</text>
<text transform="translate(915.54,1063) scale(0.8175,1)" font-size="23.5" fill="#000" stroke="#000" stroke-width="0.35">22</text>
<text transform="translate(904.67,1040.2) scale(0.9500,1)" font-size="12" fill="#B02822">1</text>
<text transform="translate(961.81,1040.2) scale(0.9500,1)" font-size="12" fill="#B02822">2</text>
<line x1="999.6" y1="1053.2" x2="820" y2="1053.2" stroke="#28A222" stroke-width="2" stroke-linecap="square"/>
<line x1="820" y1="1053.2" x2="795" y2="1053.2" stroke="#A01010" stroke-width="2" stroke-linecap="square"/>
<line x1="811" y1="1053.2" x2="829" y2="1053.2" stroke="#000" stroke-width="2" stroke-linecap="butt"/>
<line x1="820" y1="1044.2" x2="820" y2="1062.2" stroke="#000" stroke-width="2" stroke-linecap="butt"/>
<rect x="792.5" y="1036.5" width="5" height="33" fill="#000"/>
<line x1="820" y1="1053.2" x2="820" y2="1074.7" stroke="#28A222" stroke-width="2" stroke-linecap="square"/>
<line x1="820" y1="1074.7" x2="847.2" y2="1074.7" stroke="#A01010" stroke-width="2" stroke-linecap="square"/>
<rect x="844.95" y="1059" width="4.5" height="32.4" fill="#000"/>
<rect x="857.45" y="1059" width="4.5" height="32.4" fill="#000"/>
<line x1="853.45" y1="1067.2" x2="853.45" y2="1083.2" stroke="#000" stroke-width="1.6" stroke-linecap="butt"/>
<line x1="847.2" y1="1075.2" x2="859.7" y2="1075.2" stroke="#000" stroke-width="1.6" stroke-linecap="butt"/>
<polyline points="853.45,1069.2 856.45,1072.2 861.45,1065.2" stroke="#E0A040" stroke-width="1" fill="none" stroke-linejoin="miter"/>
<line x1="859.7" y1="1074.7" x2="887" y2="1074.7" stroke="#A01010" stroke-width="2" stroke-linecap="square"/>
<line x1="887" y1="1074.7" x2="999.6" y2="1074.7" stroke="#28A222" stroke-width="2" stroke-linecap="square"/>
<text transform="translate(823.86,1119) scale(0.8151,1)" font-size="23.5" fill="#000" stroke="#000" stroke-width="0.35">100nF</text>
<text transform="translate(883.78,1101.8) scale(0.8655,1)" font-size="23.5" fill="#000" stroke="#000" stroke-width="0.35">C1</text>
<text transform="translate(834.47,1088.2) scale(0.9500,1)" font-size="12" fill="#B02822">1</text>
<text transform="translate(864.81,1088.2) scale(0.9500,1)" font-size="12" fill="#B02822">2</text>
<line x1="999.6" y1="1097.6" x2="937.4" y2="1097.6" stroke="#28A222" stroke-width="2" stroke-linecap="square"/>
<line x1="937.4" y1="1097.6" x2="914" y2="1097.6" stroke="#A01010" stroke-width="2" stroke-linecap="square"/>
<line x1="928.4" y1="1097.6" x2="946.4" y2="1097.6" stroke="#000" stroke-width="2" stroke-linecap="butt"/>
<line x1="937.4" y1="1088.6" x2="937.4" y2="1106.6" stroke="#000" stroke-width="2" stroke-linecap="butt"/>
<polygon points="900.5,1097.6 916.5,1092.1 916.5,1103.1" stroke="#000" stroke-width="1" fill="#000" stroke-linejoin="miter"/>
<text transform="translate(911.26,1119.5) scale(0.9693,1)" font-size="17" fill="#000" stroke="#000" stroke-width="0.2">+5V</text>
<text transform="translate(1278.55,474.5) scale(0.9800,1)" font-size="18.5" fill="#000" stroke="#000" stroke-width="0.2">PB7</text>
<text transform="translate(1319.64,480.5) scale(0.9500,1)" font-size="12" fill="#B02822">12</text>
<line x1="1318" y1="468" x2="1362" y2="468" stroke="#A01010" stroke-width="2" stroke-linecap="square"/>
<text transform="translate(1278.46,496.5) scale(0.9800,1)" font-size="18.5" fill="#000" stroke="#000" stroke-width="0.2">PB6</text>
<text transform="translate(1320.1,502.5) scale(0.9500,1)" font-size="12" fill="#B02822">30</text>
<line x1="1318" y1="490" x2="1362" y2="490" stroke="#A01010" stroke-width="2" stroke-linecap="square"/>
<text transform="translate(1278.46,519.1) scale(0.9800,1)" font-size="18.5" fill="#000" stroke="#000" stroke-width="0.2">PB5</text>
<text transform="translate(1319.93,525.1) scale(0.9500,1)" font-size="12" fill="#B02822">29</text>
<line x1="1318" y1="512.6" x2="1362" y2="512.6" stroke="#A01010" stroke-width="2" stroke-linecap="square"/>
<text transform="translate(1278.19,541.2) scale(0.9800,1)" font-size="18.5" fill="#000" stroke="#000" stroke-width="0.2">PB4</text>
<text transform="translate(1319.93,547.2) scale(0.9500,1)" font-size="12" fill="#B02822">28</text>
<line x1="1318" y1="534.7" x2="1362" y2="534.7" stroke="#A01010" stroke-width="2" stroke-linecap="square"/>
<text transform="translate(1278.46,563.5) scale(0.9800,1)" font-size="18.5" fill="#000" stroke="#000" stroke-width="0.2">PB3</text>
<text transform="translate(1319.64,569.5) scale(0.9500,1)" font-size="12" fill="#B02822">11</text>
<line x1="1318" y1="557" x2="1362" y2="557" stroke="#A01010" stroke-width="2" stroke-linecap="square"/>
<text transform="translate(1278.55,586.5) scale(0.9800,1)" font-size="18.5" fill="#000" stroke="#000" stroke-width="0.2">PB2</text>
<text transform="translate(1319.64,592.5) scale(0.9500,1)" font-size="12" fill="#B02822">10</text>
<line x1="1318" y1="580" x2="1362" y2="580" stroke="#A01010" stroke-width="2" stroke-linecap="square"/>
<text transform="translate(1278.55,608.8) scale(0.9800,1)" font-size="18.5" fill="#000" stroke="#000" stroke-width="0.2">PB1</text>
<text transform="translate(1319.99,614.8) scale(0.9500,1)" font-size="12" fill="#B02822">9</text>
<line x1="1318" y1="602.3" x2="1362" y2="602.3" stroke="#A01010" stroke-width="2" stroke-linecap="square"/>
<text transform="translate(1278.37,630.5) scale(0.9800,1)" font-size="18.5" fill="#000" stroke="#000" stroke-width="0.2">PB0</text>
<text transform="translate(1320.04,636.5) scale(0.9500,1)" font-size="12" fill="#B02822">8</text>
<line x1="1318" y1="624" x2="1362" y2="624" stroke="#A01010" stroke-width="2" stroke-linecap="square"/>
<text transform="translate(1277.55,675.3) scale(0.9800,1)" font-size="18.5" fill="#000" stroke="#000" stroke-width="0.2">PC7</text>
<text transform="translate(1320.1,681.3) scale(0.9500,1)" font-size="12" fill="#B02822">32</text>
<line x1="1318" y1="668.8" x2="1362" y2="668.8" stroke="#A01010" stroke-width="2" stroke-linecap="square"/>
<text transform="translate(1277.46,697.9) scale(0.9800,1)" font-size="18.5" fill="#000" stroke="#000" stroke-width="0.2">PC6</text>
<text transform="translate(1320.1,703.9) scale(0.9500,1)" font-size="12" fill="#B02822">31</text>
<line x1="1318" y1="691.4" x2="1362" y2="691.4" stroke="#A01010" stroke-width="2" stroke-linecap="square"/>
<text transform="translate(1277.55,742.5) scale(0.9800,1)" font-size="18.5" fill="#000" stroke="#000" stroke-width="0.2">PD7</text>
<text transform="translate(1319.93,748.5) scale(0.9500,1)" font-size="12" fill="#B02822">27</text>
<line x1="1318" y1="736" x2="1362" y2="736" stroke="#A01010" stroke-width="2" stroke-linecap="square"/>
<text transform="translate(1277.46,764.8) scale(0.9800,1)" font-size="18.5" fill="#000" stroke="#000" stroke-width="0.2">PD6</text>
<text transform="translate(1319.93,770.8) scale(0.9500,1)" font-size="12" fill="#B02822">26</text>
<line x1="1318" y1="758.3" x2="1362" y2="758.3" stroke="#A01010" stroke-width="2" stroke-linecap="square"/>
<text transform="translate(1277.46,786.2) scale(0.9800,1)" font-size="18.5" fill="#000" stroke="#000" stroke-width="0.2">PD5</text>
<text transform="translate(1319.93,792.2) scale(0.9500,1)" font-size="12" fill="#B02822">22</text>
<line x1="1318" y1="779.7" x2="1362" y2="779.7" stroke="#A01010" stroke-width="2" stroke-linecap="square"/>
<text transform="translate(1277.19,809.4) scale(0.9800,1)" font-size="18.5" fill="#000" stroke="#000" stroke-width="0.2">PD4</text>
<text transform="translate(1319.93,815.4) scale(0.9500,1)" font-size="12" fill="#B02822">25</text>
<line x1="1318" y1="802.9" x2="1362" y2="802.9" stroke="#A01010" stroke-width="2" stroke-linecap="square"/>
<text transform="translate(1277.46,830.7) scale(0.9800,1)" font-size="18.5" fill="#000" stroke="#000" stroke-width="0.2">PD3</text>
<text transform="translate(1319.93,836.7) scale(0.9500,1)" font-size="12" fill="#B02822">21</text>
<line x1="1318" y1="824.2" x2="1362" y2="824.2" stroke="#A01010" stroke-width="2" stroke-linecap="square"/>
<text transform="translate(1277.55,853) scale(0.9800,1)" font-size="18.5" fill="#000" stroke="#000" stroke-width="0.2">PD2</text>
<text transform="translate(1319.93,859) scale(0.9500,1)" font-size="12" fill="#B02822">20</text>
<line x1="1318" y1="846.5" x2="1362" y2="846.5" stroke="#A01010" stroke-width="2" stroke-linecap="square"/>
<text transform="translate(1277.55,875.8) scale(0.9800,1)" font-size="18.5" fill="#000" stroke="#000" stroke-width="0.2">PD1</text>
<text transform="translate(1319.64,881.8) scale(0.9500,1)" font-size="12" fill="#B02822">19</text>
<line x1="1318" y1="869.3" x2="1362" y2="869.3" stroke="#A01010" stroke-width="2" stroke-linecap="square"/>
<text transform="translate(1277.37,897.6) scale(0.9800,1)" font-size="18.5" fill="#000" stroke="#000" stroke-width="0.2">PD0</text>
<text transform="translate(1319.64,903.6) scale(0.9500,1)" font-size="12" fill="#B02822">18</text>
<line x1="1318" y1="891.1" x2="1362" y2="891.1" stroke="#A01010" stroke-width="2" stroke-linecap="square"/>
<text transform="translate(1278.46,942.5) scale(0.9800,1)" font-size="18.5" fill="#000" stroke="#000" stroke-width="0.2">PE6</text>
<text transform="translate(1319.64,948.5) scale(0.9500,1)" font-size="12" fill="#B02822">1</text>
<line x1="1318" y1="936" x2="1362" y2="936" stroke="#A01010" stroke-width="2" stroke-linecap="square"/>
<text transform="translate(1278.55,965) scale(0.9800,1)" font-size="18.5" fill="#000" stroke="#000" stroke-width="0.2">PE2</text>
<text transform="translate(1320.1,971) scale(0.9500,1)" font-size="12" fill="#B02822">33</text>
<line x1="1318" y1="958.5" x2="1362" y2="958.5" stroke="#A01010" stroke-width="2" stroke-linecap="square"/>
<text transform="translate(1279.55,1009.6) scale(0.9800,1)" font-size="18.5" fill="#000" stroke="#000" stroke-width="0.2">PF7</text>
<text transform="translate(1320.1,1015.6) scale(0.9500,1)" font-size="12" fill="#B02822">36</text>
<line x1="1318" y1="1003.1" x2="1362" y2="1003.1" stroke="#A01010" stroke-width="2" stroke-linecap="square"/>
<text transform="translate(1279.46,1032.1) scale(0.9800,1)" font-size="18.5" fill="#000" stroke="#000" stroke-width="0.2">PF6</text>
<text transform="translate(1320.1,1038.1) scale(0.9500,1)" font-size="12" fill="#B02822">37</text>
<line x1="1318" y1="1025.6" x2="1362" y2="1025.6" stroke="#A01010" stroke-width="2" stroke-linecap="square"/>
<text transform="translate(1279.46,1054.4) scale(0.9800,1)" font-size="18.5" fill="#000" stroke="#000" stroke-width="0.2">PF5</text>
<text transform="translate(1320.1,1060.4) scale(0.9500,1)" font-size="12" fill="#B02822">38</text>
<line x1="1318" y1="1047.9" x2="1362" y2="1047.9" stroke="#A01010" stroke-width="2" stroke-linecap="square"/>
<text transform="translate(1279.18,1076.9) scale(0.9800,1)" font-size="18.5" fill="#000" stroke="#000" stroke-width="0.2">PF4</text>
<text transform="translate(1320.1,1082.9) scale(0.9500,1)" font-size="12" fill="#B02822">39</text>
<line x1="1318" y1="1070.4" x2="1362" y2="1070.4" stroke="#A01010" stroke-width="2" stroke-linecap="square"/>
<text transform="translate(1279.55,1099.2) scale(0.9800,1)" font-size="18.5" fill="#000" stroke="#000" stroke-width="0.2">PF1</text>
<text transform="translate(1320.27,1105.2) scale(0.9500,1)" font-size="12" fill="#B02822">40</text>
<line x1="1318" y1="1092.7" x2="1362" y2="1092.7" stroke="#A01010" stroke-width="2" stroke-linecap="square"/>
<text transform="translate(1279.37,1121.2) scale(0.9800,1)" font-size="18.5" fill="#000" stroke="#000" stroke-width="0.2">PF0</text>
<text transform="translate(1320.27,1127.2) scale(0.9500,1)" font-size="12" fill="#B02822">41</text>
<line x1="1318" y1="1114.7" x2="1362" y2="1114.7" stroke="#A01010" stroke-width="2" stroke-linecap="square"/>
<line x1="1362" y1="468" x2="1384.7" y2="468" stroke="#28A222" stroke-width="2" stroke-linecap="square"/>
<line x1="1384.7" y1="468" x2="1406" y2="468" stroke="#A01010" stroke-width="2" stroke-linecap="square"/>
<line x1="1375.7" y1="468" x2="1393.7" y2="468" stroke="#000" stroke-width="2" stroke-linecap="butt"/>
<line x1="1384.7" y1="459" x2="1384.7" y2="477" stroke="#000" stroke-width="2" stroke-linecap="butt"/>
<polygon points="1406,457.2 1498,457.2 1508.5,467.85 1498,478.5 1406,478.5" stroke="#000" stroke-width="2" fill="none" stroke-linejoin="miter"/>
<text transform="translate(1410.13,474.5) scale(1.0196,1)" font-size="18" fill="#000" stroke="#000" stroke-width="0.2">LED_HR</text>
<line x1="1362" y1="490" x2="1384.7" y2="490" stroke="#28A222" stroke-width="2" stroke-linecap="square"/>
<line x1="1384.7" y1="490" x2="1406" y2="490" stroke="#A01010" stroke-width="2" stroke-linecap="square"/>
<line x1="1375.7" y1="490" x2="1393.7" y2="490" stroke="#000" stroke-width="2" stroke-linecap="butt"/>
<line x1="1384.7" y1="481" x2="1384.7" y2="499" stroke="#000" stroke-width="2" stroke-linecap="butt"/>
<polygon points="1406,478.5 1498,478.5 1508.5,489.7 1498,500.9 1406,500.9" stroke="#000" stroke-width="2" fill="none" stroke-linejoin="miter"/>
<text transform="translate(1410.19,496.5) scale(0.9759,1)" font-size="18" fill="#000" stroke="#000" stroke-width="0.2">LED_VL</text>
<line x1="1362" y1="512.6" x2="1384.7" y2="512.6" stroke="#28A222" stroke-width="2" stroke-linecap="square"/>
<line x1="1384.7" y1="512.6" x2="1406" y2="512.6" stroke="#A01010" stroke-width="2" stroke-linecap="square"/>
<line x1="1375.7" y1="512.6" x2="1393.7" y2="512.6" stroke="#000" stroke-width="3.2" stroke-linecap="butt"/>
<line x1="1384.7" y1="503.6" x2="1384.7" y2="521.6" stroke="#000" stroke-width="3.2" stroke-linecap="butt"/>
<polygon points="1406,500.9 1498,500.9 1508.5,512.25 1498,523.6 1406,523.6" stroke="#000" stroke-width="2" fill="none" stroke-linejoin="miter"/>
<text transform="translate(1410.11,519.1) scale(1.0345,1)" font-size="18" fill="#000" stroke="#000" stroke-width="0.2">LED_VR</text>
<line x1="1362" y1="534.7" x2="1389.8" y2="534.7" stroke="#28A222" stroke-width="2" stroke-linecap="square"/>
<line x1="1389.8" y1="534.7" x2="1414.2" y2="534.7" stroke="#A01010" stroke-width="2" stroke-linecap="square"/>
<line x1="1380.8" y1="534.7" x2="1398.8" y2="534.7" stroke="#000" stroke-width="2" stroke-linecap="butt"/>
<line x1="1389.8" y1="525.7" x2="1389.8" y2="543.7" stroke="#000" stroke-width="2" stroke-linecap="butt"/>
<polygon points="1414.2,534.75 1424.7,523.6 1513.1,523.6 1513.1,545.9 1424.7,545.9" stroke="#000" stroke-width="2" fill="none" stroke-linejoin="miter"/>
<text transform="translate(1423.11,540.4) scale(0.9910,1)" font-size="18" fill="#000" stroke="#000" stroke-width="0.2">CE2</text>
<line x1="1362" y1="557" x2="1407" y2="557" stroke="#28A222" stroke-width="2" stroke-linecap="square"/>
<line x1="1407" y1="557" x2="1428.4" y2="557" stroke="#A01010" stroke-width="2" stroke-linecap="square"/>
<line x1="1398" y1="557" x2="1416" y2="557" stroke="#000" stroke-width="2" stroke-linecap="butt"/>
<line x1="1407" y1="548" x2="1407" y2="566" stroke="#000" stroke-width="2" stroke-linecap="butt"/>
<polygon points="1428.4,545.9 1519.9,545.9 1530.4,557.05 1519.9,568.2 1428.4,568.2" stroke="#000" stroke-width="2" fill="none" stroke-linejoin="miter"/>
<text transform="translate(1433.38,563.3) scale(0.9877,1)" font-size="18" fill="#000" stroke="#000" stroke-width="0.2">MISO</text>
<line x1="1362" y1="580" x2="1407" y2="580" stroke="#28A222" stroke-width="2" stroke-linecap="square"/>
<line x1="1407" y1="580" x2="1430" y2="580" stroke="#A01010" stroke-width="2" stroke-linecap="square"/>
<line x1="1398" y1="580" x2="1416" y2="580" stroke="#000" stroke-width="3.2" stroke-linecap="butt"/>
<line x1="1407" y1="571" x2="1407" y2="589" stroke="#000" stroke-width="3.2" stroke-linecap="butt"/>
<polygon points="1430,579.65 1440.5,568.2 1530.4,568.2 1530.4,591.1 1440.5,591.1" stroke="#000" stroke-width="2" fill="none" stroke-linejoin="miter"/>
<text transform="translate(1438.56,585.6) scale(0.9995,1)" font-size="18" fill="#000" stroke="#000" stroke-width="0.2">MOSI</text>
<line x1="1362" y1="602.3" x2="1407" y2="602.3" stroke="#28A222" stroke-width="2" stroke-linecap="square"/>
<line x1="1407" y1="602.3" x2="1430" y2="602.3" stroke="#A01010" stroke-width="2" stroke-linecap="square"/>
<line x1="1398" y1="602.3" x2="1416" y2="602.3" stroke="#000" stroke-width="2" stroke-linecap="butt"/>
<line x1="1407" y1="593.3" x2="1407" y2="611.3" stroke="#000" stroke-width="2" stroke-linecap="butt"/>
<polygon points="1430,602.25 1440.5,591.1 1530.4,591.1 1530.4,613.4 1440.5,613.4" stroke="#000" stroke-width="2" fill="none" stroke-linejoin="miter"/>
<text transform="translate(1438.69,608) scale(0.9947,1)" font-size="18" fill="#000" stroke="#000" stroke-width="0.2">SCK</text>
<line x1="1356.4" y1="618" x2="1368.4" y2="630" stroke="#D01010" stroke-width="2.2" stroke-linecap="butt"/>
<line x1="1356.4" y1="630" x2="1368.4" y2="618" stroke="#D01010" stroke-width="2.2" stroke-linecap="butt"/>
<line x1="1362" y1="668.8" x2="1389.8" y2="668.8" stroke="#28A222" stroke-width="2" stroke-linecap="square"/>
<line x1="1389.8" y1="668.8" x2="1412" y2="668.8" stroke="#A01010" stroke-width="2" stroke-linecap="square"/>
<line x1="1380.8" y1="668.8" x2="1398.8" y2="668.8" stroke="#000" stroke-width="2" stroke-linecap="butt"/>
<line x1="1389.8" y1="659.8" x2="1389.8" y2="677.8" stroke="#000" stroke-width="2" stroke-linecap="butt"/>
<polygon points="1412,658.7 1502.6,658.7 1513.1,669.35 1502.6,680 1412,680" stroke="#000" stroke-width="2" fill="none" stroke-linejoin="miter"/>
<text transform="translate(1415.63,675.3) scale(0.9537,1)" font-size="18" fill="#000" stroke="#000" stroke-width="0.2">LED_HL</text>
<line x1="1362" y1="691.4" x2="1389.9" y2="691.4" stroke="#28A222" stroke-width="2" stroke-linecap="square"/>
<line x1="1389.9" y1="691.4" x2="1412.4" y2="691.4" stroke="#A01010" stroke-width="2" stroke-linecap="square"/>
<line x1="1380.9" y1="691.4" x2="1398.9" y2="691.4" stroke="#000" stroke-width="2" stroke-linecap="butt"/>
<line x1="1389.9" y1="682.4" x2="1389.9" y2="700.4" stroke="#000" stroke-width="2" stroke-linecap="butt"/>
<polygon points="1412.4,680 1502.5,680 1513,691.2 1502.5,702.4 1412.4,702.4" stroke="#000" stroke-width="2" fill="none" stroke-linejoin="miter"/>
<text transform="translate(1417,697.5) scale(0.9793,1)" font-size="18" fill="#000" stroke="#000" stroke-width="0.2">APWM</text>
<line x1="1362" y1="736" x2="1389.9" y2="736" stroke="#28A222" stroke-width="2" stroke-linecap="square"/>
<line x1="1389.9" y1="736" x2="1412.4" y2="736" stroke="#A01010" stroke-width="2" stroke-linecap="square"/>
<line x1="1380.9" y1="736" x2="1398.9" y2="736" stroke="#000" stroke-width="2" stroke-linecap="butt"/>
<line x1="1389.9" y1="727" x2="1389.9" y2="745" stroke="#000" stroke-width="2" stroke-linecap="butt"/>
<polygon points="1412.4,725.7 1503.1,725.7 1513.6,736.15 1503.1,746.6 1412.4,746.6" stroke="#000" stroke-width="2" fill="none" stroke-linejoin="miter"/>
<text transform="translate(1416.02,741.8) scale(1.0246,1)" font-size="18" fill="#000" stroke="#000" stroke-width="0.2">BPWM</text>
<line x1="1362" y1="758.3" x2="1389.9" y2="758.3" stroke="#28A222" stroke-width="2" stroke-linecap="square"/>
<line x1="1389.9" y1="758.3" x2="1413.6" y2="758.3" stroke="#A01010" stroke-width="2" stroke-linecap="square"/>
<line x1="1380.9" y1="758.3" x2="1398.9" y2="758.3" stroke="#000" stroke-width="2" stroke-linecap="butt"/>
<line x1="1389.9" y1="749.3" x2="1389.9" y2="767.3" stroke="#000" stroke-width="2" stroke-linecap="butt"/>
<polygon points="1413.6,758.2 1424.1,746.6 1513,746.6 1513,769.8 1424.1,769.8" stroke="#000" stroke-width="2" fill="none" stroke-linejoin="miter"/>
<text transform="translate(1423.01,764.6) scale(0.9913,1)" font-size="18" fill="#000" stroke="#000" stroke-width="0.2">CE3</text>
<line x1="1354" y1="775" x2="1366" y2="787" stroke="#D01010" stroke-width="2.2" stroke-linecap="butt"/>
<line x1="1354" y1="787" x2="1366" y2="775" stroke="#D01010" stroke-width="2.2" stroke-linecap="butt"/>
<line x1="1362" y1="802.9" x2="1417.5" y2="802.9" stroke="#28A222" stroke-width="2" stroke-linecap="square"/>
<line x1="1417.5" y1="802.9" x2="1440.5" y2="802.9" stroke="#A01010" stroke-width="2" stroke-linecap="square"/>
<line x1="1408.5" y1="802.9" x2="1426.5" y2="802.9" stroke="#000" stroke-width="2" stroke-linecap="butt"/>
<line x1="1417.5" y1="793.9" x2="1417.5" y2="811.9" stroke="#000" stroke-width="2" stroke-linecap="butt"/>
<polygon points="1440.5,792.6 1530.9,792.6 1541.4,803.05 1530.9,813.5 1440.5,813.5" stroke="#000" stroke-width="2" fill="none" stroke-linejoin="miter"/>
<text transform="translate(1444.25,808.7) scale(1.0076,1)" font-size="18" fill="#000" stroke="#000" stroke-width="0.2">BPhase</text>
<line x1="1362" y1="824.2" x2="1473.6" y2="824.2" stroke="#28A222" stroke-width="2" stroke-linecap="square"/>
<line x1="1473.6" y1="824.2" x2="1495.4" y2="824.2" stroke="#A01010" stroke-width="2" stroke-linecap="square"/>
<line x1="1464.6" y1="824.2" x2="1482.6" y2="824.2" stroke="#000" stroke-width="2" stroke-linecap="butt"/>
<line x1="1473.6" y1="815.2" x2="1473.6" y2="833.2" stroke="#000" stroke-width="2" stroke-linecap="butt"/>
<polygon points="1495.4,814.9 1586.7,814.9 1597.2,825.2 1586.7,835.5 1495.4,835.5" stroke="#000" stroke-width="2" fill="none" stroke-linejoin="miter"/>
<text transform="translate(1501,830.7) scale(0.9794,1)" font-size="18" fill="#000" stroke="#000" stroke-width="0.2">APhase</text>
<line x1="1362" y1="846.5" x2="1405.8" y2="846.5" stroke="#28A222" stroke-width="2" stroke-linecap="square"/>
<line x1="1405.8" y1="846.5" x2="1412.4" y2="846.5" stroke="#A01010" stroke-width="2" stroke-linecap="square"/>
<rect x="1412.4" y="835.3" width="44.6" height="22.4" stroke="#000" stroke-width="2" fill="none"/>
<line x1="1425.7" y1="846.5" x2="1443.7" y2="846.5" stroke="#000" stroke-width="2.6" stroke-linecap="butt"/>
<line x1="1434.7" y1="837.5" x2="1434.7" y2="855.5" stroke="#000" stroke-width="2.6" stroke-linecap="butt"/>
<polyline points="1437.7,840.5 1440.7,843.5 1445.7,836.5" stroke="#E0A040" stroke-width="1" fill="none" stroke-linejoin="miter"/>
<line x1="1457" y1="846.5" x2="1479.6" y2="846.5" stroke="#A01010" stroke-width="2" stroke-linecap="square"/>
<line x1="1479.6" y1="846.5" x2="1507" y2="846.5" stroke="#28A222" stroke-width="2" stroke-linecap="square"/>
<line x1="1507" y1="846.5" x2="1529.4" y2="846.5" stroke="#A01010" stroke-width="2" stroke-linecap="square"/>
<line x1="1498" y1="846.5" x2="1516" y2="846.5" stroke="#000" stroke-width="3.2" stroke-linecap="butt"/>
<line x1="1507" y1="837.5" x2="1507" y2="855.5" stroke="#000" stroke-width="3.2" stroke-linecap="butt"/>
<polygon points="1545.7,846.5 1529.7,841 1529.7,852" stroke="#000" stroke-width="1" fill="#000" stroke-linejoin="miter"/>
<text transform="translate(1552.6,852.1) scale(0.9101,1)" font-size="18" fill="#000" stroke="#000" stroke-width="0.2">Vin1</text>
<text transform="translate(1411.94,829.3) scale(0.8842,1)" font-size="23.5" fill="#000" stroke="#000" stroke-width="0.35">R6</text>
<text transform="translate(1373.12,851.3) scale(0.8362,1)" font-size="23.5" fill="#000" stroke="#000" stroke-width="0.35">68K</text>
<text transform="translate(1402.17,857.2) scale(0.9500,1)" font-size="12" fill="#B02822">1</text>
<text transform="translate(1459.61,857.2) scale(0.9500,1)" font-size="12" fill="#B02822">2</text>
<line x1="1362" y1="869.3" x2="1468.5" y2="869.3" stroke="#28A222" stroke-width="2" stroke-linecap="square"/>
<line x1="1468.5" y1="869.3" x2="1490.8" y2="869.3" stroke="#A01010" stroke-width="2" stroke-linecap="square"/>
<line x1="1459.5" y1="869.3" x2="1477.5" y2="869.3" stroke="#000" stroke-width="2" stroke-linecap="butt"/>
<line x1="1468.5" y1="860.3" x2="1468.5" y2="878.3" stroke="#000" stroke-width="2" stroke-linecap="butt"/>
<polygon points="1490.8,869.75 1501.3,859 1591.8,859 1602.3,869.75 1591.8,880.5 1501.3,880.5" stroke="#000" stroke-width="2" fill="none" stroke-linejoin="miter"/>
<text transform="translate(1500.2,875) scale(0.9840,1)" font-size="18" fill="#000" stroke="#000" stroke-width="0.2">SDA</text>
<line x1="1362" y1="891.1" x2="1384.4" y2="891.1" stroke="#28A222" stroke-width="2" stroke-linecap="square"/>
<line x1="1384.4" y1="891.1" x2="1406.2" y2="891.1" stroke="#A01010" stroke-width="2" stroke-linecap="square"/>
<line x1="1375.4" y1="891.1" x2="1393.4" y2="891.1" stroke="#000" stroke-width="2" stroke-linecap="butt"/>
<line x1="1384.4" y1="882.1" x2="1384.4" y2="900.1" stroke="#000" stroke-width="2" stroke-linecap="butt"/>
<polygon points="1406.2,880.8 1497.5,880.8 1508,891.8 1497.5,902.8 1406.2,902.8" stroke="#000" stroke-width="2" fill="none" stroke-linejoin="miter"/>
<text transform="translate(1410.49,898) scale(1.0012,1)" font-size="18" fill="#000" stroke="#000" stroke-width="0.2">SCL</text>
<line x1="1362" y1="936" x2="1384.3" y2="936" stroke="#28A222" stroke-width="2" stroke-linecap="square"/>
<line x1="1384.3" y1="936" x2="1407.5" y2="936" stroke="#A01010" stroke-width="2" stroke-linecap="square"/>
<line x1="1375.3" y1="936" x2="1393.3" y2="936" stroke="#000" stroke-width="2" stroke-linecap="butt"/>
<line x1="1384.3" y1="927" x2="1384.3" y2="945" stroke="#000" stroke-width="2" stroke-linecap="butt"/>
<polygon points="1407.5,936.7 1418,925.8 1508,925.8 1508,947.6 1418,947.6" stroke="#000" stroke-width="2" fill="none" stroke-linejoin="miter"/>
<text transform="translate(1416.64,942) scale(0.9580,1)" font-size="18" fill="#000" stroke="#000" stroke-width="0.2">CE1</text>
<line x1="1355.6" y1="952.5" x2="1367.6" y2="964.5" stroke="#D01010" stroke-width="2.2" stroke-linecap="butt"/>
<line x1="1355.6" y1="964.5" x2="1367.6" y2="952.5" stroke="#D01010" stroke-width="2.2" stroke-linecap="butt"/>
<line x1="1355.6" y1="997.1" x2="1367.6" y2="1009.1" stroke="#D01010" stroke-width="2.2" stroke-linecap="butt"/>
<line x1="1355.6" y1="1009.1" x2="1367.6" y2="997.1" stroke="#D01010" stroke-width="2.2" stroke-linecap="butt"/>
<line x1="1355.6" y1="1019.6" x2="1367.6" y2="1031.6" stroke="#D01010" stroke-width="2.2" stroke-linecap="butt"/>
<line x1="1355.6" y1="1031.6" x2="1367.6" y2="1019.6" stroke="#D01010" stroke-width="2.2" stroke-linecap="butt"/>
<line x1="1355.6" y1="1041.9" x2="1367.6" y2="1053.9" stroke="#D01010" stroke-width="2.2" stroke-linecap="butt"/>
<line x1="1355.6" y1="1053.9" x2="1367.6" y2="1041.9" stroke="#D01010" stroke-width="2.2" stroke-linecap="butt"/>
<line x1="1355.6" y1="1064.4" x2="1367.6" y2="1076.4" stroke="#D01010" stroke-width="2.2" stroke-linecap="butt"/>
<line x1="1355.6" y1="1076.4" x2="1367.6" y2="1064.4" stroke="#D01010" stroke-width="2.2" stroke-linecap="butt"/>
<line x1="1355.6" y1="1086.7" x2="1367.6" y2="1098.7" stroke="#D01010" stroke-width="2.2" stroke-linecap="butt"/>
<line x1="1355.6" y1="1098.7" x2="1367.6" y2="1086.7" stroke="#D01010" stroke-width="2.2" stroke-linecap="butt"/>
<line x1="1362" y1="1114.7" x2="1384.3" y2="1114.7" stroke="#28A222" stroke-width="2" stroke-linecap="square"/>
<line x1="1384.3" y1="1114.7" x2="1407.5" y2="1114.7" stroke="#A01010" stroke-width="2" stroke-linecap="square"/>
<line x1="1375.3" y1="1114.7" x2="1393.3" y2="1114.7" stroke="#000" stroke-width="2" stroke-linecap="butt"/>
<line x1="1384.3" y1="1105.7" x2="1384.3" y2="1123.7" stroke="#000" stroke-width="2" stroke-linecap="butt"/>
<polygon points="1407.5,1115.15 1418,1104.2 1508,1104.2 1508,1126.1 1418,1126.1" stroke="#000" stroke-width="2" fill="none" stroke-linejoin="miter"/>
<text transform="translate(1416.63,1120.7) scale(0.9655,1)" font-size="18" fill="#000" stroke="#000" stroke-width="0.2">CE4</text>
<rect x="682" y="445" width="23" height="22.5" stroke="#000" stroke-width="2" fill="none"/>
<line x1="685" y1="456" x2="703" y2="456" stroke="#000" stroke-width="2.2" stroke-linecap="butt"/>
<line x1="694" y1="447" x2="694" y2="465" stroke="#000" stroke-width="2.2" stroke-linecap="butt"/>
<polyline points="698,448 701,451 706,444" stroke="#E0A040" stroke-width="1" fill="none" stroke-linejoin="miter"/>
<text transform="translate(682.33,439) scale(0.8888,1)" font-size="23.5" fill="#000" stroke="#000" stroke-width="0.35">K11</text>
<text transform="translate(683.13,488) scale(0.8221,1)" font-size="23.5" fill="#000" stroke="#000" stroke-width="0.35">+9V</text>
<text transform="translate(671.67,469.2) scale(0.9500,1)" font-size="12" fill="#B02822">1</text>
<rect x="710.5" y="333" width="5" height="33" fill="#000"/>
<line x1="713" y1="350" x2="738" y2="350" stroke="#A01010" stroke-width="2" stroke-linecap="square"/>
<line x1="738" y1="350" x2="772.5" y2="350" stroke="#28A222" stroke-width="2" stroke-linecap="square"/>
<line x1="772.5" y1="350" x2="794" y2="350" stroke="#A01010" stroke-width="2" stroke-linecap="square"/>
<line x1="729" y1="350" x2="747" y2="350" stroke="#000" stroke-width="2" stroke-linecap="butt"/>
<line x1="738" y1="341" x2="738" y2="359" stroke="#000" stroke-width="2" stroke-linecap="butt"/>
<rect x="794" y="339" width="23" height="23" stroke="#000" stroke-width="2" fill="none"/>
<line x1="796" y1="350" x2="814" y2="350" stroke="#000" stroke-width="2.2" stroke-linecap="butt"/>
<line x1="805" y1="341" x2="805" y2="359" stroke="#000" stroke-width="2.2" stroke-linecap="butt"/>
<polyline points="809,342 812,345 817,338" stroke="#E0A040" stroke-width="1" fill="none" stroke-linejoin="miter"/>
<text transform="translate(793.31,332.5) scale(0.8999,1)" font-size="23.5" fill="#000" stroke="#000" stroke-width="0.35">K12</text>
<text transform="translate(793.99,382.5) scale(0.8611,1)" font-size="23.5" fill="#000" stroke="#000" stroke-width="0.35">GND</text>
<text transform="translate(782.67,363.2) scale(0.9500,1)" font-size="12" fill="#B02822">1</text>
<polyline points="626,456 626,818 716,818" stroke="#28A222" stroke-width="2" fill="none" stroke-linejoin="miter"/>
<rect x="736.6" y="797" width="90.4" height="87.4" stroke="#000" stroke-width="2" fill="none"/>
<text transform="translate(737.4,791.8) scale(0.8438,1)" font-size="23.5" fill="#000" stroke="#000" stroke-width="0.35">X4</text>
<text transform="translate(742,824.3) scale(0.9800,1)" font-size="18.5" fill="#000" stroke="#000" stroke-width="0.2">VIN</text>
<line x1="736.6" y1="818" x2="716" y2="818" stroke="#A01010" stroke-width="2" stroke-linecap="square"/>
<text transform="translate(726.67,830.7) scale(0.9500,1)" font-size="12" fill="#B02822">1</text>
<text transform="translate(741.09,846.7) scale(0.9800,1)" font-size="18.5" fill="#000" stroke="#000" stroke-width="0.2">GND</text>
<line x1="736.6" y1="840.4" x2="716" y2="840.4" stroke="#A01010" stroke-width="2" stroke-linecap="square"/>
<text transform="translate(726.81,853.1) scale(0.9500,1)" font-size="12" fill="#B02822">2</text>
<text transform="translate(742,868.7) scale(0.9800,1)" font-size="18.5" fill="#000" stroke="#000" stroke-width="0.2">VOUT</text>
<line x1="736.6" y1="862.4" x2="716" y2="862.4" stroke="#A01010" stroke-width="2" stroke-linecap="square"/>
<text transform="translate(726.87,875.1) scale(0.9500,1)" font-size="12" fill="#B02822">3</text>
<line x1="716" y1="840.4" x2="670" y2="840.4" stroke="#28A222" stroke-width="2" stroke-linecap="square"/>
<line x1="670" y1="840.4" x2="645" y2="840.4" stroke="#A01010" stroke-width="2" stroke-linecap="square"/>
<line x1="661" y1="840.4" x2="679" y2="840.4" stroke="#000" stroke-width="2" stroke-linecap="butt"/>
<line x1="670" y1="831.4" x2="670" y2="849.4" stroke="#000" stroke-width="2" stroke-linecap="butt"/>
<rect x="642.5" y="823.5" width="5" height="33" fill="#000"/>
<line x1="716" y1="862.4" x2="658.6" y2="862.4" stroke="#28A222" stroke-width="2" stroke-linecap="square"/>
<line x1="658.6" y1="862.4" x2="636.4" y2="862.4" stroke="#A01010" stroke-width="2" stroke-linecap="square"/>
<line x1="649.6" y1="862.4" x2="667.6" y2="862.4" stroke="#000" stroke-width="2" stroke-linecap="butt"/>
<line x1="658.6" y1="853.4" x2="658.6" y2="871.4" stroke="#000" stroke-width="2" stroke-linecap="butt"/>
<polygon points="620,862.4 636,856.9 636,867.9" stroke="#000" stroke-width="1" fill="#000" stroke-linejoin="miter"/>
<text transform="translate(616,873.79) rotate(-90) scale(1.0361,1)" font-size="17" fill="#000" stroke="#000" stroke-width="0.2">+5V</text>
<line x1="714.7" y1="862.4" x2="714.7" y2="985" stroke="#28A222" stroke-width="2" stroke-linecap="square"/>
<line x1="714.7" y1="985" x2="704.2" y2="985" stroke="#A01010" stroke-width="2" stroke-linecap="square"/>
<line x1="806" y1="840.4" x2="824" y2="840.4" stroke="#000" stroke-width="2" stroke-linecap="butt"/>
<line x1="815" y1="831.4" x2="815" y2="849.4" stroke="#000" stroke-width="2" stroke-linecap="butt"/>
<polyline points="819,834 822,837 827,830" stroke="#E0A040" stroke-width="1" fill="none" stroke-linejoin="miter"/>
<text transform="translate(735.95,906) scale(0.8773,1)" font-size="23.5" fill="#000" stroke="#000" stroke-width="0.35">Pololu 5V VR S7V7F5</text>
<path d="M667,963 L698,963 Q704.2,963 704.2,969 L704.2,1091 Q704.2,1097.6 698,1097.6 L667,1097.6 Q661.4,1097.6 661.4,1092 L661.4,1086 Q661.4,1079 653,1077 L646,1075 Q638.5,1072 638.5,1063 L638.5,993 Q638.5,985 646,983 L653,981 Q661.4,979 661.4,972 L661.4,969 Q661.4,963 667,963 Z" fill="none" stroke="#000" stroke-width="3.8"/>
<line x1="681.3" y1="963" x2="681.3" y2="956" stroke="#A01010" stroke-width="2" stroke-linecap="square"/>
<line x1="676.3" y1="947.5" x2="686.3" y2="957.5" stroke="#D01010" stroke-width="2.2" stroke-linecap="butt"/>
<line x1="676.3" y1="957.5" x2="686.3" y2="947.5" stroke="#D01010" stroke-width="2.2" stroke-linecap="butt"/>
<line x1="681.3" y1="1097.6" x2="681.3" y2="1105" stroke="#A01010" stroke-width="2" stroke-linecap="square"/>
<line x1="676.3" y1="1104" x2="686.3" y2="1114" stroke="#D01010" stroke-width="2.2" stroke-linecap="butt"/>
<line x1="676.3" y1="1114" x2="686.3" y2="1104" stroke="#D01010" stroke-width="2.2" stroke-linecap="butt"/>
<text transform="translate(684.43,957) scale(0.9500,1)" font-size="12" fill="#B02822">6</text>
<text transform="translate(684.43,1113) scale(0.9500,1)" font-size="12" fill="#B02822">7</text>
<text transform="translate(663.86,991) scale(1.0829,1)" font-size="17" fill="#000" font-weight="bold">+5V</text>
<text transform="translate(672.72,1014) scale(1.1579,1)" font-size="17" fill="#000" font-weight="bold">D-</text>
<text transform="translate(672.75,1036) scale(1.1275,1)" font-size="17" fill="#000" font-weight="bold">D+</text>
<text transform="translate(664.41,1058.6) scale(1.0803,1)" font-size="17" fill="#000" font-weight="bold">n.c.</text>
<text transform="translate(659.66,1081) scale(1.0860,1)" font-size="17" fill="#000" font-weight="bold">GND</text>
<line x1="659.7" y1="1030.8" x2="677.7" y2="1030.8" stroke="#000" stroke-width="3.2" stroke-linecap="butt"/>
<line x1="668.7" y1="1021.8" x2="668.7" y2="1039.8" stroke="#000" stroke-width="3.2" stroke-linecap="butt"/>
<line x1="704.2" y1="985" x2="713.6" y2="985" stroke="#A01010" stroke-width="2" stroke-linecap="square"/>
<text transform="translate(705.64,998) scale(0.9500,1)" font-size="12" fill="#B02822">1</text>
<line x1="704.2" y1="1007.4" x2="713.6" y2="1007.4" stroke="#A01010" stroke-width="2" stroke-linecap="square"/>
<text transform="translate(705.93,1020.4) scale(0.9500,1)" font-size="12" fill="#B02822">2</text>
<line x1="704.2" y1="1030.8" x2="713.6" y2="1030.8" stroke="#A01010" stroke-width="2" stroke-linecap="square"/>
<text transform="translate(706.1,1043.8) scale(0.9500,1)" font-size="12" fill="#B02822">3</text>
<line x1="704.2" y1="1052.7" x2="713.6" y2="1052.7" stroke="#A01010" stroke-width="2" stroke-linecap="square"/>
<text transform="translate(706.27,1065.7) scale(0.9500,1)" font-size="12" fill="#B02822">4</text>
<line x1="704.2" y1="1074.7" x2="713.6" y2="1074.7" stroke="#A01010" stroke-width="2" stroke-linecap="square"/>
<text transform="translate(706.04,1087.7) scale(0.9500,1)" font-size="12" fill="#B02822">5</text>
<line x1="708.7" y1="1047.8" x2="720.7" y2="1059.8" stroke="#D01010" stroke-width="2.2" stroke-linecap="butt"/>
<line x1="708.7" y1="1059.8" x2="720.7" y2="1047.8" stroke="#D01010" stroke-width="2.2" stroke-linecap="butt"/>
<line x1="713.6" y1="1074.7" x2="742.4" y2="1074.7" stroke="#28A222" stroke-width="2" stroke-linecap="square"/>
<line x1="742.4" y1="1074.7" x2="767.3" y2="1074.7" stroke="#A01010" stroke-width="2" stroke-linecap="square"/>
<line x1="733.4" y1="1074.7" x2="751.4" y2="1074.7" stroke="#000" stroke-width="2" stroke-linecap="butt"/>
<line x1="742.4" y1="1065.7" x2="742.4" y2="1083.7" stroke="#000" stroke-width="2" stroke-linecap="butt"/>
<rect x="764.8" y="1058.5" width="5" height="33" fill="#000"/>
<text transform="translate(589.28,1012) scale(1.2269,1)" font-size="20" fill="#000" font-weight="bold">X1</text>
<text transform="translate(470.33,1040.2) scale(1.3934,1)" font-size="20" fill="#000" font-weight="bold">USB-B-MINI</text>
<rect x="408.9" y="618" width="65.7" height="111" stroke="#000" stroke-width="2" fill="none"/>
<rect x="414" y="551.2" width="32.6" height="4.6" fill="#000"/>
<line x1="430.3" y1="553.5" x2="430.3" y2="578.6" stroke="#A01010" stroke-width="2" stroke-linecap="square"/>
<line x1="430.3" y1="578.6" x2="430.3" y2="596" stroke="#28A222" stroke-width="2" stroke-linecap="square"/>
<line x1="430.3" y1="596" x2="430.3" y2="618" stroke="#A01010" stroke-width="2" stroke-linecap="square"/>
<line x1="421.3" y1="578.6" x2="439.3" y2="578.6" stroke="#000" stroke-width="3.2" stroke-linecap="butt"/>
<line x1="430.3" y1="569.6" x2="430.3" y2="587.6" stroke="#000" stroke-width="3.2" stroke-linecap="butt"/>
<text transform="translate(432.31,615.7) scale(0.9500,1)" font-size="12" fill="#B02822">2</text>
<text transform="translate(454.47,615.7) scale(0.9500,1)" font-size="12" fill="#B02822">1</text>
<text transform="translate(430.44,627) scale(1.0000,1)" font-size="14" fill="#000" stroke="#000" stroke-width="0.1">-</text>
<text transform="translate(447.87,628.5) scale(1.0000,1)" font-size="14" fill="#000" stroke="#000" stroke-width="0.1">+</text>
<line x1="432.5" y1="673.3" x2="450.5" y2="673.3" stroke="#000" stroke-width="3.2" stroke-linecap="butt"/>
<line x1="441.5" y1="664.3" x2="441.5" y2="682.3" stroke="#000" stroke-width="3.2" stroke-linecap="butt"/>
<polyline points="445,667 448,670 453,663" stroke="#E0A040" stroke-width="1" fill="none" stroke-linejoin="miter"/>
<text transform="translate(425.37,723.5) scale(1.0000,1)" font-size="14" fill="#000" stroke="#000" stroke-width="0.1">+</text>
<text transform="translate(451.44,726) scale(1.0000,1)" font-size="14" fill="#000" stroke="#000" stroke-width="0.1">-</text>
<text transform="translate(402,658.19) rotate(-90) scale(0.8287,1)" font-size="23.5" fill="#000" stroke="#000" stroke-width="0.35">X17</text>
<text transform="translate(499,742) rotate(-90) scale(0.8759,1)" font-size="23.5" fill="#000" stroke="#000" stroke-width="0.35">Anvilex CCS2-700-HV36</text>
<line x1="430.3" y1="729" x2="430.3" y2="751.5" stroke="#A01010" stroke-width="2" stroke-linecap="square"/>
<line x1="430.3" y1="751.5" x2="430.3" y2="764.3" stroke="#28A222" stroke-width="2" stroke-linecap="square"/>
<line x1="430.3" y1="764.3" x2="430.3" y2="785" stroke="#A01010" stroke-width="2" stroke-linecap="square"/>
<g transform="translate(430.3,800.85) rotate(90)"><polygon points="-16.5,-16.5 -16.5,16.5 16.5,0" fill="none" stroke="#000" stroke-width="2" stroke-linejoin="miter"/><line x1="16.5" y1="-17.0" x2="16.5" y2="17.0" stroke="#000" stroke-width="2.2"/><polyline points="6.0,-17.0 16.5,-17.0" stroke="#000" stroke-width="2.2" fill="none"/><polyline points="16.5,17.0 27.5,17.0" stroke="#000" stroke-width="2.2" fill="none"/><line x1="-16.5" y1="0" x2="16.5" y2="0" stroke="#000" stroke-width="2"/><line x1="-5" y1="-9" x2="-5" y2="9" stroke="#000" stroke-width="3"/><polyline points="-1,-6 1,-4 5,-9" stroke="#E0A040" stroke-width="1" fill="none"/></g>
<line x1="430.3" y1="816.7" x2="430.3" y2="839.8" stroke="#A01010" stroke-width="2" stroke-linecap="square"/>
<line x1="430.3" y1="839.8" x2="374.6" y2="839.8" stroke="#28A222" stroke-width="2" stroke-linecap="square"/>
<line x1="452.6" y1="729" x2="452.6" y2="751.5" stroke="#A01010" stroke-width="2" stroke-linecap="square"/>
<line x1="452.6" y1="751.5" x2="452.6" y2="1030" stroke="#28A222" stroke-width="2" stroke-linecap="square"/>
<text transform="translate(432.37,741.9) scale(0.9500,1)" font-size="12" fill="#B02822">4</text>
<text transform="translate(455.47,741.9) scale(0.9500,1)" font-size="12" fill="#B02822">3</text>
<text transform="translate(432.17,783.1) scale(0.9500,1)" font-size="12" fill="#B02822">1</text>
<text transform="translate(432.31,830.3) scale(0.9500,1)" font-size="12" fill="#B02822">2</text>
<text transform="translate(420,766.9) rotate(-90) scale(0.9023,1)" font-size="18.5" fill="#000" stroke="#000" stroke-width="0.2">A</text>
<text transform="translate(397.7,805.52) rotate(-90) scale(0.8673,1)" font-size="23.5" fill="#000" stroke="#000" stroke-width="0.35">SS22</text>
<text transform="translate(475.8,793.31) rotate(-90) scale(0.8016,1)" font-size="23.5" fill="#000" stroke="#000" stroke-width="0.35">D11</text>
<text transform="translate(420,843.35) rotate(-90) scale(0.6431,1)" font-size="18.5" fill="#000" stroke="#000" stroke-width="0.2">K</text>
<line x1="559" y1="456" x2="559" y2="607.2" stroke="#28A222" stroke-width="2" stroke-linecap="square"/>
<line x1="559" y1="607.2" x2="559" y2="628.7" stroke="#A01010" stroke-width="2" stroke-linecap="square"/>
<g transform="translate(559,645) rotate(-90)"><polygon points="-16.5,-16.5 -16.5,16.5 16.5,0" fill="none" stroke="#000" stroke-width="2" stroke-linejoin="miter"/><line x1="16.5" y1="-17.0" x2="16.5" y2="17.0" stroke="#000" stroke-width="2.2"/><polyline points="6.0,-17.0 16.5,-17.0" stroke="#000" stroke-width="2.2" fill="none"/><polyline points="16.5,17.0 27.5,17.0" stroke="#000" stroke-width="2.2" fill="none"/><line x1="-16.5" y1="0" x2="16.5" y2="0" stroke="#000" stroke-width="2"/><line x1="-5" y1="-9" x2="-5" y2="9" stroke="#000" stroke-width="3"/><polyline points="-1,-6 1,-4 5,-9" stroke="#E0A040" stroke-width="1" fill="none"/></g>
<line x1="559" y1="661.3" x2="559" y2="684.4" stroke="#A01010" stroke-width="2" stroke-linecap="square"/>
<polyline points="559,684.4 375,684.4 375,883.9" stroke="#28A222" stroke-width="2" fill="none" stroke-linejoin="miter"/>
<line x1="375" y1="883.9" x2="396.5" y2="883.9" stroke="#A01010" stroke-width="2" stroke-linecap="square"/>
<text transform="translate(582.2,610.43) rotate(-90) scale(0.9692,1)" font-size="18.5" fill="#000" stroke="#000" stroke-width="0.2">K</text>
<text transform="translate(582.2,690.4) rotate(-90) scale(0.8454,1)" font-size="18.5" fill="#000" stroke="#000" stroke-width="0.2">A</text>
<text transform="translate(530.7,689.46) rotate(-90) scale(0.8289,1)" font-size="23.5" fill="#000" stroke="#000" stroke-width="0.35">D9</text>
<text transform="translate(608.8,689.62) rotate(-90) scale(0.8673,1)" font-size="23.5" fill="#000" stroke="#000" stroke-width="0.35">SS22</text>
<text transform="translate(561.01,626.3) scale(0.9500,1)" font-size="12" fill="#B02822">2</text>
<text transform="translate(560.87,674) scale(0.9500,1)" font-size="12" fill="#B02822">1</text>
<rect x="396.5" y="862.1" width="67.3" height="66.9" stroke="#000" stroke-width="2" fill="none"/>
<text transform="translate(396.99,857) scale(0.8657,1)" font-size="23.5" fill="#000" stroke="#000" stroke-width="0.35">X3</text>
<text transform="translate(400.82,890.5) scale(1.0000,1)" font-size="15" fill="#000" stroke="#000" stroke-width="0.1">+</text>
<text transform="translate(399.9,913) scale(1.0000,1)" font-size="15" fill="#000" stroke="#000" stroke-width="0.1">-</text>
<text transform="translate(386.05,895.5) scale(1.0000,1)" font-size="10" fill="#B02822">+</text>
<text transform="translate(386.6,918.5) scale(1.0000,1)" font-size="10" fill="#B02822">-</text>
<line x1="443.6" y1="895.6" x2="461.6" y2="895.6" stroke="#000" stroke-width="2" stroke-linecap="butt"/>
<line x1="452.6" y1="886.6" x2="452.6" y2="904.6" stroke="#000" stroke-width="2" stroke-linecap="butt"/>
<polyline points="456,889 459,892 464,885" stroke="#E0A040" stroke-width="1" fill="none" stroke-linejoin="miter"/>
<line x1="375" y1="907.6" x2="396.5" y2="907.6" stroke="#A01010" stroke-width="2" stroke-linecap="square"/>
<line x1="375" y1="907.6" x2="375" y2="1007.5" stroke="#28A222" stroke-width="2" stroke-linecap="square"/>
<line x1="375" y1="1007.5" x2="397" y2="1007.5" stroke="#A01010" stroke-width="2" stroke-linecap="square"/>
<text transform="translate(385.58,950) scale(0.8654,1)" font-size="23.5" fill="#000" stroke="#000" stroke-width="0.35">Supercap PowerStor</text>
<rect x="397" y="986" width="66.8" height="65" stroke="#000" stroke-width="2" fill="none"/>
<text transform="translate(397.09,980) scale(0.8658,1)" font-size="23.5" fill="#000" stroke="#000" stroke-width="0.35">X2</text>
<text transform="translate(400.82,1013.5) scale(1.0000,1)" font-size="15" fill="#000" stroke="#000" stroke-width="0.1">+</text>
<text transform="translate(399.9,1036) scale(1.0000,1)" font-size="15" fill="#000" stroke="#000" stroke-width="0.1">-</text>
<text transform="translate(386.05,1019) scale(1.0000,1)" font-size="10" fill="#B02822">+</text>
<text transform="translate(386.6,1042) scale(1.0000,1)" font-size="10" fill="#B02822">-</text>
<line x1="443.6" y1="1016" x2="461.6" y2="1016" stroke="#000" stroke-width="2" stroke-linecap="butt"/>
<line x1="452.6" y1="1007" x2="452.6" y2="1025" stroke="#000" stroke-width="2" stroke-linecap="butt"/>
<polyline points="456,1009 459,1012 464,1005" stroke="#E0A040" stroke-width="1" fill="none" stroke-linejoin="miter"/>
<line x1="374" y1="1030" x2="452.6" y2="1030" stroke="#28A222" stroke-width="2" stroke-linecap="square"/>
<text transform="translate(385.58,1072.5) scale(0.8654,1)" font-size="23.5" fill="#000" stroke="#000" stroke-width="0.35">Supercap PowerStor</text>
<line x1="374" y1="1030" x2="374" y2="1092.5" stroke="#28A222" stroke-width="2" stroke-linecap="square"/>
<line x1="374" y1="1092.5" x2="374" y2="1115" stroke="#A01010" stroke-width="2" stroke-linecap="square"/>
<g transform="translate(374,1131.25) rotate(-90)"><polygon points="-16.5,-16.5 -16.5,16.5 16.5,0" fill="none" stroke="#000" stroke-width="2" stroke-linejoin="miter"/><line x1="16.5" y1="-17.0" x2="16.5" y2="17.0" stroke="#000" stroke-width="2.2"/><polyline points="6.0,-17.0 16.5,-17.0" stroke="#000" stroke-width="2.2" fill="none"/><polyline points="16.5,17.0 27.5,17.0" stroke="#000" stroke-width="2.2" fill="none"/><line x1="-16.5" y1="0" x2="16.5" y2="0" stroke="#000" stroke-width="2"/><line x1="-5" y1="-9" x2="-5" y2="9" stroke="#000" stroke-width="3"/><polyline points="-1,-6 1,-4 5,-9" stroke="#E0A040" stroke-width="1" fill="none"/></g>
<line x1="374" y1="1147.5" x2="374" y2="1169" stroke="#A01010" stroke-width="2" stroke-linecap="square"/>
<line x1="374" y1="1169" x2="374" y2="1197.5" stroke="#28A222" stroke-width="2" stroke-linecap="square"/>
<line x1="374" y1="1197.5" x2="374" y2="1219" stroke="#A01010" stroke-width="2" stroke-linecap="square"/>
<line x1="365" y1="1197.5" x2="383" y2="1197.5" stroke="#000" stroke-width="2" stroke-linecap="butt"/>
<line x1="374" y1="1188.5" x2="374" y2="1206.5" stroke="#000" stroke-width="2" stroke-linecap="butt"/>
<rect x="357.5" y="1218.5" width="33" height="5" fill="#000"/>
<text transform="translate(397.5,1095.38) rotate(-90) scale(0.9320,1)" font-size="18.5" fill="#000" stroke="#000" stroke-width="0.2">K</text>
<text transform="translate(397.5,1175) rotate(-90) scale(0.7316,1)" font-size="18.5" fill="#000" stroke="#000" stroke-width="0.2">A</text>
<text transform="translate(347.5,1175.63) rotate(-90) scale(0.8659,1)" font-size="23.5" fill="#000" stroke="#000" stroke-width="0.35">D10</text>
<text transform="translate(425,1175.94) rotate(-90) scale(0.8854,1)" font-size="23.5" fill="#000" stroke="#000" stroke-width="0.35">SS22</text>
<text transform="translate(376.81,1111.7) scale(0.9500,1)" font-size="12" fill="#B02822">2</text>
<text transform="translate(376.67,1159.2) scale(0.9500,1)" font-size="12" fill="#B02822">1</text>
<circle cx="197" cy="455.5" r="2.7" fill="#10C810"/>
<circle cx="319.5" cy="455.5" r="2.7" fill="#10C810"/>
<circle cx="559" cy="455.5" r="2.7" fill="#10C810"/>
<circle cx="626" cy="455.5" r="2.7" fill="#10C810"/>
<circle cx="207.5" cy="662" r="2.7" fill="#10C810"/>
<circle cx="319.5" cy="517.5" r="2.7" fill="#10C810"/>
<circle cx="721" cy="171.25" r="2.7" fill="#10C810"/>
<circle cx="1458" cy="139" r="2.7" fill="#10C810"/>
<circle cx="1932" cy="140" r="2.7" fill="#10C810"/>
<circle cx="1663.8" cy="681" r="2.7" fill="#10C810"/>
<circle cx="1730.6" cy="681" r="2.7" fill="#10C810"/>
<circle cx="1663.8" cy="736.8" r="2.7" fill="#10C810"/>
<circle cx="1730.6" cy="736.8" r="2.7" fill="#10C810"/>
<circle cx="1663.8" cy="792.6" r="2.7" fill="#10C810"/>
<circle cx="1730.6" cy="792.6" r="2.7" fill="#10C810"/>
<circle cx="1663.8" cy="847" r="2.7" fill="#10C810"/>
<circle cx="1730.6" cy="847" r="2.7" fill="#10C810"/>
<circle cx="1663.8" cy="903.2" r="2.7" fill="#10C810"/>
<circle cx="1730.6" cy="903.2" r="2.7" fill="#10C810"/>
<circle cx="1000" cy="668.5" r="2.7" fill="#10C810"/>
<circle cx="1000" cy="785.6" r="2.7" fill="#10C810"/>
<circle cx="1000" cy="807.9" r="2.7" fill="#10C810"/>
<circle cx="999.6" cy="873.6" r="2.7" fill="#10C810"/>
<circle cx="999.6" cy="896.6" r="2.7" fill="#10C810"/>
<circle cx="999.6" cy="918.6" r="2.7" fill="#10C810"/>
<circle cx="999.6" cy="941" r="2.7" fill="#10C810"/>
<circle cx="916" cy="517.5" r="2.7" fill="#10C810"/>
<circle cx="916" cy="595.5" r="2.7" fill="#10C810"/>
<circle cx="715" cy="862.4" r="2.7" fill="#10C810"/>
<circle cx="374.6" cy="839.8" r="2.7" fill="#10C810"/>
<circle cx="374" cy="1030" r="2.7" fill="#10C810"/>
</svg></body></html>
